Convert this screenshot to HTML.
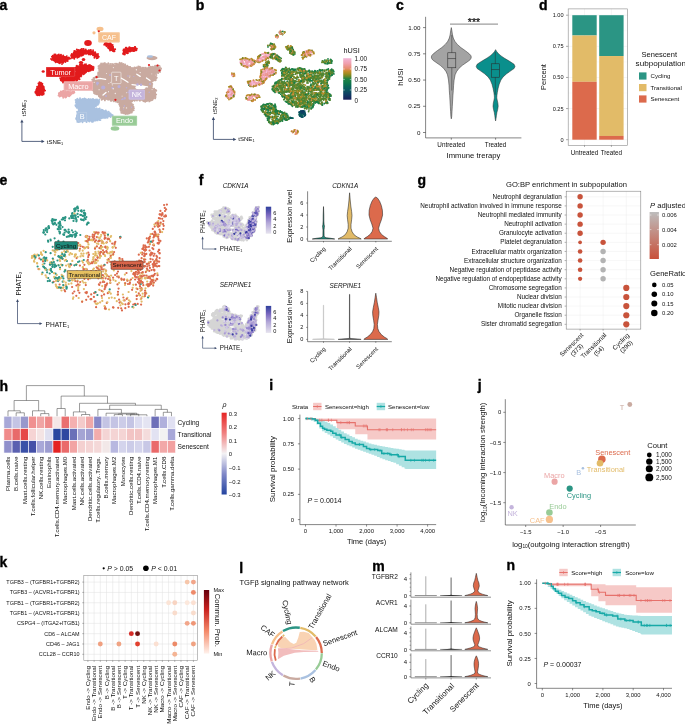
<!DOCTYPE html>
<html><head><meta charset="utf-8"><style>
html,body{margin:0;padding:0;background:#fff;width:685px;height:724px;overflow:hidden}
svg{display:block;will-change:transform}
text{font-family:"Liberation Sans", sans-serif}
</style></head><body>
<svg width="685" height="724" viewBox="0 0 685 724">
<rect width="685" height="724" fill="#fff"/>
<g fill="#111">
<g>
<ellipse cx="88" cy="43" rx="3.8" ry="3" fill="#e21a1c"/>
<path d="M52 56 L55 54.5 L60 55 L65 56 L69.5 57.5 L69 59.5 L66 61.5 L62 63.5 L57 63 L53 61 L51.5 58.5 Z" fill="#e21a1c"/>
<path d="M71 56 L73 52.5 L77 50 L81 49.3 L85 49.5 L87.5 51 L86 54 L82 55.5 L78 57 L74 58.5 L71 58 Z" fill="#e21a1c"/>
<path d="M87.5 51 L90 49.8 L93 51 L96 53 L99 55.5 L98 58 L95 57.5 L92 55 L89 54.5 L86 54 Z" fill="#e21a1c"/>
<ellipse cx="83.5" cy="59.5" rx="1.8" ry="1.5" fill="#e21a1c"/>
<ellipse cx="81" cy="62.5" rx="2.2" ry="1.5" fill="#e21a1c"/>
<path d="M76 66 L80 65 L84 64.7 L89 65 L93 66.5 L93.5 69 L91 71 L87 72 L84 73.5 L81 76 L79 79 L76 80.2 L75 76 L75.3 70 Z" fill="#e21a1c"/>
<path d="M60 78 L66 77 L75 76.9 L78.6 77.5 L77 80 L72 82 L66 83 L61 81.5 Z" fill="#e21a1c"/>
<path d="M39 83 L41 82.4 L42.5 84 L43 86.5 L44.9 89 L44.5 92.5 L42 95 L38 95.6 L35.5 94 L35 91 L37 88 L38 85 Z" fill="#e21a1c"/>
<path d="M104 43 L109 42.8 L112 43.5 L112.5 46 L114 48 L115.1 50.5 L113 51.5 L110 50 L108 47 L105 45 Z" fill="#e21a1c"/>
<path d="M124 48.5 L128 47.5 L132 46.9 L136 47.2 L136.7 49.5 L134.5 51.5 L130 52 L126 53.5 L123.5 55 L122.7 53 L123.5 50 Z" fill="#e21a1c"/>
<ellipse cx="43.2" cy="71.5" rx="1.6" ry="1.3" fill="#e21a1c"/>
<path d="M99.3 64.8 L102 63.8 L105.2 63.2 L109 64.2 L113.4 64.4 L117 63.4 L120.4 63.2 L124 64.5 L128.5 66.1 L131 67 L134.4 67.9 L137 67 L140.2 66.7 L142.5 67.8 L144.9 68.5 L147.5 67.3 L150.7 66.7 L153 66.4 L155.4 66.1 L158 66 L160 66.7 L160.7 69 L160.4 70.2 L158.9 72.6 L156.4 74 L155.4 74.9 L156.4 77.7 L155 80 L153.6 80.7 L152.3 82.5 L152.3 87.3 L155.6 90.5 L156.4 94.5 L155.5 97 L153.1 99.3 L150 100.5 L147.5 101.8 L143.5 101 L139 100.6 L135.5 100.1 L130.7 102.6 L133.9 106.6 L133.1 111.4 L130 113.5 L127.4 114.6 L124 114 L121.8 113 L120.2 108.2 L118.6 102.6 L113 101 L108.2 100.1 L104 99.8 L101.8 99.3 L99.5 96.5 L97.7 94.5 L94.5 93.5 L92.9 92.1 L92.3 88 L92.1 84.1 L92.9 78.5 L95 77.3 L97 76 L99.3 71.4 L98.8 68 Z" fill="#c9aaa0"/>
<ellipse cx="152" cy="58" rx="5.5" ry="2.2" fill="#c9aaa0"/>
<path d="M75.5 100 L78 98.7 L82 99 L86 98.5 L90 99.5 L95 99 L99 100 L100 103 L97 105 L95 108 L99 109 L104 110 L108 112 L112 114 L113 116 L110 117 L106 117.5 L102 119 L98 120 L94 121.8 L88 121.5 L82 121.8 L77 121.5 L76 118 L77 114 L78 110 L76 106 L75.3 103 Z" fill="#a9c1e0"/>
<ellipse cx="115" cy="128.5" rx="4.3" ry="2.2" fill="#98cb96"/>
<path d="M58.5 93 L62 91.3 L68 91 L74 91.5 L74.2 93.5 L70 95 L66 97.8 L62 97 L59 95.5 Z" fill="#eba5a5"/>
<ellipse cx="100" cy="29" rx="3.5" ry="2.2" fill="#f6c08c"/>
<ellipse cx="94" cy="32.8" rx="1.6" ry="1.6" fill="#f6c08c"/>
<path d="M52.8 56.1h0M52.8 55.6h0M54.3 54.5h0M55.5 54.4h0M58.2 54.8h0M58.3 55.4h0M58.9 54.4h0M63.2 55.4h0M61 54.7h0M61 55.2h0M60.8 54.9h0M66.8 56.1h0M68.8 57.4h0M66.4 56.7h0M69.2 58h0M69.7 58.8h0M66.7 60.9h0M67.7 61.1h0M67.6 60h0M65.4 61.9h0M65.4 62.1h0M63.2 62.8h0M59.8 63.3h0M60 62.7h0M62 64.1h0M58.9 62.8h0M55.6 62.3h0M55.3 61.6h0M55.5 62.1h0M52 59.9h0M51 58.9h0M52.4 56.7h0M51.9 56.6h0M71.3 55h0M71.8 54h0M71.8 54.1h0M75.3 51.3h0M74.3 51h0M73.8 52.5h0M80.6 49.8h0M78.4 50h0M76.8 49.4h0M83.7 49h0M83.3 48.9h0M81.7 48.9h0M85.9 49.9h0M85.8 49.4h0M86.8 51.8h0M87.8 51.3h0M87.3 52h0M85.3 53.6h0M82.7 55.3h0M83.3 54.7h0M78.5 57h0M81.3 55.7h0M79.5 56.5h0M77.5 57.6h0M74.3 58.7h0M77.3 57.8h0M72.5 57.7h0M70.8 58.4h0M71.1 55.7h0M71.6 56.5h0M88.6 50.2h0M88.2 50.7h0M90.1 50.2h0M90.9 49.9h0M93.1 50.3h0M93.4 52h0M95.2 52.2h0M95.4 52.9h0M97.5 54.1h0M98 53.9h0M97.7 54.4h0M97.7 58.1h0M98.8 56.8h0M96.7 58.3h0M96.7 58.2h0M94.7 56.7h0M94.4 57.8h0M93 55.3h0M90.5 54.5h0M90 54.2h0M88.7 54.4h0M86.2 53.8h0M87.6 51.1h0M86.5 51.5h0M86.8 51h0M79.9 64.6h0M76.4 66.1h0M76.9 65.8h0M84.4 64.5h0M81 64.4h0M82.1 64.2h0M88.7 65.1h0M86 64.3h0M89.1 65.5h0M84.2 64.9h0M93 66.7h0M91.4 66h0M89.9 65h0M93.7 67.1h0M93.5 68.7h0M92.3 69.6h0M93.1 70.1h0M92.5 69.7h0M88.8 71.3h0M90.6 70.5h0M88.3 71h0M84.8 73.3h0M86 72.3h0M85.8 72.2h0M80.8 76.2h0M81.4 75.7h0M83.7 74.3h0M80.9 76.5h0M78.6 78.5h0M79.6 79.2h0M76.8 80.2h0M78.4 78.8h0M77.1 79.6h0M76.5 80.3h0M75.5 78.3h0M75.4 78.1h0M74.5 74.6h0M75.2 73h0M74.7 73.4h0M75.5 74.3h0M75.7 68.1h0M75.3 70h0M75.7 67.6h0M64.1 77.3h0M62.5 77.4h0M63.9 77.9h0M61.8 77.2h0M66.7 77.4h0M67.8 77.4h0M69 77.4h0M69.6 77.2h0M71.8 77.4h0M74.7 76.5h0M75.6 77.1h0M77.2 77.6h0M77.4 77.3h0M78.6 77.4h0M77.4 80.1h0M76.2 81.1h0M76.6 80.7h0M73.9 81.3h0M72.9 81.7h0M67.1 82.4h0M69.6 82.8h0M65.8 83.1h0M69.1 82.2h0M65.1 82h0M65 82.1h0M63 82.5h0M64.7 82.7h0M60.8 80.2h0M60.7 79.5h0M60.1 78.1h0M41 82.6h0M39.5 82.3h0M41.8 84h0M42.4 83.6h0M42.6 86.4h0M42.6 85.4h0M43.7 86.8h0M43.8 87.4h0M45.1 90.6h0M44.9 90.6h0M44.2 89.4h0M43.5 94.4h0M43.8 93.7h0M42.3 94.9h0M37.8 95.2h0M39.6 95.2h0M41.9 94.9h0M37.4 95.1h0M36.6 94.7h0M35.5 92.7h0M35.3 91.9h0M36.4 89.6h0M37 89h0M36.8 88.4h0M37.5 87.7h0M37.1 86.8h0M38.4 83.5h0M38.8 83.9h0M106 42.4h0M107.1 43.1h0M106.2 43h0M104.7 43.4h0M109.3 43.4h0M110.4 43.2h0M112 45.5h0M112.7 45h0M113.1 47.3h0M113.1 46.8h0M114 49.4h0M115.2 49.2h0M113.4 51.2h0M114.5 51.3h0M112.6 50.8h0M110 50.5h0M110.9 50.1h0M108.5 48h0M108.4 48.2h0M109.8 49.5h0M106.6 46.3h0M106 45.6h0M108 47.4h0M104.2 44.8h0M104.7 43.5h0M125.8 47.7h0M126.3 47.7h0M125.8 47.6h0M129.3 47.3h0M130 47.4h0M129.4 47.8h0M135.4 47.6h0M135.2 47h0M134.8 47h0M136.9 48.8h0M136.1 48.9h0M134.7 50.7h0M136.4 50.2h0M129.9 51.4h0M130.2 51.6h0M133.5 51h0M127.7 53.2h0M126.8 53.1h0M128 53.1h0M124.9 54.4h0M124.3 54.5h0M123.1 53.4h0M123.1 53.9h0M123.3 50.6h0M123.6 51.1h0M123.6 49.4h0" stroke="#e21a1c" stroke-width="1.9" stroke-linecap="round"/>
<path d="M100.2 65.1h0M101.1 63.5h0M104.6 63.2h0M104.6 63.2h0M103 63.4h0M108.3 63.3h0M106.7 64.1h0M105 63.1h0M112 63.9h0M112.9 64.8h0M110.2 64h0M115.2 63.6h0M116.8 63.7h0M114 64.2h0M120.6 63.6h0M119.4 63.7h0M119.6 62.8h0M121.8 63.2h0M121.7 63.1h0M123.5 64h0M125.2 64.8h0M127.4 65.7h0M125.2 64.5h0M128.8 67h0M130.2 67h0M134.7 68.4h0M134.5 67.4h0M132.9 68.1h0M136.7 67.5h0M135.9 67.7h0M138.2 67.5h0M138.3 66.4h0M139.3 67.3h0M140.5 67.2h0M139.8 66.8h0M142.7 67.7h0M144 67.7h0M145.5 68.6h0M145.8 67.7h0M149.1 67.3h0M148.9 67.2h0M150.7 66.7h0M152.3 67h0M152.8 66.8h0M155.1 65.7h0M155.1 66.2h0M156.6 66.5h0M157.6 65.5h0M159.7 66.2h0M158.8 65.6h0M159.8 67.4h0M161.1 68.5h0M160.6 69.7h0M160 72h0M159.9 70.9h0M158.2 73.1h0M158.1 73h0M156.4 74.9h0M155.8 76.4h0M156.8 77.7h0M155.7 80.2h0M155.8 78.9h0M154.8 80.2h0M153.1 80.8h0M153 80.8h0M152 83.8h0M152 85.9h0M152.3 84h0M154.5 89.8h0M154.2 88.8h0M155.8 89.9h0M156.3 90.7h0M155.3 90.6h0M156.2 94.6h0M155.2 96.7h0M155.6 97h0M155.2 98.4h0M155.3 97.1h0M153.4 98.3h0M152.2 100h0M150.8 100.5h0M152.7 99.6h0M149.3 101.4h0M150.1 100.2h0M146.4 101.1h0M145.3 101.8h0M143.3 101h0M139.5 100.3h0M139.9 100.7h0M144 101.2h0M136.3 99.9h0M137 100.6h0M135.7 99.9h0M132 101.4h0M134.6 100.7h0M130.9 102.6h0M134.7 100.2h0M132.6 105h0M131.8 103.9h0M132.3 105.5h0M133 104.8h0M133.9 108.3h0M133.7 110.3h0M133.3 108.5h0M133.5 106.8h0M131.7 112.6h0M130.6 112.5h0M131.8 112.5h0M129.4 113.3h0M127.9 113.8h0M125.7 114h0M125.4 113.7h0M125.8 114.1h0M122.5 112.7h0M124.1 113.4h0M121 110.9h0M121.3 112.7h0M120.5 108.2h0M120.4 109.8h0M120.2 106.2h0M119.1 104.1h0M119.7 104.7h0M119.3 104.4h0M115.5 101.6h0M113.7 101.2h0M118.3 102.1h0M117.3 102.3h0M111.5 100.8h0M110.6 100.1h0M111.4 100.7h0M110.8 100.8h0M104.8 99.7h0M104.9 100.4h0M108.1 99.7h0M102.6 99.2h0M101.6 99.8h0M100.8 97.8h0M100.1 97.8h0M100.1 96.5h0M98.3 94.8h0M98.9 96.2h0M96.6 94.2h0M96.9 94h0M95.2 93.9h0M94.7 92.8h0M94 93h0M92.4 89.7h0M92.8 88.3h0M92.8 88.5h0M91.8 84.9h0M91.8 86.9h0M91.9 84.9h0M92.6 82.8h0M92.2 79.7h0M92.2 82.4h0M92.7 81.8h0M93.5 78.1h0M94.4 77.6h0M95.8 76.9h0M96.4 76.5h0M98.3 73.8h0M98.2 72.5h0M99.4 71.9h0M98 73.9h0M99.2 68.4h0M99.1 70h0M99.2 67.8h0M98.5 66.2h0M98.5 68.1h0M99.5 65.6h0" stroke="#c9aaa0" stroke-width="1.9" stroke-linecap="round"/>
<path d="M76.5 100.2h0M77.3 98.6h0M80.8 99.4h0M80 98.3h0M81.8 99.4h0M84.5 98.4h0M85.6 99.2h0M82.8 98.9h0M88.1 99.5h0M89.1 99.5h0M88.7 98.9h0M93.4 99.3h0M92 99.5h0M93 98.9h0M90.6 99.3h0M96 99.4h0M99.2 99.8h0M97.1 99.5h0M99 101.1h0M99 101.5h0M98.5 103.8h0M97.8 104.8h0M97.6 104h0M96.3 105.5h0M95.6 106h0M96.1 106.1h0M96.8 108.5h0M98.6 108.9h0M96.2 108.5h0M99.7 108.5h0M102.6 110h0M101.5 109.6h0M99.1 108.9h0M105.3 111.2h0M105.8 110.4h0M106.7 111.5h0M108.7 111.8h0M109.6 113.3h0M110.5 113.5h0M111.7 114.9h0M112.7 115.2h0M110.6 117.1h0M110.8 116.3h0M107.5 117.7h0M107.6 117.2h0M105.9 117.7h0M104.4 117.4h0M105.5 117.7h0M104.2 117.9h0M99.7 120.1h0M100.4 120.1h0M98.8 119.5h0M98 119.7h0M95.7 120.5h0M97.5 120.4h0M88.9 121h0M89.4 121.5h0M91.9 121.8h0M92.9 121.8h0M86.6 122h0M82.4 121.3h0M82.5 122.2h0M86.5 122h0M80 121.7h0M77.4 121.4h0M77.4 121.9h0M78.6 122.1h0M77.1 119.9h0M76.1 118.2h0M76.2 119h0M77 115.4h0M77.2 114.9h0M77 116.7h0M77.1 111.8h0M77.5 113.7h0M77.4 112.7h0M76.8 107.8h0M76.2 106.6h0M75.8 106.4h0M75.4 105.5h0M75.4 105.3h0M75.8 102.1h0M75.6 99.9h0" stroke="#a9c1e0" stroke-width="1.9" stroke-linecap="round"/>
<path d="M58.9 93.3h0M60 92.6h0M60.7 91.5h0M63.5 91h0M62.2 91.5h0M63.2 91h0M65.2 90.9h0M73.8 91.8h0M68.2 91.5h0M72.7 91.4h0M70.5 90.6h0M74.4 92.6h0M74.1 91.8h0M70.4 95.4h0M72.9 93.4h0M71.3 94.1h0M68.7 96.1h0M69.2 96.2h0M69.6 95h0M65.5 97.5h0M63.2 97.7h0M66 97.2h0M63.5 97.1h0M60.4 96.1h0M59.7 95.6h0M59.7 96.5h0M58.8 93.9h0M58.5 95.6h0" stroke="#eba5a5" stroke-width="1.9" stroke-linecap="round"/>
<path d="M95.5 79.2 L100 78.4 L105.6 79.3" fill="none" stroke="#ffffff" stroke-width="1.3" stroke-linecap="round"/>
<path d="M121.4 78.2 L124.5 80 L128 82.2" fill="none" stroke="#ffffff" stroke-width="1.3" stroke-linecap="round"/>
<path d="M136.8 74.2 L140.2 76.4" fill="none" stroke="#ffffff" stroke-width="1.3" stroke-linecap="round"/>
<path d="M132 84.6 L138 85.4 L147.5 86.8" fill="none" stroke="#ffffff" stroke-width="1.3" stroke-linecap="round"/>
<path d="M103 95 L106 92.5" fill="none" stroke="#ffffff" stroke-width="1.3" stroke-linecap="round"/>
<path d="M146.5 78 L150 80.5" fill="none" stroke="#ffffff" stroke-width="1.3" stroke-linecap="round"/>
<ellipse cx="140.5" cy="87.4" rx="5.2" ry="1.9" fill="#ffffff"/>
<path d="M103.2 87.5h0" stroke="#b9aedb" stroke-width="4.2" stroke-linecap="round"/>
<path d="M119 86.5h0" stroke="#b9aedb" stroke-width="3" stroke-linecap="round"/>
<path d="M137.5 84.5h0" stroke="#b9aedb" stroke-width="2.6" stroke-linecap="round"/>
<path d="M141 84.7h0M124.7 98.3h0" stroke="#b9aedb" stroke-width="2.4" stroke-linecap="round"/>
<path d="M97.5 83.2h0" stroke="#b9aedb" stroke-width="2.8" stroke-linecap="round"/>
<path d="M112.4 87.8h0" stroke="#b9aedb" stroke-width="2.2" stroke-linecap="round"/>
<path d="M110 75h0M150 84h0M106 96h0M122.6 99.2h0" stroke="#b9aedb" stroke-width="1.8" stroke-linecap="round"/>
<path d="M128 76h0M97.2 84.8h0M126.5 87.7h0M124.4 106h0M128.1 92.2h0" stroke="#b9aedb" stroke-width="1.6" stroke-linecap="round"/>
<path d="M121.8 99.6h0M133.8 76.5h0M123.5 109h0" stroke="#b9aedb" stroke-width="1.2" stroke-linecap="round"/>
<path d="M149.2 92.2h0M131.6 107.3h0" stroke="#b9aedb" stroke-width="1.4" stroke-linecap="round"/>
<path d="M139.9 95.4h0M112.3 84.8h0M94.2 82.3h0M113.4 67.6h0M99.1 89.7h0M108.5 91.7h0" stroke="#f3ecea" stroke-width="1.2" stroke-linecap="round"/>
<path d="M122.1 96.2h0M126.7 92.7h0M108.8 83.5h0M152.1 89.6h0M133.5 93.2h0M110.3 82.4h0M106.6 73.5h0M129.9 76.1h0" stroke="#f3ecea" stroke-width="1" stroke-linecap="round"/>
<path d="M115.3 93.5h0M136.4 69.8h0M140.2 72.6h0M133.8 94.9h0M113.2 88.8h0M126.5 107.9h0" stroke="#f3ecea" stroke-width="1.4" stroke-linecap="round"/>
<path d="M151.8 73.9h0M123.8 107.7h0M129.7 77.4h0M159.2 66.7h0M114.9 64.2h0" stroke="#f3ecea" stroke-width="0.8" stroke-linecap="round"/>
<ellipse cx="150" cy="56.5" rx="3" ry="1.2" fill="#a9c1e0"/>
<circle cx="149" cy="65" r="1.1" fill="#e21a1c"/>
<circle cx="157.5" cy="65.5" r="1.1" fill="#e21a1c"/>
<circle cx="159.5" cy="70.5" r="1.1" fill="#e21a1c"/>
<circle cx="96.6" cy="77.2" r="1.1" fill="#e21a1c"/>
<circle cx="98.8" cy="31.3" r="1.1" fill="#e21a1c"/>
<circle cx="115.4" cy="99.8" r="1.1" fill="#e21a1c"/>
<rect x="98.2" y="32.3" width="21.6" height="10.1" fill="#f6c08c" rx="0.8"/>
<rect x="98.8" y="32.9" width="20.4" height="8.9" fill="none" stroke="#ffffff" stroke-width="0.35" rx="0.6" stroke-opacity="0.45"/>
<text x="109" y="39.95" font-size="7" text-anchor="middle" fill="#ffffff">CAF</text>
<rect x="46" y="67" width="29.3" height="9.9" fill="#e21a1c" rx="0.8"/>
<rect x="46.6" y="67.6" width="28.1" height="8.7" fill="none" stroke="#ffffff" stroke-width="0.35" rx="0.6" stroke-opacity="0.45"/>
<text x="60.65" y="74.55" font-size="7.3" text-anchor="middle" fill="#ffffff">Tumor</text>
<rect x="63.7" y="81.3" width="29.3" height="9.4" fill="#eba5a5" rx="0.8"/>
<rect x="64.3" y="81.9" width="28.1" height="8.2" fill="none" stroke="#ffffff" stroke-width="0.35" rx="0.6" stroke-opacity="0.45"/>
<text x="78.35" y="88.6" font-size="7.3" text-anchor="middle" fill="#ffffff">Macro</text>
<rect x="111.6" y="72.2" width="9.4" height="11.4" fill="none" stroke="#ffffff" stroke-width="0.5" rx="0.8"/>
<text x="116.3" y="80.5" font-size="7.3" text-anchor="middle" fill="#ffffff">T</text>
<rect x="128.6" y="89.5" width="16.3" height="10.2" fill="#c4b4dc" rx="0.8"/>
<rect x="129.2" y="90.1" width="15.1" height="9" fill="none" stroke="#ffffff" stroke-width="0.35" rx="0.6" stroke-opacity="0.45"/>
<text x="136.75" y="97.2" font-size="7.3" text-anchor="middle" fill="#ffffff">NK</text>
<rect x="77.3" y="111.7" width="10" height="9.8" fill="#a9c1e0" rx="0.8"/>
<rect x="77.9" y="112.3" width="8.8" height="8.6" fill="none" stroke="#ffffff" stroke-width="0.35" rx="0.6" stroke-opacity="0.45"/>
<text x="82.3" y="119.2" font-size="7.3" text-anchor="middle" fill="#ffffff">B</text>
<rect x="111.9" y="115.7" width="25.2" height="10.1" fill="#98cb96" rx="0.8"/>
<rect x="112.5" y="116.3" width="24" height="8.9" fill="none" stroke="#ffffff" stroke-width="0.35" rx="0.6" stroke-opacity="0.45"/>
<text x="124.5" y="123.35" font-size="7.3" text-anchor="middle" fill="#ffffff">Endo</text>
</g>
<path d="M21.9 121.5 L21.9 141.4 L42.6 141.4" fill="none" stroke="#3b4a6b" stroke-width="0.85"/>
<path d="M20.3 122.6 L21.9 119.5 L23.5 122.6 Z" fill="#3b4a6b"/>
<path d="M41.5 139.8 L44.6 141.4 L41.5 143 Z" fill="#3b4a6b"/>
<text x="46.8" y="143.6" font-size="6.1">tSNE<tspan font-size="3.9" dy="1.1">1</tspan></text>
<text x="25.8" y="116.3" font-size="6.1" transform="rotate(-90 25.8 116.3)">tSNE<tspan font-size="3.9" dy="1.1">2</tspan></text>
<g>
<path d="M273.9 47.9h0M271.9 46.9h0M270.6 44.3h0M272.9 44.6h0M273.5 48.2h0M271.7 49h0M269.9 45.4h0M271.8 46.6h0M272.5 44h0" stroke="#b98c28" stroke-width="1.9" stroke-linecap="round"/>
<path d="M272.9 45.3h0M272.3 44.5h0M271.3 45.9h0M274.7 46.8h0M271.8 49.5h0M274.4 45.4h0M270.5 44.7h0" stroke="#798826" stroke-width="1.9" stroke-linecap="round"/>
<path d="M272.4 47.1h0M271.4 45.1h0M271.5 46.7h0M273.2 46.4h0M273 44.5h0M274.4 45.1h0M271.8 49.1h0M273.8 47.9h0" stroke="#a08c20" stroke-width="1.9" stroke-linecap="round"/>
<path d="M271.5 45.4h0M274.3 48.3h0M270.8 48.8h0" stroke="#e99283" stroke-width="1.9" stroke-linecap="round"/>
<path d="M271 48.9h0M273.4 47.8h0M271.7 48.5h0M274.4 46.3h0" stroke="#d18c40" stroke-width="1.9" stroke-linecap="round"/>
<path d="M273.3 48.9h0" stroke="#1e8246" stroke-width="1.9" stroke-linecap="round"/>
<path d="M272.2 49h0M272.7 47h0" stroke="#e68c6e" stroke-width="1.9" stroke-linecap="round"/>
<path d="M274.7 47.3h0M274.9 47.4h0M274.3 48.8h0M271.7 49.4h0M275.1 46.3h0M269.2 45.3h0" stroke="#4e8532" stroke-width="1.8" stroke-linecap="round"/>
<path d="M271 43.3h0M274.2 44.2h0M272.5 49.2h0M274.1 48.5h0M274.6 48.2h0M267.8 45.4h0" stroke="#798826" stroke-width="1.8" stroke-linecap="round"/>
<path d="M272.1 43.9h0M268 46.9h0M270.6 43.5h0" stroke="#1e8246" stroke-width="1.8" stroke-linecap="round"/>
<path d="M274.2 47.1h0M272 49.1h0" stroke="#a08c20" stroke-width="1.8" stroke-linecap="round"/>
<path d="M275.6 46.9h0" stroke="#b98c28" stroke-width="1.8" stroke-linecap="round"/>
<path d="M246.7 62.7h0M252.7 61.3h0M248.3 66.3h0M253.3 64.1h0M246.6 62.4h0M246.3 62.2h0M242.1 59.1h0M252.2 59.8h0M251.8 63.3h0M247 60.3h0M249 62.2h0M250.5 64.8h0M242.8 61.4h0M253 60.7h0M250.4 61.5h0M245 60.1h0M247.3 60.1h0M246.1 61.3h0M245.2 58.7h0M247.3 59.5h0M247.1 60.6h0M247.1 63.8h0M243.2 64.1h0M245.6 65.9h0M247.6 66h0M252.1 61.9h0M244.7 63.7h0" stroke="#f1aec9" stroke-width="1.9" stroke-linecap="round"/>
<path d="M243.1 58.8h0M249.7 60.6h0M241.8 60.8h0M240.5 62.1h0M251.9 61.6h0M251.5 62.5h0M248.4 62.3h0M250.3 59.2h0M250.7 64.1h0M249.5 65.9h0M247.7 61.6h0M251.2 62.3h0M255.2 61h0M243.2 65.2h0M242.4 63.5h0M247.8 65.5h0M247.8 64.1h0M245.4 60.4h0M252.4 61.6h0M247.5 60.7h0M247.1 65.8h0M245 63.8h0M247.8 62.8h0M254.7 60.9h0M252.8 63.7h0M254.6 62.5h0" stroke="#f0a7bc" stroke-width="1.9" stroke-linecap="round"/>
<path d="M255.5 61.4h0M243.2 63.1h0M247.8 60.3h0M242.5 61.8h0M242 62.9h0M249.1 59.3h0M251.8 63.9h0M243.7 63.6h0M246.5 64h0M240.4 62.2h0M242.9 64.8h0M250.7 65.1h0M255.3 61.3h0M250.3 65.2h0M246 61.2h0M251.8 64.8h0M244.8 63.6h0M253.2 61.5h0" stroke="#f2b6d7" stroke-width="1.9" stroke-linecap="round"/>
<path d="M243.5 63.3h0M241.4 60.6h0M250.5 65h0M245.8 62.1h0M244.8 60.1h0M246.9 64.1h0M254.5 63.3h0M247.1 62.7h0M241.7 62.6h0M251.4 60.3h0M251.2 61.6h0M243 62.6h0M250.3 65.3h0M248.6 61.4h0M250.1 61.5h0M248.5 65.7h0M241.8 60.1h0M250.7 61.3h0M246.4 59.6h0M255.1 61.2h0M245.7 61.2h0" stroke="#f0a0af" stroke-width="1.9" stroke-linecap="round"/>
<path d="M246 66.4h0M244.8 60.1h0M252.6 60.1h0M246.5 65.4h0M248.7 60.1h0M242.6 60.8h0" stroke="#ec9999" stroke-width="1.9" stroke-linecap="round"/>
<path d="M252.6 60.4h0M251.6 63.5h0M252.6 63.7h0" stroke="#e99283" stroke-width="1.9" stroke-linecap="round"/>
<path d="M254.1 62.1h0" stroke="#e68c6e" stroke-width="1.9" stroke-linecap="round"/>
<path d="M241.6 59.2h0M245.2 57.8h0M246 58.5h0M249.5 59.7h0M252.4 59.4h0M252.6 60.4h0M254.6 60.8h0M255 62.6h0M251.4 65.5h0M251.2 65.8h0M247.6 67.3h0M241.6 64.9h0M240.1 59.4h0" stroke="#a08c20" stroke-width="1.8" stroke-linecap="round"/>
<path d="M242.8 58.3h0M254.3 61.1h0" stroke="#4e8532" stroke-width="1.8" stroke-linecap="round"/>
<path d="M242.7 57.8h0M243.4 66.1h0M241.5 63.9h0" stroke="#798826" stroke-width="1.8" stroke-linecap="round"/>
<path d="M246.7 58.3h0M243.8 58.5h0M251.3 58.7h0M247.9 58.9h0M253.8 64.1h0M252.5 65.2h0M251 65.9h0M247 66.9h0M245 65.9h0M240.7 63.3h0" stroke="#b98c28" stroke-width="1.8" stroke-linecap="round"/>
<path d="M254 60.2h0M256 60.9h0M253.9 64.3h0M247.3 67.4h0M244 65.9h0M244.4 65.8h0M241.3 59.2h0" stroke="#d18c40" stroke-width="1.8" stroke-linecap="round"/>
<path d="M252 65.5h0M245.2 66.7h0" stroke="#e68c6e" stroke-width="1.8" stroke-linecap="round"/>
<path d="M261.6 57.7h0M261.3 61.1h0M260.9 54.8h0M264.9 58h0M266.8 55.1h0M264.7 57h0M262 54.2h0M266.6 56.5h0M268.9 55.8h0M263.4 53.7h0M264.1 59.4h0M266.2 58.1h0M261 57.4h0M260.5 60.7h0M265.4 57.5h0M259.7 56.4h0M265.2 57.1h0M269.6 57h0M269.7 54.7h0M263 54h0M265.4 57.1h0M265.9 58.6h0M268.1 57.4h0M264.9 53h0M258.7 60.4h0M269.9 56h0" stroke="#f0a7bc" stroke-width="1.9" stroke-linecap="round"/>
<path d="M265.8 58.7h0M270.5 56.1h0M258.6 58.3h0M262.8 57.4h0M261.1 58.8h0M270.1 54h0M266.5 57.9h0M263 57.4h0M262.2 60.1h0M260.2 58.4h0M267.4 57.1h0M259.4 56.5h0M260.1 59.3h0M269.6 55.6h0M269.2 54.2h0M267.5 54.6h0M267.8 54.1h0" stroke="#f1aec9" stroke-width="1.9" stroke-linecap="round"/>
<path d="M265 53.6h0M266.6 56.8h0M265.7 53.8h0M263 60.1h0M264.6 56.5h0M263.1 57h0M265.5 54h0M266.2 58h0M267.2 56.2h0M266 57h0M266.5 58.8h0M262.9 57.4h0M262.2 58.4h0M259.4 55.6h0M265.2 55h0M260.3 58.2h0M268.3 54h0M268.2 54.6h0M259.2 57.3h0M261.9 60h0" stroke="#f0a0af" stroke-width="1.9" stroke-linecap="round"/>
<path d="M266.5 57.2h0M268.2 56.1h0M258.2 57.8h0M266.3 54.3h0M260.6 56.9h0M263.7 56.7h0M262.6 58.5h0M267.5 54.4h0M258.2 58.3h0M263.8 56.1h0M258.8 61.6h0M259.6 60.2h0" stroke="#f2b6d7" stroke-width="1.9" stroke-linecap="round"/>
<path d="M265.7 56.8h0M265.2 57.6h0M263.3 56.8h0M269.1 57h0M265.2 56.5h0M258.7 61.5h0M258.1 60.2h0" stroke="#ec9999" stroke-width="1.9" stroke-linecap="round"/>
<path d="M258.7 58.3h0M266.7 57.2h0" stroke="#e99283" stroke-width="1.9" stroke-linecap="round"/>
<path d="M258.4 58.2h0M258.3 56.5h0M268.6 58.6h0M262.2 61.1h0M260.4 61.9h0M257.3 61.9h0" stroke="#d18c40" stroke-width="1.8" stroke-linecap="round"/>
<path d="M257.7 58.5h0M259.8 55.3h0M258.9 56h0M265.5 52.9h0M266.1 52.8h0M264.9 52.3h0M267.8 53h0M271.2 54.1h0M270.4 56.9h0M266.2 59.7h0M265.3 60.2h0M266.1 59h0M262.9 60.4h0" stroke="#b98c28" stroke-width="1.8" stroke-linecap="round"/>
<path d="M257.8 56.9h0M271.6 54.9h0M270.2 56.6h0M270.6 54.7h0M267.7 58h0M259 62.4h0" stroke="#a08c20" stroke-width="1.8" stroke-linecap="round"/>
<path d="M259.4 56.5h0M268.5 52.6h0M271.7 54.4h0M257.5 61.5h0" stroke="#798826" stroke-width="1.8" stroke-linecap="round"/>
<path d="M260.5 54.9h0M268 53h0" stroke="#4e8532" stroke-width="1.8" stroke-linecap="round"/>
<path d="M270.2 57.1h0M257.7 61.1h0" stroke="#e68c6e" stroke-width="1.8" stroke-linecap="round"/>
<path d="M257.2 59.7h0" stroke="#e99283" stroke-width="1.8" stroke-linecap="round"/>
<path d="M276.6 58.6h0M277.4 58.3h0M275.4 54.5h0M277.3 56.9h0M278.5 59.4h0M272.2 56.8h0M279.5 60.3h0M279.8 59.9h0M279.9 61.4h0M278.5 60.5h0M277.3 57.6h0M272.1 56h0M278.8 58.3h0" stroke="#a08c20" stroke-width="1.9" stroke-linecap="round"/>
<path d="M272.8 54.2h0M271.1 57.7h0" stroke="#177d48" stroke-width="1.9" stroke-linecap="round"/>
<path d="M275.5 54.8h0M271.3 55.7h0M274.2 58.1h0" stroke="#e68c6e" stroke-width="1.9" stroke-linecap="round"/>
<path d="M272.4 55.6h0M276.4 58.7h0M279.1 59.6h0M279.5 61.3h0M275 57.3h0M277.5 59.1h0M277.4 57.6h0M271 56.9h0" stroke="#4e8532" stroke-width="1.9" stroke-linecap="round"/>
<path d="M271 57.2h0M278.9 61h0M277.2 58.1h0M271.2 55.7h0M275.4 57.6h0M276.8 58.4h0" stroke="#b98c28" stroke-width="1.9" stroke-linecap="round"/>
<path d="M275.2 58.3h0M276.3 58.2h0M275.8 57.7h0M277.8 60.4h0" stroke="#1e8246" stroke-width="1.9" stroke-linecap="round"/>
<path d="M272.1 56.4h0M272.3 56.1h0M273.5 54.4h0M276.6 57.2h0M280.3 60.1h0M279.1 57.1h0M275.6 56.2h0M274.6 57.6h0" stroke="#798826" stroke-width="1.9" stroke-linecap="round"/>
<path d="M277.4 55.9h0M277.9 56.5h0" stroke="#d18c40" stroke-width="1.9" stroke-linecap="round"/>
<path d="M274.5 54.3h0" stroke="#e99283" stroke-width="1.9" stroke-linecap="round"/>
<path d="M271.9 54.7h0" stroke="#11794a" stroke-width="1.9" stroke-linecap="round"/>
<path d="M272.4 53.7h0M275.6 58.7h0M271 57.5h0" stroke="#a08c20" stroke-width="1.8" stroke-linecap="round"/>
<path d="M273 54h0M274.1 53.7h0M277.7 56.1h0M281.2 58.4h0M279.9 61h0M281 60.9h0M277.9 60.4h0M272.3 57.4h0M272.6 58.5h0M271.1 55.8h0" stroke="#4e8532" stroke-width="1.8" stroke-linecap="round"/>
<path d="M273.8 54h0M278.7 56.6h0" stroke="#177d48" stroke-width="1.8" stroke-linecap="round"/>
<path d="M274.9 54.1h0M280.2 61.7h0M280.3 60.7h0M278.9 61.3h0M276.5 59.7h0M275.1 58.5h0M270.8 55.4h0M270 56.8h0" stroke="#798826" stroke-width="1.8" stroke-linecap="round"/>
<path d="M277.5 55.6h0M273.5 58.7h0" stroke="#b98c28" stroke-width="1.8" stroke-linecap="round"/>
<path d="M277 55.2h0M280 57.7h0M276.5 59h0M270.4 57.1h0" stroke="#1e8246" stroke-width="1.8" stroke-linecap="round"/>
<path d="M267.9 63.1h0M267.4 63.8h0" stroke="#b98c28" stroke-width="1.9" stroke-linecap="round"/>
<path d="M269 62.2h0M267.2 63h0M269 63.3h0" stroke="#4e8532" stroke-width="1.9" stroke-linecap="round"/>
<path d="M267.8 63.4h0M269.2 62.9h0" stroke="#a08c20" stroke-width="1.9" stroke-linecap="round"/>
<path d="M268.7 62.5h0M267.9 62h0" stroke="#798826" stroke-width="1.9" stroke-linecap="round"/>
<path d="M266.4 62.8h0" stroke="#1e8246" stroke-width="1.9" stroke-linecap="round"/>
<path d="M267.9 62.4h0" stroke="#e68c6e" stroke-width="1.9" stroke-linecap="round"/>
<path d="M266.4 62.3h0" stroke="#177d48" stroke-width="1.8" stroke-linecap="round"/>
<path d="M268.6 62h0M267.4 64h0M265.8 62.3h0" stroke="#4e8532" stroke-width="1.8" stroke-linecap="round"/>
<path d="M268.2 61.5h0M267 62.6h0" stroke="#1e8246" stroke-width="1.8" stroke-linecap="round"/>
<path d="M268.5 61.2h0M267.3 64.5h0M267.4 61.6h0" stroke="#798826" stroke-width="1.8" stroke-linecap="round"/>
<path d="M266.2 62.4h0" stroke="#a08c20" stroke-width="1.8" stroke-linecap="round"/>
<path d="M264.8 64.8h0M266.4 65.1h0M266.5 66.9h0M265.2 66.7h0M264.6 66.6h0M265.2 65.3h0M265.7 66.1h0" stroke="#a08c20" stroke-width="1.9" stroke-linecap="round"/>
<path d="M265.2 65.8h0" stroke="#e68c6e" stroke-width="1.9" stroke-linecap="round"/>
<path d="M266.2 65.2h0" stroke="#d18c40" stroke-width="1.9" stroke-linecap="round"/>
<path d="M264.3 66.2h0" stroke="#798826" stroke-width="1.9" stroke-linecap="round"/>
<path d="M264.5 66.8h0" stroke="#1e8246" stroke-width="1.9" stroke-linecap="round"/>
<path d="M265.9 65.5h0" stroke="#ec9999" stroke-width="1.9" stroke-linecap="round"/>
<path d="M265.4 66.8h0M266.9 67.5h0M267.9 65.6h0M266.2 64.5h0" stroke="#4e8532" stroke-width="1.8" stroke-linecap="round"/>
<path d="M263.5 65h0M265.1 64.5h0M265.5 64.8h0M264.3 66.3h0M267.4 66.8h0" stroke="#798826" stroke-width="1.8" stroke-linecap="round"/>
<path d="M263.6 66.4h0M266.8 64.8h0" stroke="#1e8246" stroke-width="1.8" stroke-linecap="round"/>
<path d="M264.5 65.5h0" stroke="#a08c20" stroke-width="1.8" stroke-linecap="round"/>
<path d="M265.3 70.4h0M270.4 72.8h0M266.1 78.4h0M272.6 71.9h0M269.2 70.7h0M264.6 72.3h0M268.1 71h0M273 72.8h0M271.3 73.6h0M265.7 70.6h0M265.4 72.4h0M267.8 76.8h0M272.4 71.2h0M262.9 77.2h0M272.8 74.2h0M262.6 76.4h0M270 73.2h0M268.3 73h0M269.2 68.6h0M263.5 80.6h0M266.8 71h0" stroke="#f2b6d7" stroke-width="1.9" stroke-linecap="round"/>
<path d="M262.3 71.4h0M261.2 79.5h0M262.4 74.1h0M264.4 80.5h0M267.3 70.1h0M271.1 68.6h0M274.5 70.1h0M264.6 75.9h0M269.4 72.3h0M267.7 75.8h0M273.4 70.5h0M264.6 69.1h0M268.6 75.1h0M271.9 74.7h0M271 72h0M263.1 81.8h0M270.6 69.1h0M263.6 80.1h0M273.6 73.6h0M266.9 78.1h0M263.8 72.6h0M262.4 78.7h0M263.1 72.3h0M274.1 71.5h0M263.2 75.1h0M266.5 78.2h0M273.5 72.6h0M262.2 74.6h0M262.9 73.4h0" stroke="#f1aec9" stroke-width="1.9" stroke-linecap="round"/>
<path d="M271.7 70h0M265.9 68.8h0M264.4 78.9h0M266.1 75.6h0M270.4 75.5h0M265.4 69.2h0M260.9 80.8h0M261.3 80.3h0M266.2 77.9h0M267.8 70.8h0M261.6 80.2h0M268.9 74.1h0M274.4 73.6h0M267 77.6h0M269.3 72.6h0M271.4 72.9h0M267 76.9h0M263.8 71.3h0M260.7 76.4h0M262.2 76.8h0M272.3 72.8h0M264.1 80h0M268.4 75.1h0M264.8 71.2h0M269.1 75h0M263.5 77.7h0M267.1 74.7h0M264.8 71.4h0M261.9 75.5h0M265 70.9h0M263.8 80.6h0M270.9 70.5h0M268.1 76.3h0M263.4 81.6h0M262.4 72.5h0M264.7 73.9h0" stroke="#f0a0af" stroke-width="1.9" stroke-linecap="round"/>
<path d="M261.2 71.9h0M267.5 76.5h0M268.8 68.7h0M261 73.6h0M261.9 75.9h0M272.9 71.1h0M263.8 69.3h0M268.7 76.7h0M268.7 70.4h0M269.8 73.7h0M267.2 74.4h0M265.4 72.6h0M264 82h0M264.5 77.4h0M263.2 81.1h0M268 70.1h0M264.8 69.8h0M272.1 71.4h0M263.6 81.5h0M267.7 74.5h0M261.3 77.3h0M263.5 81.3h0M264.6 76.4h0M265.8 73.9h0M267.9 70.3h0M271.8 71.7h0M264.9 77.8h0M261.4 79.1h0M264.3 74.9h0M266.9 75.9h0M266.3 69.1h0M263.7 72.7h0M274.7 73.2h0M270.7 72.3h0" stroke="#f0a7bc" stroke-width="1.9" stroke-linecap="round"/>
<path d="M271.9 72h0M273.6 71.9h0M265.6 75h0M263.8 82.5h0M269.1 69.2h0M267.4 74.9h0M260.7 76.9h0M261.7 79.3h0" stroke="#e99283" stroke-width="1.9" stroke-linecap="round"/>
<path d="M269.1 70.6h0M267.7 73h0M262.8 72.3h0M265.1 70.7h0M261.8 82.5h0M272.4 68.7h0M261.6 77.7h0M265.8 74h0M266.7 68.4h0M261.1 77.9h0M263.3 74.9h0M261.8 83.3h0M270 73h0M272.8 70.5h0M272.8 72h0M267.1 73.1h0" stroke="#ec9999" stroke-width="1.9" stroke-linecap="round"/>
<path d="M264.5 68.4h0M261.1 70h0M264.4 69h0M275.9 72.5h0M273 75.2h0M270.9 75.2h0M269.4 76.1h0M265.6 79.1h0M263.5 82.6h0M261.2 81.6h0" stroke="#a08c20" stroke-width="1.8" stroke-linecap="round"/>
<path d="M262.6 69.5h0M267.4 67.8h0M265.6 68h0M271.4 68.7h0M270.1 69h0M275.7 70.2h0M275.7 73.4h0M269.9 76.6h0M266.5 78.2h0M263.5 83h0M264.6 80.8h0M265.3 80.2h0M260.1 76.2h0M260.1 77.6h0" stroke="#d18c40" stroke-width="1.8" stroke-linecap="round"/>
<path d="M271.6 68.1h0M274.7 69.7h0M276.1 70.4h0M273.2 74.8h0M266.4 78.9h0M262.4 82.5h0M260.7 82h0M260.7 83h0M260.6 82.9h0M260.7 74h0M260.9 75.3h0M261 71.1h0M261.1 73.2h0M261.3 72h0" stroke="#b98c28" stroke-width="1.8" stroke-linecap="round"/>
<path d="M270.4 68.1h0M274.5 74.2h0M269.9 76.4h0" stroke="#e68c6e" stroke-width="1.8" stroke-linecap="round"/>
<path d="M272.4 67.9h0M262.3 83.5h0M260.9 79h0M261.6 71.9h0" stroke="#798826" stroke-width="1.8" stroke-linecap="round"/>
<path d="M274.2 73.9h0" stroke="#4e8532" stroke-width="1.8" stroke-linecap="round"/>
<path d="M250.9 81.9h0M254.3 85.2h0M253.1 83h0M261.2 83.3h0M258.6 81.8h0M255.4 85.7h0M248.9 84.7h0M247.8 81.9h0M248.8 81.8h0M249 82h0M248.8 82.6h0M249 83.4h0M249.4 84.1h0M255.4 83.5h0M254.3 85.7h0M250.9 83.4h0M260.6 83.7h0M256.2 83.1h0M254.7 82.1h0M262.9 82.2h0M262.4 82h0M258.9 83.7h0M254.9 82.7h0M252.1 86.3h0M261.8 81.9h0" stroke="#f0a7bc" stroke-width="1.9" stroke-linecap="round"/>
<path d="M252.6 81h0M256.8 82.8h0M261.2 83.8h0M252.3 81.5h0M260.3 82.8h0M251.3 82.3h0M249 84.8h0M257.6 83.8h0M252.6 83.3h0M255.7 83.7h0M251 83.9h0M258.4 83.4h0M253.4 80.8h0M254.6 80.9h0M248.7 82.6h0" stroke="#f2b6d7" stroke-width="1.9" stroke-linecap="round"/>
<path d="M249.4 81.4h0M253.2 84.8h0M256.5 85.8h0M247.9 82.1h0M249.5 82.1h0M251.1 83.4h0M260.5 82.2h0M262.4 81.9h0M255.6 83.1h0M254.2 82.2h0M249.6 81.6h0M260.2 83.1h0" stroke="#f1aec9" stroke-width="1.9" stroke-linecap="round"/>
<path d="M250.4 83.1h0M254.5 81.9h0M253.8 86h0M260.6 84.2h0M248.6 83h0M250.4 83.1h0" stroke="#ec9999" stroke-width="1.9" stroke-linecap="round"/>
<path d="M255.2 85.9h0M258.4 82.9h0M257.1 83.4h0M256.9 84.8h0M250.6 84h0M254.2 81.7h0M251.2 84.7h0M253.7 81h0M260.7 84.2h0M256.5 82.6h0M261.1 83.5h0M248.1 83.1h0M260 80.5h0M255.8 83.5h0M248 83.1h0M250.6 81.3h0" stroke="#f0a0af" stroke-width="1.9" stroke-linecap="round"/>
<path d="M248.3 81.3h0M247.6 81.7h0M250.4 80.8h0M259.2 80.6h0M259.2 80h0M257.2 80.3h0M261.6 81.2h0M263.4 82.4h0M259.2 84.5h0M253.6 86.3h0M248.4 83.6h0M248.4 83.1h0" stroke="#b98c28" stroke-width="1.8" stroke-linecap="round"/>
<path d="M249.2 81.7h0M249.7 81.7h0M256.2 79.8h0M259.5 80h0M263.6 81h0M263.2 81.5h0M259.2 84.7h0M253.9 86.2h0M256.1 85.4h0M253.3 86.7h0M250.9 86.4h0M248.1 81.9h0" stroke="#a08c20" stroke-width="1.8" stroke-linecap="round"/>
<path d="M253.5 80.1h0M263.8 81.6h0M259.6 84.5h0M262 83.3h0M255.5 86.1h0" stroke="#d18c40" stroke-width="1.8" stroke-linecap="round"/>
<path d="M262.9 81.6h0M249.8 86h0" stroke="#798826" stroke-width="1.8" stroke-linecap="round"/>
<path d="M249 85.2h0" stroke="#1e8246" stroke-width="1.8" stroke-linecap="round"/>
<path d="M250 85.5h0" stroke="#e68c6e" stroke-width="1.8" stroke-linecap="round"/>
<path d="M232.6 96.7h0M229.9 87.1h0M228.2 92.1h0M233.1 95.5h0M227.8 97.6h0M227.7 93.6h0M229.3 89.3h0M233.3 95.4h0M230.6 92.7h0M230.6 90.7h0M230.8 95.4h0M232.2 91.1h0M232.8 92.2h0M228.4 97.2h0M230 87.6h0" stroke="#f0a0af" stroke-width="1.9" stroke-linecap="round"/>
<path d="M230.5 87.6h0M231.9 93.5h0M232.1 87.7h0M230.8 92.4h0M228.2 95.2h0M230.9 87.2h0M226.3 96.2h0M228.6 90.4h0M232.4 92.3h0M231.2 92.1h0M232.4 89.3h0M227 95.3h0M229.1 95h0M226.4 96.8h0M227.6 96.7h0M231.4 86.5h0M232.3 90.6h0M233.3 95.4h0M227.4 95.6h0M228.8 97.3h0" stroke="#f1aec9" stroke-width="1.9" stroke-linecap="round"/>
<path d="M232.6 90.6h0M228.4 96.6h0M233 91.7h0M230.2 95.5h0M227.7 91.8h0M234.2 92.9h0M226.9 94.3h0M230.6 86.2h0M228.4 89.6h0M231.9 91.9h0M231.1 97.1h0M228 96.6h0M229.4 91.5h0M230.8 94.3h0M229 91.6h0M229.9 95.3h0M228.1 97.5h0M232.2 87.4h0M230.3 94.2h0M231.4 87.9h0M232.9 92.9h0M232.2 94.6h0" stroke="#f0a7bc" stroke-width="1.9" stroke-linecap="round"/>
<path d="M232.1 93.5h0M229.9 92.2h0M231.2 93.1h0M231.5 95.7h0M231.4 90.2h0M230.2 93.8h0M230 93.4h0M232.5 94.5h0M232.4 91.6h0M230.2 95.5h0M228.5 96.2h0M227.5 97.5h0M230.8 88.2h0M230.5 90h0" stroke="#f2b6d7" stroke-width="1.9" stroke-linecap="round"/>
<path d="M231.3 90.2h0M227.8 95.7h0M232 93.2h0M231 89.3h0M231.1 94.7h0M226.9 95.5h0" stroke="#ec9999" stroke-width="1.9" stroke-linecap="round"/>
<path d="M233.2 91h0" stroke="#e99283" stroke-width="1.9" stroke-linecap="round"/>
<path d="M231.2 86.5h0M234.6 91.5h0M234.3 92.3h0M226.1 96h0" stroke="#d18c40" stroke-width="1.8" stroke-linecap="round"/>
<path d="M230.2 86.3h0M231.7 87.6h0M233.6 90.8h0M234.7 92.8h0M233.9 96.5h0M231.4 98h0M230.7 98.6h0M228.1 98.1h0M229 99.5h0M226.8 96.4h0M226.4 94.9h0M228 91.7h0M228.5 92h0M228.8 86.8h0" stroke="#b98c28" stroke-width="1.8" stroke-linecap="round"/>
<path d="M230.9 86.3h0M233.2 89.1h0M231.6 97.9h0M233.5 96.6h0M230.6 98.5h0M225.9 95.6h0M226.7 92.6h0M229.6 86.6h0" stroke="#a08c20" stroke-width="1.8" stroke-linecap="round"/>
<path d="M233.1 89.4h0" stroke="#798826" stroke-width="1.8" stroke-linecap="round"/>
<path d="M234.5 94.6h0M228.7 98.1h0M227.3 92.3h0M228.3 91.5h0" stroke="#e68c6e" stroke-width="1.8" stroke-linecap="round"/>
<path d="M233.6 95.5h0" stroke="#4e8532" stroke-width="1.8" stroke-linecap="round"/>
<path d="M293.1 49.8h0M292 50.9h0M292.7 50.8h0M294 51.4h0M292.4 50.8h0M290.9 48.2h0M290.6 49.8h0M293.9 52.7h0M291 47.4h0M289.4 49.2h0M289.6 49.8h0" stroke="#d18c40" stroke-width="1.9" stroke-linecap="round"/>
<path d="M292.3 47.2h0M292.4 48.5h0M291.7 51.2h0M290.5 47.9h0M289 48.3h0M290.5 47.3h0M291.7 52h0M288 48.3h0M291.2 53.6h0" stroke="#b98c28" stroke-width="1.9" stroke-linecap="round"/>
<path d="M292.1 52.9h0M289.8 50.4h0M294 53.5h0M285.8 46.9h0M292.6 53h0M289.9 51.7h0M288.1 47.8h0M287.4 46.8h0" stroke="#a08c20" stroke-width="1.9" stroke-linecap="round"/>
<path d="M290.2 48h0M288.9 49.2h0M290.9 50.5h0M290.4 48.5h0M290.2 48.7h0" stroke="#4e8532" stroke-width="1.9" stroke-linecap="round"/>
<path d="M294.8 53.9h0M287.7 49.5h0M291.3 52.2h0" stroke="#1e8246" stroke-width="1.9" stroke-linecap="round"/>
<path d="M293 49.8h0M291.1 52.9h0M291.9 53.3h0" stroke="#e68c6e" stroke-width="1.9" stroke-linecap="round"/>
<path d="M287.6 48.8h0M293.5 51.1h0M292.8 53.5h0M291 49.7h0" stroke="#798826" stroke-width="1.9" stroke-linecap="round"/>
<path d="M290.6 51.3h0" stroke="#177d48" stroke-width="1.9" stroke-linecap="round"/>
<path d="M287.4 46.6h0M291.1 46.3h0M294.4 53.8h0M292.9 54.6h0M291.1 53.8h0M291.7 54.1h0M290.2 52.5h0M286.7 47.8h0" stroke="#798826" stroke-width="1.8" stroke-linecap="round"/>
<path d="M287.5 46.4h0M290.7 47.1h0M292 46.8h0M294 52.1h0M294.6 52.5h0M294.9 52.2h0M293.1 54.6h0M289.8 53.1h0M290.6 52h0M288.3 49.6h0M288 49.5h0" stroke="#4e8532" stroke-width="1.8" stroke-linecap="round"/>
<path d="M290.3 46.5h0M286.6 48.5h0M286.8 48.8h0" stroke="#a08c20" stroke-width="1.8" stroke-linecap="round"/>
<path d="M288.3 45.7h0M290.8 46h0" stroke="#b98c28" stroke-width="1.8" stroke-linecap="round"/>
<path d="M292.2 48h0" stroke="#11794a" stroke-width="1.8" stroke-linecap="round"/>
<path d="M293.2 49.6h0M293.6 54.9h0" stroke="#1e8246" stroke-width="1.8" stroke-linecap="round"/>
<path d="M308.2 51.3h0M308.3 53.9h0M304.7 53h0M309.1 54.6h0M307.5 52.2h0M309.6 54.9h0M302.8 52.7h0M302.8 53.4h0M307.7 52.1h0M307.3 53.6h0M309.1 55.2h0M304.7 53.6h0M307.5 50.8h0M311.9 50.8h0" stroke="#e99283" stroke-width="1.9" stroke-linecap="round"/>
<path d="M309.7 52h0M309.5 53h0M306.8 52.5h0M303.8 54.2h0M304.5 52.2h0M307.1 52.3h0M303.3 54.2h0M306.1 51.9h0M304 54.4h0M305 54.1h0M311.2 52h0M309.4 51.9h0" stroke="#e68c6e" stroke-width="1.9" stroke-linecap="round"/>
<path d="M308.8 55.4h0M309.2 54.6h0M304.5 52.9h0M305.1 55h0M311.8 54.6h0M312.1 51h0M307.1 50.9h0M311.5 52h0M305.8 54.5h0M310.8 54.5h0M304.1 55h0M307.5 51h0M310.6 52.5h0" stroke="#ec9999" stroke-width="1.9" stroke-linecap="round"/>
<path d="M310.6 51.6h0M302.7 57.8h0" stroke="#b98c28" stroke-width="1.9" stroke-linecap="round"/>
<path d="M306.1 56h0M309.8 51.2h0M305.2 53.7h0M303 55.1h0M310.8 51.4h0M302.9 53.7h0" stroke="#f0a0af" stroke-width="1.9" stroke-linecap="round"/>
<path d="M305.3 56.2h0M304.5 55.2h0" stroke="#a08c20" stroke-width="1.9" stroke-linecap="round"/>
<path d="M303.3 53.7h0M308.5 51.9h0M304.8 54.2h0M308 54.7h0M304.4 54.4h0" stroke="#d18c40" stroke-width="1.9" stroke-linecap="round"/>
<path d="M309.9 50.5h0M303.2 54.7h0M310.5 52.4h0" stroke="#f0a7bc" stroke-width="1.9" stroke-linecap="round"/>
<path d="M312.5 50.9h0M305.3 51.3h0M308 55.1h0" stroke="#f1aec9" stroke-width="1.9" stroke-linecap="round"/>
<path d="M303.5 52h0M312 50.3h0M310.4 54.8h0M304.1 57.3h0M301.7 55.1h0" stroke="#798826" stroke-width="1.8" stroke-linecap="round"/>
<path d="M304.1 52.2h0M306.2 56.8h0M302.4 57.3h0" stroke="#4e8532" stroke-width="1.8" stroke-linecap="round"/>
<path d="M303.9 52.4h0M309.1 50.3h0M308.6 50.2h0M309.8 50.2h0M313.7 52.2h0M313.6 53.2h0M302.9 58.8h0M302.7 57.8h0M302.8 53.4h0M303.1 52.4h0" stroke="#a08c20" stroke-width="1.8" stroke-linecap="round"/>
<path d="M306.8 51.5h0M310.3 50.6h0M306.8 56.6h0" stroke="#d18c40" stroke-width="1.8" stroke-linecap="round"/>
<path d="M312.7 51.8h0M313.8 53.3h0M313.9 53.7h0M310.4 55.8h0M309.6 55.3h0M308.5 54.9h0M304.2 56.5h0M302.9 58.4h0M301.6 55.2h0M302.3 54.8h0" stroke="#b98c28" stroke-width="1.8" stroke-linecap="round"/>
<path d="M233.1 76.1h0" stroke="#f0a0af" stroke-width="1.9" stroke-linecap="round"/>
<path d="M232.5 74.3h0M234.2 75.3h0M232.1 74.2h0" stroke="#f1aec9" stroke-width="1.9" stroke-linecap="round"/>
<path d="M233.9 74.9h0M234.2 75.5h0M233.1 76h0" stroke="#f0a7bc" stroke-width="1.9" stroke-linecap="round"/>
<path d="M232.6 76.2h0M231.8 75h0" stroke="#f2b6d7" stroke-width="1.9" stroke-linecap="round"/>
<path d="M232 74.2h0M234 73.4h0" stroke="#a08c20" stroke-width="1.8" stroke-linecap="round"/>
<path d="M231.9 73.1h0M233.4 76.3h0M234.4 74.4h0M233.8 74h0" stroke="#b98c28" stroke-width="1.8" stroke-linecap="round"/>
<path d="M231.9 74.4h0" stroke="#e68c6e" stroke-width="1.8" stroke-linecap="round"/>
<path d="M234.5 75.9h0M234.1 74.4h0" stroke="#d18c40" stroke-width="1.8" stroke-linecap="round"/>
<path d="M289.2 82.6h0M299.1 95.4h0M289.9 102.2h0M302.6 80.9h0M278.9 86.3h0M323.6 80.1h0M300.3 83.8h0M286.9 99.3h0M326.6 99.1h0M304.4 97.1h0M275.2 83.5h0M303.5 71.3h0M321.6 98.7h0M292.5 85.3h0M319.9 73.7h0M306.5 98.1h0M311.3 102h0M326 94.7h0M308.9 96.8h0M311.6 76.1h0M298.3 105.2h0M300.3 80.7h0M323.3 81.2h0M292.9 88.9h0M282 90.3h0M315.4 98.6h0M308.7 75.6h0M312 86.3h0M323.2 75h0M300.8 86.2h0M328.8 78.3h0M326.4 74.2h0M315.7 96.8h0M298.9 68.3h0M316.9 78.4h0M293.6 71.3h0M302.7 94.8h0M329 74.8h0M290.5 79.4h0M302 101.5h0M286.8 84.3h0M320.4 72.7h0M312.9 101.1h0M320.1 80.8h0M294.1 105.3h0M312.5 96.6h0M283.1 79h0M312.8 86.8h0M327.3 83.8h0M314.9 80.2h0M295.9 84.2h0M323 87.5h0M291.4 103.5h0M304.7 87.8h0M292.5 71.6h0M322.3 77.6h0M316.3 87.9h0M291.2 93.7h0M290.8 81.7h0M325.8 99.4h0M292.2 88.4h0M324 81.6h0M302.1 86.4h0M299.3 85h0M308.9 98.3h0M294.2 96.9h0M332.3 70.6h0M308.5 88h0M277.7 89.7h0M296 72.4h0M287.8 74.1h0M299.4 90.4h0M307.4 95.1h0M298.8 100.7h0M330.6 72.2h0M302.2 75.6h0M329 76h0M290.3 90.7h0M286 89.2h0M310.1 90.2h0M282.4 92.8h0M327 88.8h0M279.7 81.7h0M329 74.3h0M292.6 96.1h0M303.1 95.6h0M303.9 106.5h0M305.2 92.3h0M308.3 103.8h0M309.6 72.4h0M290.3 97.3h0M301.3 101.7h0M304.8 102.2h0M308.7 91.3h0M314.7 81h0M326.2 82.6h0M300.8 100.8h0M301.7 97.5h0M308.2 104.9h0M332 70.6h0M302.1 79h0M320.2 92.7h0M286.4 71h0M288.9 78.1h0M288.7 101.3h0M297.1 90h0M283.5 86.7h0M287.9 90.5h0M305 94.6h0M288.9 71.9h0M329.6 98.4h0M314.5 96.3h0M300.3 97.4h0M318 99.3h0M303.3 102.5h0M303.3 89.5h0M301.1 94.3h0M299.5 82.1h0M324 93.8h0M301.1 77.2h0M286.3 67.8h0M300.8 72.1h0M319 72.3h0M299.6 82.7h0M275.8 90.8h0M315.7 96.1h0M306.1 105.2h0M314.3 98.3h0M284.6 70.5h0M291 81.8h0M301.6 97h0M332 70.7h0M289.5 98.2h0M326.5 84.4h0M302.4 82.4h0M279.9 83.4h0M324.6 92.7h0M308.2 92.1h0M289.3 86.9h0M302.1 90.4h0M272.6 89.5h0M297.3 73.4h0M285 77h0M319.6 96.3h0M296.1 101.9h0M305.1 97.7h0M299.4 84.9h0M299.7 91.4h0M322.8 85.8h0M291.4 97.1h0M286.4 76.9h0M313.4 85.7h0M311.3 85.6h0M292.9 87.7h0M301.2 104.4h0M303.7 95.2h0M310.4 101.2h0M329.8 70.6h0M284.6 74.2h0M299 85h0M303.7 76h0M282.5 89.6h0M320.7 70.4h0M308.2 91.3h0M287.5 79.1h0M320.2 100h0M286.9 82h0M311.6 96.9h0M311.2 104.5h0M323 98.5h0M286.4 84.2h0M281.4 86.7h0M298.5 70.6h0M290.2 98.1h0M274 87.2h0M308 94.5h0M282.8 84.9h0M318.5 89.6h0M314.5 90.3h0M317.5 81h0M292.6 98.9h0M294.7 104.6h0M282.6 83.9h0M323 74h0M305.1 79.1h0M313.8 72.6h0M326.3 83.4h0M313.5 88.9h0M307.4 74.6h0M307.5 93.8h0M298.4 97.9h0M311 96.6h0M291.5 81.4h0M287.2 89.7h0M301.7 74.9h0M296.1 87.7h0M319.8 75.3h0M312 94.4h0M287.2 74.2h0M292 91.8h0M304.3 77.7h0M306.2 97.7h0M320.3 81.6h0M308 102.9h0M281.5 89h0M308.3 98.8h0M297.5 88.5h0M298.2 92.4h0M305.6 98.4h0M280.9 86h0M300.4 94.3h0M293.8 99h0M304 103.5h0M294 83.6h0M326.1 78.2h0M295.5 97.4h0M303.5 80.9h0M320.1 98.1h0M294.1 93.6h0M273.2 90.1h0M328.4 95.6h0" stroke="#a08c20" stroke-width="1.9" stroke-linecap="round"/>
<path d="M321.7 102.3h0M314.4 72.4h0M313.2 83h0M323.8 94.7h0M286.7 84.7h0M291.4 96.9h0M286.5 70.5h0M319.7 88.7h0M300.2 104.1h0M290.8 98.3h0M293.4 94.2h0M277.2 88.5h0M298.2 69.4h0M301.6 99.4h0M297.2 69.3h0M317 97.5h0M328.9 71.8h0M329.3 94h0M278.6 85.4h0M292.1 102.2h0M311.7 87.8h0M300 70.7h0M278.9 85.9h0M296.9 79.1h0M274.8 91.1h0M315 83.4h0M298.9 96.8h0M326.7 101.2h0M287 95.9h0M291 72.6h0M277.8 81.3h0M300 85.8h0M313.1 89.4h0M312.3 101.1h0M304.3 89.7h0M312.6 76.3h0M301.5 87.2h0M314.1 90.1h0M284.4 71.8h0M296.9 85.4h0M324.9 95.1h0M299.9 86.6h0M304.4 78.2h0M311 84.2h0M293.7 102.2h0M288.8 85.6h0M302.5 72.4h0M299.6 89.1h0M325 74.1h0M298.2 95.8h0M332 72.4h0M307.7 103h0M287 96.1h0M296.6 81.5h0M295.7 92.8h0M299.5 68.2h0M330.8 71h0M292.3 102.8h0M322.1 86.5h0M294.4 92.9h0M313.3 79.9h0M322.1 73.2h0M284.4 90.8h0M296.1 104.9h0M292.1 73.8h0M291.9 81h0M319.5 70.4h0M326.5 90h0M304.7 95.1h0M288.5 88.5h0M323 89.6h0M326.6 84.8h0M295 96.7h0M294.5 70.7h0M302.5 76.5h0M285.6 78h0M295.9 85.4h0M313.2 73.8h0M315.5 72.6h0M290.5 79.3h0M287.7 76.4h0M315.1 87.1h0M303.4 75.9h0M300.9 91.9h0M289.1 68.6h0M321.8 82.8h0M332.3 72.9h0M304.2 100.4h0M285.1 88.9h0M313.8 102.9h0M306.3 90.5h0M300.7 81h0M290.5 89.1h0M300.5 81.7h0M294.7 82.5h0M277.3 90.5h0M307.7 94.4h0M272.5 88.4h0M293.2 81.4h0M281.4 85.6h0M312.4 80.7h0M311.2 71.5h0M301.6 91.6h0M297.7 69.2h0M312.4 72h0M279.9 92.3h0M323.2 81.8h0M321.6 80.4h0M300.1 74.9h0M315.4 75.8h0M284.5 81.1h0M322.9 73.3h0M287.3 69.3h0M298.9 72.5h0M296 78.3h0M300.4 81.3h0M276.6 82.1h0M332.7 73.4h0M296.3 71.2h0M325.8 93.1h0M312.5 78.4h0M306.9 97.3h0M321.9 81.7h0M280.7 86.2h0M277.6 84.7h0M290.1 73.4h0M327.9 72.9h0M308.8 93.2h0M289.8 69.7h0M308.7 74.5h0M309.8 98.8h0M294.5 83.6h0M304.2 92.3h0M323.7 80.3h0M302.8 71.3h0M326.5 69.7h0M296.5 105.1h0M315.9 78h0M299.3 97.1h0M329.5 76h0M302.1 106.3h0M290.6 95h0M285.7 95.7h0M291.5 92.7h0M311 90.5h0M318.1 87.9h0M285 92h0M326.8 97.5h0M291.9 102.7h0M310.4 77.8h0M290.5 83.8h0M321.8 104.3h0M308.6 87.2h0M319.3 90h0M309.5 72.5h0M332 74h0M317.8 76.2h0M316.7 79.4h0M303.9 87.9h0M288.9 75.6h0M304.3 104.9h0M317.4 93.6h0M284.3 75.3h0M283.1 84.6h0M299.4 104.6h0M292.7 80.7h0M292.1 75.7h0M309 76.6h0M279.3 91.9h0M291.8 96.5h0M290.9 75.5h0M276.3 82.7h0M293.7 71.1h0M321 77.1h0M300 83.1h0M319.6 70.3h0M299.1 104.7h0M286 70.3h0M287.1 91.8h0M290.4 80h0M307.3 103.4h0M316.5 100.7h0M282.5 92.4h0M292.3 71.5h0M287.5 81.3h0M331.9 73.5h0M327.6 76.6h0M324.6 90.4h0M318.7 99.3h0M286.2 90.9h0M306 96.2h0M293.7 83h0M311.6 91.5h0M322.7 86.5h0M315.8 96.2h0M326.3 93.5h0M282.8 74.1h0M321.6 95.3h0M305.5 105.4h0M288.4 91h0M302.6 69.5h0M282.8 83.1h0M276.7 88.9h0M314.3 89.2h0" stroke="#1e8246" stroke-width="1.9" stroke-linecap="round"/>
<path d="M293 72.7h0M283 72h0M300.2 82.9h0M292.3 90.7h0M326.7 75.7h0M311.9 93.7h0M295 95h0M284.8 96h0M323.5 98.6h0M293.4 94.3h0M316 72h0M306.7 77.1h0M306 104.9h0M320.6 89.8h0M301.3 76.7h0M296.6 93.2h0M285.4 83.4h0M278.9 86.8h0M292.9 71.5h0M279.5 83.4h0M311.1 102.5h0M296.2 106h0M308.6 107.5h0M281.1 91.6h0M319.2 81.3h0M289.5 92.2h0M319.8 88.5h0M309.8 91.3h0M284.5 78.4h0M311.8 78h0M285.5 83.7h0M310.7 91.7h0M303 96h0M303.3 76.7h0M321.6 74.2h0M305.1 104.6h0M305.6 77.8h0M304 102.6h0M296.1 91.7h0M283.3 84.2h0M288.7 82.1h0M291.4 83.4h0M322.4 102.5h0M287.9 84.3h0M305.9 77.6h0M287.9 90.4h0M291.3 88.3h0M304.5 81.3h0M306.3 95.2h0M302.9 102h0M284.3 78.3h0M326.6 88.1h0M284.7 91.1h0M314.7 74h0M285 87.4h0M317 90h0M300.2 99h0M320.1 98.1h0M323 71h0M298.1 87.7h0M301 87.7h0M283.3 91.9h0M307.2 81.2h0M303.4 104h0M317.2 84.4h0M290 103.6h0M312.7 87.9h0M321.5 88.2h0M305.3 71.5h0M320.1 97.1h0M308.9 104.6h0M290.9 77.3h0M326.4 82.6h0M326.4 103.2h0M296.1 105.9h0M308.3 79.9h0M323.3 93.4h0M328.1 73.6h0M278.3 81.9h0M285.1 82.7h0M324 81.1h0M284.1 75.6h0M282.9 85.2h0M310.1 88.1h0M298.4 98.5h0M303.8 77.6h0M296.1 90.4h0M302.9 74h0M310.7 89.9h0M287.6 102h0M298.4 97.2h0M315.9 102h0M300.6 68.6h0M307 76.9h0M325.3 83.5h0M327.4 94.2h0M302.6 92.9h0M306.4 94.5h0M276.4 86.1h0M312.8 72.7h0M315.2 80.5h0M316.6 86.2h0M278.1 83.8h0M322 81.6h0M321.7 77.2h0M324.9 98.6h0M307 76.3h0M329.1 70.6h0M321.9 87.9h0M329.4 73.2h0M296 73.4h0M273.7 91h0M322.3 102.7h0M303.9 84.7h0M320.4 70.8h0M284.6 75.9h0M309.5 89.3h0M309.1 88.1h0M333 73.3h0M309.2 89.1h0M321 88h0M296.2 99.5h0M324.7 79.2h0M277 82.9h0M312.9 100.5h0M297.8 99.2h0M311.5 94.1h0M316.7 94.5h0M315.3 96.7h0M319 102.1h0M307.1 89.4h0M297.1 94.3h0M274.8 87h0M294.8 97.7h0M277.7 90.3h0M316.2 77h0M328.7 93.7h0M294 91.7h0M312.8 103.7h0M293.9 85h0M299.5 68.5h0M285.3 68.8h0M327.5 72.8h0M297.2 73.4h0M319.2 97h0M288.2 71.1h0M286.8 75.4h0M288.9 97.3h0M287.4 101.3h0M295.6 103.1h0M315.3 76h0M303.6 97.1h0M310.5 98.6h0M318.1 94.6h0M303.2 87.2h0M325.6 73.3h0M327 72.8h0M316.3 90.1h0M309.5 75h0M280.6 83.2h0M290 103.2h0M306.8 80.6h0M281.9 92.9h0M295.8 90.6h0M310 98.9h0M301.1 72.3h0M329 75.5h0M292 79.4h0M305.3 73.2h0M289.4 84.5h0M300.5 82.7h0M328.6 94.6h0M294.2 81.7h0M306.7 100.2h0M301 95.1h0M308.2 96.1h0M322.4 89.3h0M316.3 93h0M289.3 76.4h0M307.3 71.2h0M306.5 102.4h0M274.9 86.6h0M297.1 103.4h0M298.5 93.8h0M295.8 101.1h0M309.1 103.9h0M327 84.5h0M296.8 72.4h0M306.2 94.8h0M303.8 92.7h0M301.3 71.8h0M326 96h0M305.7 93.7h0M309.5 99h0M286.9 69h0M287 76.6h0M289.1 78.6h0M287.1 90h0M322.8 90.5h0M315.7 94.4h0M312.4 92.9h0M274.8 89.2h0M318.3 89.6h0M297.8 95.3h0M298.2 90.8h0M300.2 82.6h0M289.8 99.4h0M326.1 93h0M302.3 93.1h0M307.6 74.3h0M294.7 103h0M304.8 94.7h0M298.9 72.8h0M285.1 86.7h0M299.1 81h0M280.2 91.1h0M299.5 89h0M320.2 71.5h0M309.1 98.8h0M321.3 77.5h0M284.6 83h0M279.7 86.4h0M303.4 98.2h0M294 82.4h0M319.9 81.7h0M281.6 90.1h0M291 75.7h0M281.6 82.9h0M309.3 88.9h0M317.7 73.7h0M329.2 95.8h0M316.5 89.9h0M297.8 81.6h0M306.4 99.4h0M320.2 74.6h0M317.1 72.4h0M306.3 97.6h0M281.7 79.4h0M292.4 84.8h0M289.2 102.4h0M329.1 97.3h0M325 83h0M304 99.6h0M311.2 72.4h0M283 74.4h0M327.2 80.6h0M290.3 70.6h0M290 84h0M278.8 86.1h0M322.7 70.1h0M330.8 70.4h0M305.8 94.1h0M295.8 81.2h0M279.4 80.8h0M293 100.7h0M325.3 92.6h0M295 80.7h0M292.1 79h0M314.4 94.8h0M320.4 91.6h0M311.6 97.3h0M304 93.8h0M327 102.4h0M297.1 76.2h0M293.6 88.9h0M325.3 89.6h0M283.4 82.1h0M325.7 90.6h0M293 86.3h0M324 85h0M313.1 80h0M311.8 97.7h0M294.3 71.9h0M321 95.4h0M273.9 85.4h0M274.7 91.1h0M326.4 93.3h0M296.5 71.6h0M326.7 101.8h0M293.1 80.2h0M292.4 76h0M286.6 73.2h0M312.1 104.1h0M305.2 103.1h0M289 98.4h0M301.9 85.1h0M287.2 71.5h0M305 102.5h0M312.2 91.1h0M319.5 94.4h0M316.9 95.2h0M305 98.2h0M286.8 95.9h0M317 76.1h0M326.3 70.5h0M321 99.2h0M311.7 105h0M287.8 71.6h0M317.2 93.4h0M279.1 83.6h0M315.3 72.1h0M320 72.5h0M316.2 102h0M328 79.7h0M281 79.6h0M282 70.3h0M319.7 103.3h0M299.2 94.6h0M286.2 97.8h0M303.8 77.5h0M320.7 100.7h0M291.5 73.2h0M295 86.6h0M305.2 88h0M284.1 85.2h0M295.3 96h0M282.8 82.4h0M298.6 80h0M315.2 92.9h0M322.5 82.2h0M297.9 84.4h0M308.4 74.4h0M326 76.6h0M282.7 88.1h0M288.4 70.3h0M305.5 95.5h0M280.8 89.3h0M291.9 105h0M291.7 101.6h0M317.7 76.6h0M294.3 76.9h0M310.6 90.5h0M302.8 105.4h0M297 87.3h0M300.3 75.7h0M289.1 79.4h0M298.6 95.5h0M319.1 80.4h0M315.8 88.9h0M296.4 77.6h0M291.4 82.3h0M305.8 99.7h0M332.8 69.9h0M295.1 77.7h0M293.3 91.2h0M320.5 90.8h0M323.7 100h0M314.2 84.1h0M295.2 85.6h0M286.8 101.3h0M318.2 73.7h0M291.6 103h0M283.7 73.6h0M303.5 71.1h0M320.5 90.7h0M306.7 75.2h0M297.7 88.9h0M301.1 101.6h0M295 87.5h0M297.4 69.3h0M318.8 93.5h0M273.3 88.9h0M293.9 77.9h0M316.1 86.7h0M321.8 74.7h0M326.2 80.6h0M301.3 103h0M331.9 71h0M287.6 70.7h0M321.4 70.2h0M287 89.2h0M311 105h0M305.9 98.3h0M314.1 100.2h0M305.9 89.8h0M309.8 95.4h0M298.7 103.8h0M309.8 71.2h0M321.3 98.5h0M309.1 87.4h0M292.7 91h0M327.4 74.3h0M288.8 89.9h0M315.8 81.2h0M311.2 75h0M287.1 70.2h0M289.5 95.2h0M289 91.8h0M310.1 81.8h0M326.9 86.9h0M315.3 93.4h0M288.2 83.9h0M291.1 75.2h0M312.2 91h0M289.7 74.3h0M328.7 77.9h0M315.6 82.3h0M310 101h0M321.4 76.2h0M308.8 86.8h0M297.8 92h0M321.7 104.6h0M318.5 81.6h0M320.5 89.7h0M281.7 88.2h0M317.3 85.8h0M314.9 89.9h0M319.4 78h0M299.9 97.8h0M285.5 72.8h0M293.7 76.6h0M288.9 76.7h0M276.8 82.9h0M303.2 92.5h0M305.5 70.9h0M284.7 89.4h0M318.9 93h0M301.6 69h0M280.9 92.1h0M317.4 100.9h0M321.8 92.4h0M293.7 94.4h0M294.6 98h0M307.4 80.6h0M297.4 84h0M314.5 81.4h0M303 79.6h0M303.6 96.1h0M288.8 90.9h0M281.4 86.3h0M277.7 86.3h0M300.7 84.2h0M315.9 71.5h0M314.1 78.5h0M323.4 73.3h0M299.9 102.4h0M301 95.6h0M273.4 87.5h0M318.6 79.4h0M324 83.3h0M291.9 75.5h0M295.9 73.5h0M314.8 76.2h0M307.7 76.1h0M302.4 102.4h0M285.8 84.3h0M324.8 80.9h0M287.1 98.8h0M313.4 100.5h0M285.3 86.5h0M277.9 85.7h0M300.4 106.7h0M297.4 77.5h0M323.2 96.2h0M296.1 98h0M290.8 104h0M284.1 96.5h0M301.4 102.1h0M296.3 104h0M296.7 102.1h0M282.1 84.2h0M314.3 89.5h0M306.3 73.2h0M298.4 99.8h0M292.4 104.4h0M302.5 91.6h0M326.7 77.7h0M316.3 100.7h0M327.9 72.8h0M282.4 88.6h0M320.7 74.2h0M322.2 90.2h0M321 73.5h0M319.2 77.5h0M299.8 69.1h0M301.3 93.9h0M302.1 98.3h0M302.7 82.8h0M300.6 98.9h0M279.1 87.4h0M319.8 88.5h0M303.9 81.7h0M290.8 71.2h0M280.1 88.6h0M324.5 82h0M301.4 88.1h0M296.8 106.2h0M315.8 78h0M296.7 86h0M309.7 77.1h0M311.5 88.8h0M298.7 103.7h0M308.2 77.6h0M303.3 101.6h0M319.6 97.7h0M316.7 85.5h0M299.6 84.5h0M312.9 90.7h0M292.4 95.7h0M279 81.1h0M321.1 104h0M294.2 90.5h0M323.4 94.8h0M302.7 81.6h0M323.1 75.5h0M276.8 84.7h0M308.1 79.4h0M303.6 106.3h0M298.6 104.7h0M303.8 73.2h0M297.7 97h0" stroke="#798826" stroke-width="1.9" stroke-linecap="round"/>
<path d="M301.8 76.3h0M284.7 94.6h0M319 75.6h0M319.8 97h0M290.2 80.5h0M318.8 72.7h0M321.5 81.1h0M294.2 86.9h0M326.2 100.1h0M325.7 94.2h0M312.8 83h0M292 78.7h0M322.1 82.9h0M283 69.6h0M316.6 94.5h0M284.9 98.3h0M292.5 79.1h0M293.9 102.9h0M313.7 100.8h0M331 73.6h0M291.2 97.9h0M316.1 81.1h0M293.3 93.1h0M283.6 87.4h0M282.7 93.9h0M284 96.5h0M286.2 79.3h0M324.9 87.3h0M300.8 74.8h0M297.3 72.6h0M317.9 85.8h0M276.3 88.8h0M311.8 97.3h0M283.2 84.5h0M306.1 97.9h0M315.6 82.6h0M327.4 79.5h0M304.2 94.6h0M287.7 86.1h0M287.7 72.9h0M313.9 84.1h0M321.5 94.2h0M311.9 85.1h0M288.3 95.3h0M285.3 71.7h0M316.3 87.1h0M299.6 82.4h0M298.1 99.4h0M329.4 74.2h0M300.9 89.9h0M288.2 95.5h0M302.2 78.2h0M302.2 70.7h0M312.9 79.1h0M289.1 84.4h0M322.9 96.6h0M303.1 86.5h0M281.8 82.4h0M304.5 79.3h0M284.4 99.2h0M324.7 70.5h0M302.6 91.4h0M284.9 86.6h0M291.3 100.2h0M287.8 75.8h0M319.9 100.5h0M311.1 95.5h0M313.8 89.1h0M288.3 100.7h0M296.4 87.8h0M309.7 75h0M285.3 86h0M278 83.5h0M303.3 69.5h0M297.4 84.9h0M309.3 81h0M281.6 88.8h0M321.1 100.1h0M282.4 92.4h0M283.7 86.7h0M300.4 88.9h0M308.1 78.9h0M329.9 99.1h0M308.9 78.7h0M280.2 87.6h0M301.5 68.5h0M317.9 72.4h0M326.8 95.3h0M313 83.5h0M282.9 71.3h0M278.8 89.2h0M309.9 105h0M311.4 77.6h0M300.6 94.9h0M313.4 85.1h0M277.7 83.5h0M291.1 77.2h0M287.5 99.1h0M324.7 71.2h0M308 80.6h0M299.8 87.5h0M285.3 71.2h0M293.1 83.8h0M284.1 83.1h0M326.4 77.3h0M326.9 96.4h0M281.9 89.7h0M291.2 77.8h0M302.3 85.4h0M310.4 105.9h0M286.6 77.5h0M284 95.6h0M312.4 106.8h0M318.8 101.5h0M294.4 102.6h0M323.6 96.4h0M308 83h0M309.4 99.3h0M292.5 89.2h0M307 82.9h0M295.5 74.1h0M282.9 75h0M305.4 106h0M281.7 92.5h0M332.4 72.3h0M328.8 70.9h0M328.6 99.4h0M306.9 72h0M294.1 85.2h0M304.2 98.4h0M328.2 97.8h0M315.3 86.4h0M320.8 96.4h0M307.5 104.3h0M304.6 87.1h0M329.8 75.9h0M282.5 89.5h0M329.5 77.4h0M315 97h0M314.5 101.8h0M304.1 98.3h0M323.2 98.7h0M325.2 90.9h0M297.2 98.4h0M294.7 104.9h0M300 81.9h0M321.8 99.6h0M316.9 94.7h0M305.3 104.6h0M274.5 90.1h0M299.5 88.4h0M300.4 104.6h0M298.3 86h0M297.3 106h0M323 82.9h0M320.7 95.6h0M289.3 79.7h0M320.6 78.6h0M315.8 100.3h0M294.6 80.9h0M305.9 79.8h0M303.2 92.8h0M294.9 101.8h0M311.1 91.9h0M302.4 100.3h0M319.2 73.5h0M290.3 96.7h0M317.2 84h0M311.1 91.8h0M292.6 97.8h0M311.3 100.5h0M284.2 71.6h0M289 79.6h0M292.9 96.8h0M293.8 100.1h0M289.1 99.6h0M297.1 102.8h0M283.7 83h0M319 100.1h0M293.7 95.6h0M296 88.5h0M290.9 80.1h0M284.4 69.4h0M310.2 89.6h0M311.8 95h0M329.5 72.7h0M298.4 83.4h0M304.1 76.6h0M314.1 75.9h0M293.7 82.3h0M326.4 92.2h0M306.9 88.1h0M327.3 88.1h0M305.2 101.5h0M282.9 91.8h0M288.8 102.3h0M298 106.7h0M286.9 101.9h0M319.8 78.5h0M282 78.4h0M323.1 74h0M289.6 84.1h0M282.6 90.2h0M313.2 78.5h0M292.8 87h0M327.4 79.2h0M285.6 69.6h0M315.6 73.4h0M308.5 102.3h0M314.8 102.3h0M274.8 85.2h0M320.2 93.9h0M331.5 71.6h0M323.9 98.1h0M292.4 82.2h0M310.8 101.5h0M294.9 96.3h0M313.7 76.2h0M326 100.9h0M275.3 88.2h0M288.1 88.1h0M317.6 88.4h0M287.2 96h0M318.6 95.2h0M289.9 81.4h0M303.8 79.2h0M318.5 101.6h0M303.5 100.9h0M318.3 96.1h0M293.5 80.3h0M287.3 69.8h0M290.1 91.1h0M317.9 82.1h0M287.3 97.7h0M292.8 84.4h0M327.2 97.1h0M291.6 89.3h0M314.1 93h0M293.3 88.8h0M309.2 102.7h0M310.2 74.9h0M320.6 74h0M313.9 77.4h0M304.9 73.5h0M300.1 86.5h0M325.6 102.8h0M310.2 99.6h0M301.3 92.8h0M326.3 87.7h0M311.3 72.5h0M317.7 76.8h0M291.1 85.2h0M294.3 70.1h0M291.2 98h0M324.7 70.1h0M285.4 83.1h0M289.4 88.4h0M289.9 84.7h0M306.5 76.3h0M318.6 87.8h0M283.3 75.9h0M301.5 70.2h0M296.7 103.4h0M290.3 70.2h0M295.7 95.3h0M315.2 93.4h0M293.6 74.6h0M314 71.8h0M297.1 88h0M283.1 91.7h0M294.1 94h0M314.2 77.4h0M289.2 85.2h0M299.6 82.3h0M316.9 75.5h0M321.7 89.4h0M278.3 83.4h0M305.7 72.4h0M281.5 89.7h0M281.6 81.4h0M292.2 74.6h0M298.7 69.8h0M328.7 77.9h0M326 96.6h0M290.6 104.1h0M311.6 100.8h0M298.4 83.9h0M313.4 77.3h0M302.7 103.5h0M317.9 78.3h0M305.6 106.1h0M314.4 94.8h0M302.5 73.1h0M316.7 87h0M323.5 88.6h0M327 75.3h0M288.7 99.6h0M289.5 102h0M310.3 103.4h0M323.5 81.2h0M314.4 90h0M287.4 76.5h0M325.4 76.1h0M299.4 99.9h0M279.3 81.9h0M323.4 98.9h0M297 105.4h0M289.7 83.1h0M302.7 72.4h0M323.3 89.3h0M300.3 76.9h0M310.6 94.3h0M309.6 87.6h0M288.8 75h0M301.2 80.8h0M324.6 95.9h0M304.4 73.8h0M280.5 85.2h0M295.7 81.6h0M282.5 69.7h0M315.7 89.3h0M302.7 91.1h0M331.4 74.6h0M289.2 90.6h0M313.7 98.5h0M300.9 90.1h0M328.8 72.5h0M285.2 74.5h0M288.2 78.7h0M315.6 79.3h0M300.2 70h0M307 94.9h0M283.5 72.1h0M297.4 99.7h0M279.1 85.4h0M304.9 100.2h0M318.8 76.3h0M316.3 89.5h0M322.4 74.2h0M288.8 96.5h0M279.4 86.4h0M314.1 97.7h0M314.9 75.6h0M323 85.8h0M306.5 71.7h0M322.5 98.6h0M299.5 73.2h0M323.6 99.2h0M285.2 91.9h0M314.9 71.2h0M314 95.7h0M291.7 93.1h0M301.5 100.5h0M306.1 91h0M299.1 101.5h0M281.9 81.5h0M321.1 91.7h0M302.1 80.3h0M297.1 84.6h0M302.8 88.4h0M298.2 77.5h0M310.2 90.8h0M307.2 86.7h0M320.4 91.8h0M322.8 82h0M292.7 80.9h0M319.8 86.4h0M289.9 72.9h0M303.4 74.3h0M321.3 83.6h0M298.3 91.6h0M286.4 92.1h0M282.7 81.7h0M312.8 99.3h0M301.5 102.6h0M325.3 98.3h0M304 86.4h0M284.1 92.9h0M320.3 81.3h0M280.2 79.9h0M298.5 86.7h0M292.3 84.8h0M321 93.1h0M316.6 84.2h0M325.6 102.6h0M307.1 88.6h0M318.3 99h0M316.1 96.4h0M280.7 87.4h0M297.3 88.6h0M301.5 101.3h0M294.7 103.3h0M290.1 77.3h0M302.6 98.3h0M291.5 82.4h0M322.6 75.9h0M306.6 72.3h0M292.2 78.7h0M318.3 89.2h0M289.7 98.5h0M287.5 76h0M319.9 94.1h0M303 101.8h0M311.6 74.8h0M309.3 102.1h0M299.7 103.7h0M327.2 76.7h0M291.4 76h0M315.3 88h0M289.4 90.4h0M288.2 100.4h0M323.9 88.3h0M298.2 77.4h0M295.4 81.4h0M305.1 94.4h0M307.8 100.9h0M326.6 73h0M314.7 101.7h0M278.2 90.2h0M288.3 91.6h0M278.4 92.4h0M274.5 86.5h0M285 79.1h0M300.2 74.6h0M321.5 75.5h0M291.1 78.5h0M303.9 70.6h0M318.3 79.3h0M299 106.4h0M307.1 79.3h0M303.9 81.2h0M288.4 85.9h0M307.4 79.7h0M292.8 92.6h0M289.6 86h0M292 96.8h0M332 72.3h0M282.7 87.5h0M297.2 93.3h0M305.5 70.9h0M317.3 75.6h0M310.4 79h0M282.1 87.4h0M314 96.1h0M322.1 86.7h0M276.7 88h0M302.6 102.2h0M312.4 106.5h0M308.4 91.6h0M292.4 105.5h0M321.4 94.6h0M324.9 85.7h0M308.7 89.9h0M307.2 107.3h0M308.5 87.8h0M314 98.1h0M313.8 83.5h0" stroke="#4e8532" stroke-width="1.9" stroke-linecap="round"/>
<path d="M312.5 106.6h0M310.8 99.5h0M291 97.2h0M301.1 87.8h0M292.7 101.8h0M304.9 73.4h0M328.9 73.7h0M294.8 69.5h0M288.9 71.9h0M308.8 79.4h0M320.6 88.4h0M311.8 80.7h0M300.6 72.8h0M310.4 100.1h0M304.1 105.9h0M318 82.8h0M291 77.6h0M321.1 83.8h0M313.1 96.9h0M324.8 88.6h0M291.3 93.4h0M310.2 80.2h0M276.5 84.4h0M317.4 94.4h0M295.1 97.5h0M327.5 80.8h0M294.4 82.6h0M315.3 88.4h0M329.9 74.8h0M310.6 85.8h0M286 69.8h0M307.7 102h0" stroke="#177d48" stroke-width="1.9" stroke-linecap="round"/>
<path d="M325.1 85.9h0M285.2 96.7h0M291.4 80.2h0M315.4 89.7h0M313.8 98.8h0M308.2 105.7h0M329.6 70.8h0M331.1 74.8h0M284.1 72.7h0M299.8 70.3h0M285.1 86.4h0M311.8 98.5h0M316.2 81.4h0M295.6 98.5h0M324.3 86.3h0M292.4 94.1h0M293.4 92.1h0M300.6 91.4h0M290.8 91.4h0M315.9 100.4h0M298.2 103h0M304.1 70.3h0M306.9 77.9h0M310.4 75.9h0M286.9 96.3h0M324.8 80.5h0M316 98.2h0M285.4 97.5h0M281.9 76.2h0M291.8 82.9h0M323.6 93.8h0M288.3 84.3h0M314.4 93.3h0M301.2 96.9h0M289.9 89.5h0M279.1 91.9h0M285.3 68.6h0M321.2 85.3h0M322.2 93.3h0M308.8 76.5h0M293.6 93.5h0M328 97.4h0M305.4 85.1h0M312.9 86.3h0M300 105.8h0M317.9 83.8h0M318.4 86.4h0M302.9 78.2h0M283.6 95.2h0M301.4 71.1h0M301.3 101.4h0M310.1 89.5h0M288.3 86.2h0M317 86.7h0M321.2 89.7h0M297.8 91.7h0M311 73.1h0M319.6 72.6h0M299.3 80h0M326 100.9h0M288.2 97.8h0M290.2 88.4h0M300 69.7h0M292 104.7h0M291.7 73.4h0" stroke="#b98c28" stroke-width="1.9" stroke-linecap="round"/>
<path d="M304.1 70.3h0M280.1 80.2h0M308.2 74.3h0M311.3 100.2h0M291.5 79h0M323.7 90.6h0M294.7 97.5h0M319.2 86.4h0M277.4 84.8h0M276 91.9h0M303.9 70.7h0M310.3 90h0M289.2 102.8h0M277.1 85h0M275.3 86.7h0M293.2 94.6h0M285.7 89.5h0" stroke="#d18c40" stroke-width="1.9" stroke-linecap="round"/>
<path d="M286.8 85.1h0M284.7 97.3h0M301.2 81.3h0M305.9 94.5h0" stroke="#11794a" stroke-width="1.9" stroke-linecap="round"/>
<path d="M320.5 88.1h0" stroke="#e68c6e" stroke-width="1.9" stroke-linecap="round"/>
<path d="M284 68.8h0M281.7 69.3h0M282.8 68.7h0M285.6 67.5h0M292.7 69h0M290.8 69.7h0M293.5 70.2h0M294.8 69.8h0M294.8 69.9h0M304.9 69.2h0M301.9 69h0M300 68h0M304.2 68.9h0M312.4 71.2h0M309.4 70.5h0M309 70.5h0M317.7 70.8h0M314.9 71.6h0M314.9 70.7h0M317.9 71h0M320.6 70.6h0M322 70.5h0M322.7 70h0M327.6 69.6h0M331.4 69.9h0M333.1 70.4h0M333.4 70.7h0M333.8 71.7h0M331.1 75.7h0M332.2 75h0M328 79.8h0M329.5 77.1h0M328.8 87.8h0M327.8 86.8h0M327.2 82.6h0M327 90.2h0M327 90.1h0M327.7 88.8h0M330.9 96.2h0M329.6 98.7h0M322.4 104.2h0M322.4 105.2h0M327.5 102.6h0M317.2 102.6h0M318.3 102.7h0M316.9 102.2h0M315.2 103h0M315.4 101.9h0M313 105.3h0M313.8 105h0M312.8 107.4h0M310 108h0M313.2 106.5h0M306 107.2h0M307.1 107.8h0M305.8 107.9h0M301.7 106.8h0M302.9 106.8h0M302.4 107.1h0M297.3 106.8h0M297.2 107h0M292.4 106.3h0M288.1 103.4h0M291.2 104.8h0M289 104h0M285.5 101.6h0M286.8 102.2h0M285.4 101.3h0M282.3 96.3h0M279.1 92.9h0M280.8 94.2h0M273.5 90.9h0M275 92.4h0M274 91.4h0M273.5 91.1h0M272.5 89.2h0M272.3 89.6h0M276.5 82.3h0M276.2 82.9h0M275.4 82.4h0M281.1 79.9h0M278.9 80.3h0M282.7 74.5h0M282 75.5h0M282.1 71.8h0M281.8 73.5h0M281.8 72.3h0" stroke="#1e8246" stroke-width="1.8" stroke-linecap="round"/>
<path d="M289.3 68.5h0M297.7 68.5h0M304 69.2h0M311.2 71.6h0M329.3 78.7h0M329.5 79h0M327.4 87.6h0M327.9 92.8h0M327.8 92.5h0M331 95.2h0M329.5 100.2h0M330 100.2h0M327.7 103.3h0M301.3 107.1h0M298.3 106.4h0M295.8 106.9h0M283.8 99.7h0M281.8 95.3h0M282.6 96.9h0M279.4 92.6h0M272.4 86.5h0M279.8 80.3h0M282.2 75.2h0M280.9 70.6h0" stroke="#4e8532" stroke-width="1.8" stroke-linecap="round"/>
<path d="M291.8 69h0M293.4 69.3h0M295.2 69.3h0M308.8 71.1h0M315.7 71.1h0M319.6 69.7h0M320.7 70.3h0M328.3 69h0M331.7 69.1h0M331.1 69.8h0M331.8 74.8h0M333.9 73.9h0M328.2 85.3h0M327.9 85.1h0M330.1 94.5h0M326.8 91.9h0M329.8 96.1h0M327.3 102.3h0M324.2 103.7h0M317 101.5h0M318.7 103.4h0M313.5 104.2h0M304.9 106.9h0M289.1 103.5h0M282.6 96.4h0M279.4 92.8h0M273.3 86.3h0M275 83.5h0M281.7 78.9h0" stroke="#177d48" stroke-width="1.8" stroke-linecap="round"/>
<path d="M328.7 62.4h0M329 63.2h0M327.3 62.8h0M323.9 62h0M330.5 60.4h0M329.1 62.6h0M331.1 60.7h0M326.2 60.1h0M325.5 63.1h0M330.1 62.9h0" stroke="#798826" stroke-width="1.9" stroke-linecap="round"/>
<path d="M328.5 61h0M325.4 63h0M331 62.4h0M330.3 62.6h0M323.7 61.9h0M330.8 62.6h0" stroke="#1e8246" stroke-width="1.9" stroke-linecap="round"/>
<path d="M323.1 61.4h0M330.9 61.2h0M331 62.2h0M325.5 61.5h0M330.1 60.5h0M325.2 62.7h0M327.3 60.7h0" stroke="#a08c20" stroke-width="1.9" stroke-linecap="round"/>
<path d="M330 62.9h0M326.4 61.1h0M328 62.8h0" stroke="#4e8532" stroke-width="1.9" stroke-linecap="round"/>
<path d="M328 59h0M331.8 60.7h0M331.9 61.2h0M324.8 60.1h0M328.5 63.4h0M322.6 61.4h0M322.7 60.9h0M331.7 63h0M331.9 60.9h0M330.6 59.5h0M330.9 59.6h0M325.1 63.6h0M325.3 63.6h0" stroke="#1e8246" stroke-width="1.8" stroke-linecap="round"/>
<path d="M322.4 60.8h0M323.9 62.5h0M322.7 61.8h0M322 62.4h0M331.6 60.7h0" stroke="#4e8532" stroke-width="1.8" stroke-linecap="round"/>
<path d="M331.3 61.1h0M327.1 63.9h0M327.6 63.2h0" stroke="#177d48" stroke-width="1.8" stroke-linecap="round"/>
<path d="M322.4 62.1h0" stroke="#798826" stroke-width="1.8" stroke-linecap="round"/>
<path d="M309 109.9h0M304.6 108.7h0M306.7 108.9h0M308.6 111.6h0M308.6 107.8h0M311.1 109.1h0M311.4 108.2h0" stroke="#4e8532" stroke-width="1.8" stroke-linecap="round"/>
<path d="M307.5 106.2h0M311.6 108.2h0" stroke="#1e8246" stroke-width="1.8" stroke-linecap="round"/>
<path d="M309.2 106.4h0M308.9 106.4h0" stroke="#a08c20" stroke-width="1.8" stroke-linecap="round"/>
<path d="M305.7 107.9h0" stroke="#798826" stroke-width="1.8" stroke-linecap="round"/>
<path d="M269.2 113h0M275.9 116.1h0M268.9 121.6h0M275.4 106.5h0M271.5 113.1h0M264.1 105.5h0M283.3 114.2h0M263.2 111.2h0M273.8 108.5h0M267.9 104.4h0M285.2 119.6h0M276.9 113.9h0M281.7 112h0M278 119.9h0M271.5 108h0M262.4 109h0M277.9 122.9h0M287.2 119.5h0M282.4 112.3h0M275 112.2h0M274.9 122.8h0M267.6 113h0M270.2 107.8h0M285.1 115h0M282.2 114.8h0M268.3 110.4h0M268.2 110h0M286.2 119.3h0M282.3 113.2h0M262.6 108.9h0M274.7 105.7h0M265.7 105.2h0M286 115.9h0M270.3 122.5h0M265.4 105.8h0M270.9 104.2h0M266.5 109.1h0M264.9 114.2h0M285.5 114.7h0M263.9 106.2h0M285.2 117.7h0M268.6 108.8h0M264.6 114.2h0M269.1 122h0M263.1 111.7h0M275.2 121h0M274.7 107.6h0M274.7 116.5h0M279.2 114.2h0M275 106.8h0M272.9 108.3h0M268.2 111h0M265.2 107.7h0M274.1 111h0M283.2 117.9h0M286.2 115.6h0M277.8 111.7h0M282.6 119.3h0M269.4 114.5h0M266.8 115.7h0M270.2 112.1h0M274.2 106.6h0M274.7 113.4h0M268.7 110.3h0M269.4 118.7h0M287 116.6h0M265.5 108.6h0M269.4 113.3h0M282.8 119.5h0" stroke="#1e8246" stroke-width="1.9" stroke-linecap="round"/>
<path d="M271.9 105.7h0M273.4 120.8h0M263.2 110h0M280.8 115.5h0M277.2 122.7h0M273.8 112.5h0M275.7 120h0M272.5 122.3h0M274.9 109.7h0M279.2 121.5h0M270.3 110.4h0M268.9 107.3h0M273.3 110.6h0M267.9 108.3h0M266.7 109.4h0M284.3 117.6h0M266.3 105.2h0M283.2 112.9h0M270 114.5h0M265.5 106.5h0M266.8 112.7h0M278.2 120.7h0M272.6 121.1h0M273.6 118h0M268.3 115.7h0M268.6 104.9h0M285.1 119.2h0M264.7 113.8h0M281.4 118h0M272.9 120.6h0M270.9 104.1h0M280.7 117.4h0M275.9 109.3h0M276.8 116.6h0M268.2 119.2h0M264.7 113.7h0M289.1 118.3h0M286.2 114.3h0M274.5 114.1h0M279.4 119.6h0M277.1 121.7h0M273.4 107.8h0M282.4 119.2h0M272.8 117.5h0M262.5 108h0M280.2 117.5h0M269.9 105.9h0M281.8 118.8h0M262.8 111.6h0M273.8 109.4h0M279.7 121.3h0M276.1 118.8h0M289.1 118.1h0M264.9 107.1h0M269.4 117.6h0M289.2 118.5h0M261.4 107.6h0M271.2 116.6h0M273.4 108.3h0M267 106.7h0M271.9 112.8h0M285.1 119.3h0M268.7 120h0M275.9 114h0M282.2 114.1h0M287.4 119.6h0M284.5 117.2h0M275.4 115.3h0M286.2 117.7h0M278 116.3h0M271.3 122.1h0M276.9 121.3h0M279 119.8h0M281.1 116.9h0M276.1 111.2h0M272.1 116.6h0M270.2 114.3h0M276.7 112.6h0M283 117.1h0M280.3 119.1h0M269 103.6h0M279 119.3h0M267.2 104.4h0M277.6 122.9h0M271.9 108.4h0M274.6 113.2h0M272.5 107.8h0M272.8 111.8h0M264.8 108h0M287.9 116.5h0M283.8 113.4h0M284.2 113h0M285.8 117.8h0M261.3 106.4h0M271 117.6h0M272.8 116.4h0M276.8 110.9h0M266 109.9h0M275.3 123.2h0M288.9 118.6h0M283.5 115h0M285.7 115.6h0M272.9 113.4h0M273.4 109.3h0M278.3 121.7h0M281.3 120.1h0M281.3 119.4h0M270.9 108.9h0M284.2 113.9h0M268.6 117.3h0M267.8 113.8h0" stroke="#4e8532" stroke-width="1.9" stroke-linecap="round"/>
<path d="M273.6 118.6h0M265.5 105.7h0M269.9 109.9h0M279.9 112.5h0M273.6 117.4h0M274.1 113.6h0M267.9 115.2h0M274.4 113h0M271.7 112.5h0M269.5 116.9h0M263.5 105.6h0M282.2 115.8h0M270.7 108.2h0M265.6 113.4h0M273.7 118.7h0M265.8 111.1h0M275.7 117h0M275.6 118h0" stroke="#a08c20" stroke-width="1.9" stroke-linecap="round"/>
<path d="M278.4 122.5h0M278.3 111h0M274.4 121h0M264.4 112.1h0M282.4 115.8h0M276.8 121.3h0M272.4 119.4h0M272.1 119.4h0M272.2 109.6h0M285.9 114.7h0M275.6 115.9h0M270.9 122.5h0M269.6 106.3h0M269.8 114.1h0M268.1 119.1h0M263.1 111.7h0M265 112.7h0M267.6 108.5h0M271.1 122.6h0M273.6 110.6h0M273.6 123.7h0M284.8 119.4h0M277.7 121.7h0M268.8 121.8h0M264.9 107.9h0M277.9 122.1h0M261.6 106.4h0M270.1 117.1h0M268.7 121.2h0M273.6 122.4h0M273.2 112.9h0M271.4 107.1h0M287.4 116.2h0M265.7 108.5h0M277.9 122.5h0M281.8 115.1h0M263.8 111.9h0M278.7 114.1h0M288.6 117.6h0M280.9 120.7h0M275.2 121.7h0M267.2 116.6h0M276.5 110.2h0M287.4 119.8h0M284.5 114.5h0M276.5 117.4h0M284.9 119.2h0M285.7 114h0M267 116.3h0M266 105.3h0M282.5 114.8h0M274.2 112.6h0M274.8 117.6h0M268.4 112.6h0M262.3 108.3h0M273.4 108h0M287.3 116.9h0M270.8 123.3h0M279.8 112h0M274.2 109.5h0M270.4 123.6h0M285.2 114.9h0M270.6 122.7h0M264.4 107.9h0M286 117.1h0M281.2 119.1h0" stroke="#798826" stroke-width="1.9" stroke-linecap="round"/>
<path d="M265.7 104.8h0M267.8 116.4h0M280.8 111.9h0M280.5 111.8h0M269.7 108.4h0M275.6 110.6h0M275.6 112.1h0M267.7 112.4h0M277.7 113.4h0M264.7 108.4h0M271.8 117.3h0M278.5 114.1h0M282.9 113.3h0M283.2 116.3h0M267.1 109.7h0M270.6 112.4h0M262.1 108.5h0M269.4 117.3h0M277.4 111.3h0M273.3 105.7h0M264.3 109.3h0M272 123.1h0M277 118.8h0M273.5 122.1h0M268.3 106.8h0" stroke="#177d48" stroke-width="1.9" stroke-linecap="round"/>
<path d="M271.5 123.8h0M266.6 114.1h0M271.2 116.8h0M278.9 113.1h0" stroke="#b98c28" stroke-width="1.9" stroke-linecap="round"/>
<path d="M271.1 108.2h0M284.5 118.7h0M264 108.5h0" stroke="#11794a" stroke-width="1.9" stroke-linecap="round"/>
<path d="M267 104h0M264.2 104.6h0M262 106.4h0M263.5 104.5h0M262.9 105h0M268.2 104h0M267.1 104h0M270 103.3h0M275 104.2h0M275.7 107.6h0M275.6 106.5h0M275.3 105.2h0M275.8 109.5h0M280.3 110.9h0M281.6 112.1h0M286.1 113.7h0M286.8 113.6h0M286.2 113.9h0M287.7 115.2h0M287.8 117.1h0M290 117.4h0M289.8 117.7h0M290.5 117.6h0M286.9 119.5h0M286.5 120h0M282.1 120.2h0M282.3 120.1h0M282.5 121.1h0M277 123h0M280.4 121.3h0M274.3 123.8h0M272.9 123.4h0M269.1 121.5h0M268.3 118.5h0M266.3 115.7h0M261.3 106.5h0M261.1 109.5h0M261.6 110.4h0" stroke="#1e8246" stroke-width="1.8" stroke-linecap="round"/>
<path d="M272.4 104.7h0" stroke="#798826" stroke-width="1.8" stroke-linecap="round"/>
<path d="M271.7 103.9h0M276.1 109.9h0M277.6 110.8h0M279.9 111.6h0M279.7 111.7h0M288.8 119.1h0M286 120.2h0M277.6 123.5h0M276.9 123h0M273.5 123.8h0M273.3 124.5h0M269.3 122.6h0M267.4 118.5h0M267.6 120.2h0M265.6 115.6h0M265.7 114.3h0M262.6 111.2h0" stroke="#177d48" stroke-width="1.8" stroke-linecap="round"/>
<path d="M284.7 112.5h0M271.9 124.4h0M268.9 122h0M266.4 116.4h0M262.6 111.7h0M262.3 110.5h0" stroke="#4e8532" stroke-width="1.8" stroke-linecap="round"/>
<path d="M295.6 134.1h0M296.8 133.7h0M297.5 132.5h0M292.4 131.3h0M296 132h0M297.1 130.4h0M247.6 99h0M252.6 96.1h0M249.3 98.1h0M252 101h0" stroke="#d18c40" stroke-width="1.8" stroke-linecap="round"/>
<path d="M295.3 129.8h0M295.4 134.2h0M292.7 132.6h0M296.5 132.6h0M291.7 131.1h0M252.5 98.4h0M257.8 95.8h0M256.7 97.9h0M256 94.7h0M249.4 96.8h0M250.6 95.3h0M255.4 94.8h0M253.4 99.5h0" stroke="#e68c6e" stroke-width="1.8" stroke-linecap="round"/>
<path d="M292.6 131.9h0M293.9 131.2h0M259 96.9h0M256.5 97.8h0M252.3 95.6h0M251.4 97.3h0M246.6 96.6h0M253.1 95.3h0M256.5 97.4h0M253.1 100.9h0M252 100.9h0M254 94.6h0M251.6 96.8h0M250.5 98.1h0M248.9 98.8h0M254.8 95.5h0M248.8 98.5h0M257.4 96h0M248.6 98.1h0" stroke="#ec9999" stroke-width="1.8" stroke-linecap="round"/>
<path d="M293 132.3h0M296 131.2h0M295.3 131.4h0M250.1 96.8h0M255.5 94.8h0M252.3 100.1h0M254.1 95.4h0M249.5 96.8h0M256.8 95.5h0M249.9 95.1h0M257.3 95.4h0M257.3 97.8h0M249.9 97.4h0M258.1 95.9h0M253.5 94.7h0M252.6 98.7h0M255.5 96.8h0M248.7 98.4h0M249.8 99.9h0M251.4 95h0M252.5 100.3h0M249.1 99.9h0M250.4 95.9h0M251.7 97.9h0" stroke="#e99283" stroke-width="1.8" stroke-linecap="round"/>
<path d="M297.7 132.4h0M298.1 131.5h0M294.4 129.8h0M291.5 131.3h0M294.7 130.9h0M294.1 130.1h0M253.2 98.8h0M253.4 100.2h0" stroke="#b98c28" stroke-width="1.8" stroke-linecap="round"/>
<path d="M297.6 131h0M293.4 131.9h0" stroke="#a08c20" stroke-width="1.8" stroke-linecap="round"/>
<path d="M296 130.9h0M252.5 98.2h0M251.8 98.7h0" stroke="#f1aec9" stroke-width="1.8" stroke-linecap="round"/>
<path d="M251.5 96.8h0M251.4 97.3h0M258.2 96.1h0M256.8 97.5h0M254.4 96h0M258.5 96.8h0M248.7 99.8h0" stroke="#f0a0af" stroke-width="1.8" stroke-linecap="round"/>
<path d="M256.6 98.2h0M251.6 98h0M255.3 94.6h0M250.6 97h0M248.7 98.1h0" stroke="#f0a7bc" stroke-width="1.8" stroke-linecap="round"/>
<path d="M246.6 95.6h0M247.5 95.1h0M254 94.6h0M258 94.9h0M254.8 94.4h0M258.8 97.2h0M253.3 100.3h0M255.2 100h0M252.2 101.3h0" stroke="#b98c28" stroke-width="1.7" stroke-linecap="round"/>
<path d="M248.4 94.9h0M259.1 95.5h0M257.2 98.1h0M255.1 99.6h0M252.9 101h0M246.2 98.9h0" stroke="#d18c40" stroke-width="1.7" stroke-linecap="round"/>
<path d="M251.8 94.2h0M249.7 95.1h0M250.5 95.3h0M254.1 94.6h0M259.8 97.2h0M256.9 97.7h0M251.3 100.5h0" stroke="#a08c20" stroke-width="1.7" stroke-linecap="round"/>
<path d="M254.9 94.3h0M245.9 97.6h0M246.5 98.4h0" stroke="#798826" stroke-width="1.7" stroke-linecap="round"/>
<path d="M247.7 99.8h0" stroke="#e68c6e" stroke-width="1.7" stroke-linecap="round"/>
<path d="M282.1 33.7h0M280.4 34h0M284.5 32h0M281.1 34.1h0M281 32h0M282.6 34.5h0M277.8 35.9h0M277 35h0" stroke="#a08c20" stroke-width="1.8" stroke-linecap="round"/>
<path d="M282.5 34.3h0M279.5 32.3h0M277.2 35.6h0M277.7 36.6h0" stroke="#1e8246" stroke-width="1.8" stroke-linecap="round"/>
<path d="M280.7 31.6h0" stroke="#4e8532" stroke-width="1.8" stroke-linecap="round"/>
<path d="M285 32.1h0M276.5 35.2h0M276.4 35.1h0" stroke="#798826" stroke-width="1.8" stroke-linecap="round"/>
<path d="M282.8 31.4h0M277 36.6h0M276.3 35.9h0" stroke="#177d48" stroke-width="1.8" stroke-linecap="round"/>
<path d="M284.3 33h0M276.3 36.9h0M277.3 37.3h0M278.1 36.3h0" stroke="#b98c28" stroke-width="1.8" stroke-linecap="round"/>
<path d="M280.4 30.7h0M276.6 36.7h0" stroke="#e99283" stroke-width="1.8" stroke-linecap="round"/>
<path d="M279.4 32.1h0M282.1 34.1h0M279.7 32.3h0M279.6 33.2h0M278 36.3h0" stroke="#e68c6e" stroke-width="1.8" stroke-linecap="round"/>
<path d="M280.2 33.8h0" stroke="#ec9999" stroke-width="1.8" stroke-linecap="round"/>
<path d="M275.6 35.8h0M276.3 37h0M277.6 37.5h0M276.1 37.1h0" stroke="#d18c40" stroke-width="1.8" stroke-linecap="round"/>
<path d="M276.8 37.6h0" stroke="#f0a0af" stroke-width="1.8" stroke-linecap="round"/>
<path d="M304.6 112.2h0M300.9 116.6h0M302.9 117h0M305.1 115.4h0M303.2 111.2h0M301.7 117h0M302.8 117h0M300.6 114.5h0M300.3 114.6h0M304.7 111.1h0M300.6 113.9h0M305 113.6h0M303.7 114.1h0M303 114.7h0M299.4 114.5h0M300.3 115.4h0M303.1 111.4h0M301.2 116.3h0M300.8 111.2h0" stroke="#0a5a5f" stroke-width="1.9" stroke-linecap="round"/>
<path d="M300.3 114.5h0M301.5 116.4h0M303.3 111.2h0M301.5 113.7h0M304.6 112.5h0M300 113.6h0M301.2 114.4h0M304.3 116h0M301.2 115.9h0M303.1 112.4h0M303.2 111.2h0M303.3 110.9h0" stroke="#0d4662" stroke-width="1.9" stroke-linecap="round"/>
<path d="M299.4 114.9h0M302.1 115.5h0M300.3 114.9h0" stroke="#0a6955" stroke-width="1.9" stroke-linecap="round"/>
<path d="M299.5 113.7h0M302.2 111.3h0M300 112.4h0M299.7 114.8h0M299.4 112.2h0M300.8 111.7h0" stroke="#0a615a" stroke-width="1.9" stroke-linecap="round"/>
<path d="M305.4 114.7h0M299.8 116.1h0M305.1 113.4h0M302.1 111h0M304.7 114.3h0M302 112.4h0M302.2 111.5h0M304.6 113.6h0M300.4 115.8h0M299.2 112.3h0M303.1 113.4h0M302.7 112.9h0M304.9 114.1h0M301.2 112.8h0" stroke="#0b5060" stroke-width="1.9" stroke-linecap="round"/>
<path d="M302.2 111.4h0" stroke="#123260" stroke-width="1.9" stroke-linecap="round"/>
<path d="M303.4 111.1h0M302.4 112.8h0M302.8 112h0M300.2 111.6h0M301 111.1h0" stroke="#0f3c64" stroke-width="1.9" stroke-linecap="round"/>
<path d="M292.6 118.1h0" stroke="#0a615a" stroke-width="1.8" stroke-linecap="round"/>
<path d="M291.2 117.9h0" stroke="#0f3c64" stroke-width="1.8" stroke-linecap="round"/>
<path d="M292.8 118.2h0" stroke="#0a6955" stroke-width="1.8" stroke-linecap="round"/>
<path d="M291 117.9h0M290.5 117.7h0" stroke="#0a5a5f" stroke-width="1.8" stroke-linecap="round"/>
<path d="M290.9 118.2h0" stroke="#0b5060" stroke-width="1.8" stroke-linecap="round"/>
</g>
<defs><linearGradient id="gb" x1="0" y1="1" x2="0" y2="0"><stop offset="0" stop-color="#191e5a"/><stop offset="0.125" stop-color="#0f3c64"/><stop offset="0.25" stop-color="#0a5a5f"/><stop offset="0.32" stop-color="#0a6658"/><stop offset="0.4" stop-color="#0f784b"/><stop offset="0.5" stop-color="#1e8246"/><stop offset="0.56" stop-color="#64872a"/><stop offset="0.625" stop-color="#a08c20"/><stop offset="0.69" stop-color="#c88c2d"/><stop offset="0.75" stop-color="#e68c6e"/><stop offset="0.875" stop-color="#f0a0af"/><stop offset="1.0" stop-color="#f2b6d7"/></linearGradient></defs>
<rect x="343.2" y="58.2" width="8.2" height="41.5" fill="url(#gb)"/>
<line x1="343.2" y1="69" x2="344.8" y2="69" stroke="#ffffff" stroke-width="0.5"/>
<line x1="349.8" y1="69" x2="351.4" y2="69" stroke="#ffffff" stroke-width="0.5"/>
<line x1="343.2" y1="79.4" x2="344.8" y2="79.4" stroke="#ffffff" stroke-width="0.5"/>
<line x1="349.8" y1="79.4" x2="351.4" y2="79.4" stroke="#ffffff" stroke-width="0.5"/>
<line x1="343.2" y1="90" x2="344.8" y2="90" stroke="#ffffff" stroke-width="0.5"/>
<line x1="349.8" y1="90" x2="351.4" y2="90" stroke="#ffffff" stroke-width="0.5"/>
<text x="343.5" y="52.8" font-size="7.3">hUSI</text>
<text x="354.6" y="61" font-size="6.4">1.00</text>
<text x="354.6" y="71.2" font-size="6.4">0.75</text>
<text x="354.6" y="81.6" font-size="6.4">0.50</text>
<text x="354.6" y="92.2" font-size="6.4">0.25</text>
<text x="354.6" y="102.5" font-size="6.4">0</text>
<path d="M213.4 118.8 L213.4 139.4 L234.3 139.4" fill="none" stroke="#3b4a6b" stroke-width="0.85"/>
<path d="M211.8 119.9 L213.4 116.8 L215 119.9 Z" fill="#3b4a6b"/>
<path d="M233.2 137.8 L236.3 139.4 L233.2 141 Z" fill="#3b4a6b"/>
<text x="238.2" y="141" font-size="6.1">tSNE<tspan font-size="3.9" dy="1.1">1</tspan></text>
<text x="217.3" y="114" font-size="6.1" transform="rotate(-90 217.3 114)">tSNE<tspan font-size="3.9" dy="1.1">2</tspan></text>
<path d="M451.3 27.6 L450.7 30.75 L450.1 34.94 L449.3 38.09 L447.8 41.24 L445.3 44.38 L441.8 47.53 L437.3 50.68 L433.3 53.82 L431.5 55.92 L431.4 58.02 L432.8 60.12 L435.8 62.22 L440.3 65.36 L443.8 68.51 L446.1 71.66 L447.5 74.8 L448.5 80.05 L449 85.29 L449.3 90.54 L449.7 95.78 L450 101.03 L450.3 106.28 L450.6 111.52 L450.9 116.77 L451.3 118.86 L451.3 118.86 L451.7 116.77 L452 111.52 L452.3 106.28 L452.6 101.03 L452.9 95.78 L453.3 90.54 L453.6 85.29 L454.1 80.05 L455.1 74.8 L456.5 71.66 L458.8 68.51 L462.3 65.36 L466.8 62.22 L469.8 60.12 L471.2 58.02 L471.1 55.92 L469.3 53.82 L465.3 50.68 L460.8 47.53 L457.3 44.38 L454.8 41.24 L453.3 38.09 L452.5 34.94 L451.9 30.75 L451.3 27.6 Z" fill="#a3a3a3" stroke="#2a2a2a" stroke-width="0.5" stroke-linejoin="round"/>
<path d="M495.6 49.63 L494.4 51.73 L492.6 53.82 L490.1 55.92 L487.1 58.02 L483.6 60.12 L480.1 62.22 L477.1 64.31 L476.2 66.41 L477.1 68.51 L480.1 70.61 L484.6 73.76 L488.1 76.9 L490.3 80.05 L492 84.25 L493.1 88.44 L493.9 92.64 L494.3 95.78 L494.4 97.88 L494 99.98 L493.3 103.13 L493 106.28 L493.5 109.42 L494.3 112.57 L494.8 115.72 L495.2 118.86 L495.6 120.96 L495.6 120.96 L496 118.86 L496.4 115.72 L496.9 112.57 L497.7 109.42 L498.2 106.28 L497.9 103.13 L497.2 99.98 L496.8 97.88 L496.9 95.78 L497.3 92.64 L498.1 88.44 L499.2 84.25 L500.9 80.05 L503.1 76.9 L506.6 73.76 L511.1 70.61 L514.1 68.51 L515 66.41 L514.1 64.31 L511.1 62.22 L507.6 60.12 L504.1 58.02 L501.1 55.92 L498.6 53.82 L496.8 51.73 L495.6 49.63 Z" fill="#0a8f8c" stroke="#2a2a2a" stroke-width="0.5" stroke-linejoin="round"/>
<line x1="451.8" y1="34.94" x2="451.8" y2="52.78" stroke="#2a2a2a" stroke-width="0.5"/>
<line x1="451.8" y1="67.78" x2="451.8" y2="90.54" stroke="#2a2a2a" stroke-width="0.5"/>
<rect x="447.8" y="52.78" width="8" height="15" fill="none" stroke="#2a2a2a" stroke-width="0.55"/>
<line x1="447.8" y1="58.55" x2="455.8" y2="58.55" stroke="#2a2a2a" stroke-width="0.55"/>
<line x1="495.3" y1="51.73" x2="495.3" y2="63.79" stroke="#2a2a2a" stroke-width="0.5"/>
<line x1="495.3" y1="77.22" x2="495.3" y2="94.74" stroke="#2a2a2a" stroke-width="0.5"/>
<rect x="491.3" y="63.79" width="8" height="13.43" fill="none" stroke="#2a2a2a" stroke-width="0.55"/>
<line x1="491.3" y1="69.56" x2="499.3" y2="69.56" stroke="#2a2a2a" stroke-width="0.55"/>
<line x1="425.6" y1="16.8" x2="425.6" y2="137.9" stroke="#333" stroke-width="0.6"/>
<line x1="425.6" y1="137.9" x2="521.4" y2="137.9" stroke="#333" stroke-width="0.6"/>
<line x1="423" y1="27.6" x2="425.6" y2="27.6" stroke="#333" stroke-width="0.6"/>
<text x="420.4" y="29.8" font-size="6.2" text-anchor="end">1.00</text>
<line x1="423" y1="53.82" x2="425.6" y2="53.82" stroke="#333" stroke-width="0.6"/>
<text x="420.4" y="56.02" font-size="6.2" text-anchor="end">0.75</text>
<line x1="423" y1="80.05" x2="425.6" y2="80.05" stroke="#333" stroke-width="0.6"/>
<text x="420.4" y="82.25" font-size="6.2" text-anchor="end">0.50</text>
<line x1="423" y1="106.28" x2="425.6" y2="106.28" stroke="#333" stroke-width="0.6"/>
<text x="420.4" y="108.48" font-size="6.2" text-anchor="end">0.25</text>
<line x1="423" y1="132.5" x2="425.6" y2="132.5" stroke="#333" stroke-width="0.6"/>
<text x="420.4" y="134.7" font-size="6.2" text-anchor="end">0</text>
<line x1="451.3" y1="137.9" x2="451.3" y2="139.7" stroke="#333" stroke-width="0.6"/>
<text x="451.3" y="147.2" font-size="6.35" text-anchor="middle">Untreated</text>
<line x1="495.6" y1="137.9" x2="495.6" y2="139.7" stroke="#333" stroke-width="0.6"/>
<text x="495.6" y="147.2" font-size="6.35" text-anchor="middle">Treated</text>
<text x="473.5" y="158.3" font-size="7.7" text-anchor="middle">Immune trerapy</text>
<text x="402.6" y="77" font-size="7.9" text-anchor="middle" transform="rotate(-90 402.6 77)">hUSI</text>
<line x1="450" y1="24.1" x2="498" y2="24.1" stroke="#333" stroke-width="0.6"/>
<text x="474" y="25.7" font-size="10.5" text-anchor="middle" stroke="#222" stroke-width="0.25">***</text>
<rect x="568.2" y="8.9" width="59.4" height="136.4" fill="#ffffff"/>
<line x1="568.2" y1="139.7" x2="627.6" y2="139.7" stroke="#ebebeb" stroke-width="0.5"/>
<line x1="568.2" y1="108.57" x2="627.6" y2="108.57" stroke="#ebebeb" stroke-width="0.5"/>
<line x1="568.2" y1="77.45" x2="627.6" y2="77.45" stroke="#ebebeb" stroke-width="0.5"/>
<line x1="568.2" y1="46.33" x2="627.6" y2="46.33" stroke="#ebebeb" stroke-width="0.5"/>
<line x1="568.2" y1="15.2" x2="627.6" y2="15.2" stroke="#ebebeb" stroke-width="0.5"/>
<line x1="568.2" y1="124.14" x2="627.6" y2="124.14" stroke="#f4f4f4" stroke-width="0.4"/>
<line x1="568.2" y1="93.01" x2="627.6" y2="93.01" stroke="#f4f4f4" stroke-width="0.4"/>
<line x1="568.2" y1="61.89" x2="627.6" y2="61.89" stroke="#f4f4f4" stroke-width="0.4"/>
<line x1="568.2" y1="30.76" x2="627.6" y2="30.76" stroke="#f4f4f4" stroke-width="0.4"/>
<line x1="584.5" y1="8.9" x2="584.5" y2="145.3" stroke="#ebebeb" stroke-width="0.5"/>
<line x1="611.4" y1="8.9" x2="611.4" y2="145.3" stroke="#ebebeb" stroke-width="0.5"/>
<rect x="572.3" y="15.2" width="24.4" height="20.29" fill="#2b9584"/>
<rect x="572.3" y="35.49" width="24.4" height="46.31" fill="#e2bb68"/>
<rect x="572.3" y="81.81" width="24.4" height="57.89" fill="#dc6a4c"/>
<rect x="599.2" y="15.2" width="24.4" height="40.84" fill="#2b9584"/>
<rect x="599.2" y="56.04" width="24.4" height="79.93" fill="#e2bb68"/>
<rect x="599.2" y="135.96" width="24.4" height="3.74" fill="#dc6a4c"/>
<rect x="568.2" y="8.9" width="59.4" height="136.4" fill="none" stroke="#8a8a8a" stroke-width="0.6"/>
<line x1="566" y1="15.2" x2="568.2" y2="15.2" stroke="#555" stroke-width="0.5"/>
<text x="563.6" y="17.2" font-size="5.6" text-anchor="end">1.00</text>
<line x1="566" y1="46.33" x2="568.2" y2="46.33" stroke="#555" stroke-width="0.5"/>
<text x="563.6" y="48.33" font-size="5.6" text-anchor="end">0.75</text>
<line x1="566" y1="77.45" x2="568.2" y2="77.45" stroke="#555" stroke-width="0.5"/>
<text x="563.6" y="79.45" font-size="5.6" text-anchor="end">0.50</text>
<line x1="566" y1="108.57" x2="568.2" y2="108.57" stroke="#555" stroke-width="0.5"/>
<text x="563.6" y="110.57" font-size="5.6" text-anchor="end">0.25</text>
<line x1="566" y1="139.7" x2="568.2" y2="139.7" stroke="#555" stroke-width="0.5"/>
<text x="563.6" y="141.7" font-size="5.6" text-anchor="end">0</text>
<line x1="584.5" y1="145.3" x2="584.5" y2="146.9" stroke="#555" stroke-width="0.5"/>
<text x="584.5" y="155.3" font-size="6.3" text-anchor="middle">Untreated</text>
<line x1="611.4" y1="145.3" x2="611.4" y2="146.9" stroke="#555" stroke-width="0.5"/>
<text x="611.4" y="155.3" font-size="6.3" text-anchor="middle">Treated</text>
<text x="546.2" y="77" font-size="7.5" text-anchor="middle" transform="rotate(-90 546.2 77)">Percent</text>
<text x="659.3" y="57" font-size="7.5" text-anchor="middle">Senescent</text>
<text x="635.6" y="65.9" font-size="8.1">subpopulation</text>
<rect x="639" y="72.4" width="7.5" height="7.2" fill="#2b9584"/>
<rect x="639" y="84" width="7.5" height="7.2" fill="#e2bb68"/>
<rect x="639" y="95.4" width="7.5" height="7.2" fill="#dc6a4c"/>
<text x="650.5" y="78.2" font-size="6.1">Cycling</text>
<text x="650.5" y="89.8" font-size="6.1">Transitional</text>
<text x="650.5" y="101.2" font-size="6.1">Senescent</text>
<text x="-0.6" y="10" font-size="14" fill="#000" font-weight="bold" stroke="#000" stroke-width="0.35">a</text>
<text x="195.7" y="10" font-size="14" fill="#000" font-weight="bold" stroke="#000" stroke-width="0.35">b</text>
<text x="396" y="10" font-size="14" fill="#000" font-weight="bold" stroke="#000" stroke-width="0.35">c</text>
<text x="539" y="10" font-size="14" fill="#000" font-weight="bold" stroke="#000" stroke-width="0.35">d</text>
<g>
<path d="M76.6 258.1h0M96.6 267.3h0M96.1 272.6h0M110.3 282.9h0M155.8 260.5h0M100.4 266.6h0M143.4 247.2h0M94.1 293.1h0M147.4 277.9h0M160.1 218.6h0M158.5 234.5h0M135.6 273.9h0M148.5 284.3h0M97.6 257.2h0M144.2 253.3h0M152.5 253.2h0M155.7 223.4h0M119.7 259.1h0M99.4 276h0M102.6 278h0M145.4 249.2h0M78.2 290.5h0M159.5 253h0M142.2 276.6h0M157.6 275.2h0M144 249.9h0M93.6 239.8h0M79.4 285.1h0M151.9 253.6h0M146.3 253.9h0" stroke="#dc6a4c" stroke-width="2.24" stroke-linecap="round"/>
<path d="M98.4 244h0M109.8 279.1h0M98.6 253.3h0M145.5 277.8h0M111.2 264.5h0M98.6 273.2h0M57.9 279.4h0M55.2 251.8h0M113.1 254.8h0M77.6 280.5h0M104.6 269.4h0M150.3 276.9h0M65.2 252.1h0M136.1 292h0M124.9 283h0M102.6 247h0M119.1 282.8h0M112.6 247.2h0M61.8 265h0M127.3 280.6h0" stroke="#e2bb68" stroke-width="2.24" stroke-linecap="round"/>
<path d="M88 222.6h0M60 225h0M77.6 213.9h0M48.4 227h0M58.1 281.1h0M63.3 234.4h0M69.8 235.9h0M53.4 224.5h0M74.1 209h0M42.5 272.7h0" stroke="#2b9584" stroke-width="2.24" stroke-linecap="round"/>
<path d="M99.1 240.6h0M88.6 222.9h0M37.6 266.5h0M54.7 267.1h0M69.7 236.2h0M60 267.5h0M75.7 215.3h0M65 220.3h0M54.7 267.1h0M88.4 223.1h0M71.6 217.9h0M84.1 210.6h0M59.4 248.4h0M52.4 219.2h0M77.5 206.6h0M66.8 236.8h0M64.6 254.4h0M55.1 223.3h0" stroke="#2b9584" stroke-width="2.24" stroke-linecap="round"/>
<path d="M103 252.7h0M86.7 247h0M34.3 261.7h0M103.3 280.5h0M91.8 261.9h0M77 271.4h0M110.6 237h0M104.7 255.1h0M84.5 276.8h0M102.3 300.9h0M140 288.3h0M117.6 294.8h0M121.7 303.2h0M72.3 260.9h0M157.3 273.4h0M150.7 234.2h0M98.5 251.6h0M111.1 236h0M93.4 257.9h0M97 255.6h0M95.4 262.5h0M95.7 253.4h0M102.5 241.6h0M160.2 230.8h0" stroke="#e2bb68" stroke-width="2.24" stroke-linecap="round"/>
<path d="M159.6 258.1h0M84.5 247.7h0M165.9 216.2h0M158.9 240.5h0M155.6 234.7h0M152.4 233.9h0M165 211h0M146.6 275.6h0M141.4 272.9h0M150.3 254.3h0M91.1 271.1h0M143.6 245.3h0M135.1 279.5h0M147.9 277.6h0M145.1 294.1h0M125.3 308.2h0M104.6 238.8h0M88.6 255.3h0" stroke="#dc6a4c" stroke-width="2.24" stroke-linecap="round"/>
<path d="M134.9 274h0M135 303.9h0M65.7 285.4h0M94.6 301.6h0M137.7 303.9h0M150.4 255.4h0M113.1 277.7h0M150.5 254.6h0M150.2 278.4h0M154.3 269.8h0M155.1 264.3h0M153.7 255.8h0M114.1 252.1h0M86.8 269.3h0M113.2 254.2h0M141.1 278h0M102.6 232.2h0M147.3 266.3h0M95.5 292.4h0M76.3 295.8h0M140.9 260.8h0M139.4 278.7h0M114.5 244.3h0M147.4 263.8h0M117.2 276.5h0" stroke="#dc6a4c" stroke-width="2.24" stroke-linecap="round"/>
<path d="M83.9 215.8h0M86.4 217.1h0M58 278.1h0M68.7 232.9h0M60.7 225.3h0M68.8 236.4h0M73 232.3h0M75.1 208.3h0M43.5 258.3h0M58.8 227.3h0M67.8 236.5h0M48.2 278h0" stroke="#2b9584" stroke-width="2.24" stroke-linecap="round"/>
<path d="M147.2 281.5h0M113.8 270.4h0M34.7 259.1h0M105.9 309.1h0M140.1 275.4h0M65.3 256.6h0M148.2 277.7h0M107.9 235.6h0M107.4 259.8h0M34.7 254.7h0M57.9 287.8h0M153.3 283.7h0M54.6 277.9h0M87.9 242.5h0M59.6 257.1h0M71.9 280h0M94.9 241.9h0M114.9 242.9h0M122.9 294.5h0M31.9 257.9h0M143.9 259.1h0M37.4 254.7h0M120.5 301.6h0" stroke="#e2bb68" stroke-width="2.24" stroke-linecap="round"/>
<path d="M148.1 297.4h0M74.4 265.3h0M45.7 268.7h0M76.8 233.2h0M132.5 306.9h0M81.5 210.4h0M45.7 230.4h0M74.2 234.8h0M68.2 232.2h0M44.8 268.2h0M64.6 232.7h0" stroke="#2b9584" stroke-width="2.24" stroke-linecap="round"/>
<path d="M107.8 293.2h0M115.3 241.8h0M144.6 266.6h0M152.7 264.3h0M102.6 278.2h0M152.4 241.8h0M135.6 272.5h0M133.7 273.8h0M60.5 288.1h0M104 233.7h0M138.2 277h0M135.2 276.7h0M145.1 266.1h0M107.2 283.5h0M142.1 273.3h0M146.2 293.3h0M65.1 291.3h0M153.2 240.6h0M143.3 285.2h0M93.3 273.2h0M149.1 276.6h0M151.5 270.1h0M76.4 285.5h0M106.8 302.9h0M149.4 238.6h0M140.4 270h0M150.5 258.9h0M154.8 231.7h0M154.4 261.4h0M113 307.3h0" stroke="#dc6a4c" stroke-width="2.24" stroke-linecap="round"/>
<path d="M88.5 240h0M110.4 252.1h0M118.7 276.4h0M149 296h0M78.2 287h0M83.2 256.1h0M82.8 267.5h0M107.6 253.2h0M82.5 281.1h0M98.5 268.9h0M45.6 275.4h0M58.6 280.2h0M141.1 281.2h0M108.1 260.2h0M107.3 249.1h0M82.4 255.5h0M43.6 250.8h0M71.4 283.4h0M135.9 268.6h0" stroke="#e2bb68" stroke-width="2.24" stroke-linecap="round"/>
<path d="M56.2 286.3h0M105.5 233.5h0M148.9 262.3h0M107.4 302.3h0M61.1 264.5h0M82 273.6h0M99.9 238.1h0M64.3 251.2h0M128.9 300.3h0M56.7 274.9h0M69.2 266.4h0M83 262.6h0M65.1 269.8h0M41.2 254.1h0M105.1 256.1h0M69.7 266.6h0M55.8 284.7h0M82.9 267.1h0" stroke="#e2bb68" stroke-width="2.24" stroke-linecap="round"/>
<path d="M108.7 259.2h0M93 237.6h0M136.6 277.4h0M107.7 239.3h0M141.1 304.6h0M158.2 224.4h0M88.3 296.6h0M149.9 267.9h0M158.1 251.6h0M75.3 281h0M151.4 275.9h0M138.9 272.9h0M138.1 272.6h0M108.1 238.5h0M101.3 240.7h0M142.7 282.9h0M142.3 254.4h0M108.9 276.5h0M157.3 225.3h0M100.9 251.9h0M75.9 248h0M89.5 236.8h0M144.7 261.8h0M92.3 262.7h0M156.7 263.4h0M72.1 287h0M87.5 241.3h0M139.2 280.4h0M90.6 299.2h0M145.1 290.6h0M136.7 299.1h0M105.3 247.2h0M106.6 251.9h0M140.8 281.6h0M159.5 229.7h0" stroke="#dc6a4c" stroke-width="2.24" stroke-linecap="round"/>
<path d="M52.5 223.3h0M59.8 233.4h0M54.7 223.2h0M76.8 207.7h0M66.5 288.7h0M54.3 250.6h0M78.1 216.8h0" stroke="#2b9584" stroke-width="2.24" stroke-linecap="round"/>
<path d="M55.5 273.6h0M49.7 273.5h0M43.8 232.2h0M43.4 232.4h0M74.7 211.5h0M75.2 218.7h0M81.8 211.6h0M47.8 281.1h0M75.5 217h0M62.7 281.7h0M52.6 266.7h0M75.4 231.5h0M120.2 237.2h0" stroke="#2b9584" stroke-width="2.24" stroke-linecap="round"/>
<path d="M70.6 264.6h0M98.9 269.6h0M94.3 238.5h0M113.5 307.6h0M93.7 261.4h0M150.8 282.3h0M80.2 282h0M153 275.5h0M148.7 284.5h0M138.7 272.4h0M121 263.1h0M71.2 264.8h0M91.5 274.5h0M147.8 242.5h0M158.6 226.3h0M154.5 253.8h0M96 232.4h0M154.9 264h0M141.6 258.2h0M112.2 243.6h0M163.4 221.1h0M105.7 238h0M137.9 282.1h0M122.3 259.1h0" stroke="#dc6a4c" stroke-width="2.24" stroke-linecap="round"/>
<path d="M41 252.3h0M60.6 256.1h0M97.5 268.6h0M52.7 250.3h0M83.9 289.1h0M32.7 256h0M144.2 296.5h0M90.3 273.4h0M102.9 291.6h0M60.1 261h0M53.2 259.7h0M34 261.1h0M73 298.8h0M109.1 309.5h0M109.5 292.2h0M78.2 289.1h0M121.6 279.8h0M141.6 301.6h0M110.9 257.9h0M37.1 263.5h0M156 260.4h0M162.1 232.1h0M63.3 276h0" stroke="#e2bb68" stroke-width="2.24" stroke-linecap="round"/>
<path d="M145 250.8h0M162 214.3h0M159.2 249.9h0M114.8 261.5h0M106.1 270.5h0M141.4 276.2h0M144.2 266h0M157.6 243.2h0M92.3 263.2h0M153.3 244.9h0M88.3 252.6h0M90.5 263.5h0M138.7 265.6h0M149.1 285.5h0M157.2 279.2h0M93.9 296.9h0M146.9 268.6h0M145 296h0M138.8 254.7h0M104.6 289.2h0M163.1 224.1h0M118.8 277.4h0M158.9 218.2h0M153.2 267.1h0" stroke="#dc6a4c" stroke-width="2.24" stroke-linecap="round"/>
<path d="M103.9 276.6h0M85.2 248h0M134.1 274.1h0M86.8 261.4h0M94.2 232.1h0M54.5 251.3h0M110.1 257.6h0M61.5 290.5h0M101.2 234.8h0M72 254.1h0M42.1 254.9h0M95.4 251.9h0M91.9 239.7h0M95.5 254.1h0M76 264.7h0M54 273.2h0M97.9 234.2h0M69.2 266.2h0M111.1 275.6h0M58.2 287.6h0M50 262.5h0M93.3 254h0" stroke="#e2bb68" stroke-width="2.24" stroke-linecap="round"/>
<path d="M44.4 263.5h0M59.3 231.5h0M77.9 208h0M140.8 284h0M73.2 215.8h0M66.5 286.7h0M84.7 217.9h0M46.7 269.9h0M109.7 289.4h0M56.4 224.8h0M43.8 259.7h0M52.8 265.1h0M53.9 219.5h0M48.9 228.1h0" stroke="#2b9584" stroke-width="2.24" stroke-linecap="round"/>
<path d="M151.5 280.1h0M118.2 307.8h0M165.3 216.3h0M139.5 283.6h0M88.2 247.8h0M144.1 259.8h0M164.2 216.4h0M139.6 264.3h0M102.9 232.7h0M163.2 229.1h0M104.2 252.2h0M87.4 236.1h0M117 273.6h0M117.5 263.1h0M134.8 275.2h0M153.9 245.4h0M119.5 258.1h0M158.7 266h0M136 271.8h0M157.3 222.3h0M155.5 280.7h0M148.5 277.7h0M114.5 261.7h0M137.6 274.3h0" stroke="#dc6a4c" stroke-width="2.24" stroke-linecap="round"/>
<path d="M75.9 254.4h0M128.6 292h0M86.3 235.9h0M54.9 254.8h0M92.3 240.5h0M156 236.1h0M86 268.9h0M49.5 269.7h0M149.7 238.1h0M67.6 271.3h0M68.4 264.4h0M102 298h0M42.7 264.5h0M45.4 260.1h0M67.9 251.7h0M69.4 254.7h0M79.5 284.7h0M83.2 271.5h0M107.8 247.7h0" stroke="#e2bb68" stroke-width="2.24" stroke-linecap="round"/>
<path d="M59.2 249.2h0M62.5 227.1h0M66 252h0M58.4 240.9h0M83.5 219.5h0M73 276.4h0M38.8 255.4h0M52.5 266.8h0M69.3 232h0M80.3 214.9h0M52 271.9h0M55.1 265.7h0M55.7 265.7h0M77.7 208.4h0M59.8 257h0M60 223.4h0M70.3 234.8h0" stroke="#2b9584" stroke-width="2.24" stroke-linecap="round"/>
<path d="M149.8 244.3h0M85.5 292.5h0M153 280.2h0M107.1 275.6h0M147.5 269.9h0M83.6 269.2h0M97.1 232.6h0M104.9 237.6h0M122.6 260.7h0M122.8 263.8h0M139.9 295.3h0M158.6 223.4h0M149.9 284.4h0M98.9 284.3h0M149.6 250.5h0M102.9 275.2h0M133.4 274.2h0M79.4 292.8h0M133.3 304.5h0M78.3 243h0M164.8 207.9h0M39.4 258.4h0M84.4 278.8h0M82.6 276.5h0M105.2 285h0M151.7 241.5h0M105.5 246.6h0M99.3 284.9h0" stroke="#dc6a4c" stroke-width="2.24" stroke-linecap="round"/>
<path d="M65.3 229.8h0M63 219.5h0M60.6 228.9h0M60.9 287.7h0M68.6 229.7h0M45.5 258.4h0M66.9 251.1h0M46.6 228.4h0M47.3 229.8h0M78 262h0M69.8 280.6h0M56.5 249.7h0M46.1 258.8h0M43.8 230.1h0M81 210.9h0M80.3 235h0" stroke="#2b9584" stroke-width="2.24" stroke-linecap="round"/>
<path d="M99.5 240.6h0M34.1 256.8h0M94.9 263.2h0M95.3 261.1h0M103.2 271.4h0M96.9 243.5h0M114.5 246.1h0M82.2 261.1h0M146 292.5h0M108.8 291.8h0M130 280.6h0M77.5 257h0M47.2 260.4h0M99.5 289.8h0M62.1 265.6h0M73.4 297.3h0" stroke="#e2bb68" stroke-width="2.24" stroke-linecap="round"/>
<path d="M160 214.4h0M141.5 289.9h0M100.8 246.5h0M158.6 243.7h0M50.6 264.2h0M106.9 283.8h0M95.5 301.3h0M139.2 260.5h0M153.2 285.6h0M104.9 306.8h0M162.5 214.5h0M133.9 272.9h0M118 271.6h0M149.3 270.9h0M88.6 262.4h0M159.3 266.1h0M106.3 285.4h0M154.1 234.9h0M142.4 248.9h0M100.3 282.7h0M156.5 259.1h0M137 261.6h0M142.1 252.5h0M124.2 279.4h0M135.6 267.4h0M150.1 284.2h0M104.1 294.4h0M138.6 271.2h0M99.3 240.9h0M101.7 267.1h0M92.5 236.3h0" stroke="#dc6a4c" stroke-width="2.24" stroke-linecap="round"/>
<path d="M101.8 243.2h0M32 256h0M111.3 255.3h0M88.3 263.2h0M95.5 272.4h0M153.7 244.3h0M145.5 278.4h0M78.7 298h0M43.1 260.2h0M63.7 281.4h0M102.2 286.1h0M86.7 236.9h0M62.9 287.9h0M101 256.1h0M95.2 247.5h0" stroke="#e2bb68" stroke-width="2.24" stroke-linecap="round"/>
<path d="M58.8 229.4h0M63.2 285.1h0M76.4 221.3h0M66.7 287.6h0M46.3 257.8h0M84.5 215.5h0M49.6 280.4h0M63.5 241.7h0M49 227.9h0M55 220.4h0M73.5 220.9h0M66.9 261h0M48.2 241.7h0M66.3 231.4h0" stroke="#2b9584" stroke-width="2.24" stroke-linecap="round"/>
<path d="M100.5 248.1h0M72.4 280.5h0M146.5 284.9h0M123.5 262.7h0M69.6 267.1h0M116.8 301.2h0M58.4 265h0M60.1 269.2h0M87.7 238.8h0M132.7 287.8h0M127.4 297.8h0M101.1 248.8h0M75.2 255.4h0M85.5 241h0M140.5 290.9h0M41.3 254h0M67.3 250.7h0M149.9 243.7h0M106.7 276.3h0M156.5 260.6h0M95 255.6h0M87.3 275.4h0M104.5 306h0M141.7 278.7h0" stroke="#e2bb68" stroke-width="2.24" stroke-linecap="round"/>
<path d="M48 240.5h0M59 279.5h0M73.6 275.4h0M59 223.6h0M97.4 295h0M104.6 264.9h0M55.9 219.8h0M73.2 218.2h0M55.1 278.6h0M54.8 264.3h0M58.5 256.6h0M64.6 229.9h0M72.4 216.6h0M72.5 213.2h0M75.2 234.2h0" stroke="#2b9584" stroke-width="2.24" stroke-linecap="round"/>
<path d="M152.4 248.1h0M110.7 255.8h0M123.9 279.8h0M148.9 246.8h0M101.7 295.8h0M53.7 281.8h0M154.9 265.5h0M104.2 282h0M95.5 259.5h0M157.7 261.4h0M80.6 246.2h0M159.6 253.4h0M105.2 286.5h0M124.6 300.4h0M105.8 247.6h0M157.6 236.5h0M102.8 242.3h0M160.1 232.1h0M128 284h0M119.1 299.7h0M150 236.5h0" stroke="#dc6a4c" stroke-width="2.24" stroke-linecap="round"/>
<path d="M135.5 276.5h0M126.7 298.9h0M109.1 239.2h0M154.9 273.8h0M154.5 263.7h0M119.5 302.6h0M89 254.6h0M151.3 283.9h0M105.6 308.4h0M142.4 282.2h0M146.8 247.2h0M122 310.4h0M128.7 303.8h0M145 254.7h0M153.9 282.5h0M62.6 258.8h0M79.9 248.8h0M148.8 263.6h0M148.8 240h0M165.6 215.3h0M140.7 281.4h0M139.6 282.8h0M75.2 278.3h0M154.3 274.9h0M82.8 246.8h0M96.4 260h0M144.6 255.7h0M135.9 284.7h0" stroke="#dc6a4c" stroke-width="2.24" stroke-linecap="round"/>
<path d="M154.4 224.6h0M37.1 263.1h0M60.9 278h0M119.7 260.1h0M110.8 293.7h0M83.6 253.6h0M57.2 287.7h0M109.8 277.8h0M109 298.1h0M120.4 305.3h0M61.7 274.9h0M123.6 300.3h0M41.9 274.2h0M132.6 278h0M146.5 271h0M110.2 241.3h0M139.1 295.1h0M93.5 257h0M84.5 248.5h0M90.7 240.1h0" stroke="#e2bb68" stroke-width="2.24" stroke-linecap="round"/>
<path d="M53.8 224h0M70.5 264h0M62.2 276.6h0M44.3 257.4h0M82.1 219.9h0M71.8 235h0M65.3 270.3h0M60.2 223.3h0M49.8 281h0M59.6 222.7h0M56.2 266.1h0M52.2 221.8h0" stroke="#2b9584" stroke-width="2.24" stroke-linecap="round"/>
<path d="M60.2 225.6h0M49.9 264.7h0M95.4 292.1h0M85.2 213.8h0M58.6 278.7h0M41 259.6h0M84.5 213.9h0M79.4 261.3h0M52.8 258.5h0M52.4 263.8h0M47.1 272.3h0M75.7 209.7h0M64.1 255.9h0M81 219.4h0M72.2 235.7h0M50.5 239.6h0M50.7 240.4h0" stroke="#2b9584" stroke-width="2.24" stroke-linecap="round"/>
<path d="M91.3 299.2h0M156.5 255.9h0M98.6 232.7h0M153.3 249.1h0M104.9 232.6h0M87.8 259.9h0M131 279.5h0M86.8 292.2h0M153.4 264.3h0M158.9 249.9h0M99.9 255h0M141.4 288h0M103.3 253.9h0M96.9 237.2h0M154.7 235.7h0M139.3 283.3h0M135 273.6h0M153.9 265.9h0M100.3 275.4h0M141.3 298.4h0M88.6 277.3h0M110.3 280.3h0M86.6 241.2h0M140.6 276.5h0M154.3 270.6h0M154.1 236.4h0M88.8 239.7h0" stroke="#dc6a4c" stroke-width="2.24" stroke-linecap="round"/>
<path d="M45.6 269.7h0M90.3 278.3h0M106.7 274.9h0M51.3 262h0M80.5 256.4h0M74.3 280h0M88.5 244.4h0M81.3 253.7h0M160.7 223.9h0M122.8 304.1h0M82.2 301.3h0M78.5 245.5h0M54.2 276.8h0M57.3 287.4h0M115.6 280.9h0M65.7 285h0" stroke="#e2bb68" stroke-width="2.24" stroke-linecap="round"/>
<path d="M136.5 288.4h0M142.3 296.5h0M66 259.8h0M56.1 278.2h0M101.5 278.3h0M125 285h0M107.1 246.9h0M64.8 260.6h0M55.4 252.4h0M105.8 273.7h0M140.8 252.8h0M77.7 245.5h0M92.9 259.5h0M46.5 277.3h0" stroke="#e2bb68" stroke-width="2.24" stroke-linecap="round"/>
<path d="M57.7 229.1h0M59.8 227.7h0M50.7 264.4h0M61.4 255.6h0M64.5 271.6h0M45.7 228.7h0M65.1 217.9h0M62.4 265.1h0M83.7 220.3h0M59.1 277.1h0M58.5 223.2h0M72.2 213.7h0M52.6 264.5h0" stroke="#2b9584" stroke-width="2.24" stroke-linecap="round"/>
<path d="M101.6 290.8h0M81.4 272.1h0M88.2 257.1h0M149 238.9h0M103 250.3h0M98.3 278.3h0M150.6 282h0M121.4 278.5h0M108.1 279h0M143.5 275.7h0M80.8 277h0M154.7 226.6h0M144.7 275.5h0M146.1 250h0M140 286.2h0M85.7 236.7h0M153.1 276.6h0M94.2 235.1h0M110.1 261.8h0M136.7 296h0M123.4 297.5h0M138.4 279.1h0M101 245.9h0M97.7 257.8h0M166.1 209.4h0M107.3 262.7h0M163.7 225.8h0M118 291.8h0M161.5 215.6h0M83.8 269.2h0M96 240.3h0M95.3 233.3h0M145.2 245.7h0" stroke="#dc6a4c" stroke-width="2.24" stroke-linecap="round"/>
<path d="M53.3 223.8h0M57.5 260.5h0M53.3 220.5h0M47.1 232.1h0M48.7 226.2h0M65.4 217.2h0M63.9 218.3h0M59.1 287.4h0M51 270.7h0M75.9 218.2h0M59.5 278.7h0M75.1 237h0M59.9 232.2h0M68.6 280.4h0M86.9 224.6h0M74.7 210.7h0M61.8 219.5h0M120.4 236.9h0" stroke="#2b9584" stroke-width="2.24" stroke-linecap="round"/>
<path d="M112.8 247.7h0M156.8 225.3h0M86.3 236.5h0M97.5 273.6h0M111.7 297.6h0M142.4 273.7h0M142.2 289.1h0M118.3 263.7h0M100.1 302.4h0M33.7 255.3h0M70.4 253.2h0M97.9 303.3h0" stroke="#e2bb68" stroke-width="2.24" stroke-linecap="round"/>
<path d="M72.8 293.3h0M89.2 238.9h0M146.8 238.4h0M120.2 237.8h0M137.5 289.1h0M154.7 232h0M43 261.4h0M156.6 234.7h0M152.8 228.9h0M105.3 287.6h0M128.7 303.1h0M159.6 214.3h0M145.8 272.1h0M148.6 241.9h0M118.6 288.6h0M96.9 246.4h0M142.3 262.6h0M117.5 284.4h0M158.2 236.8h0M145.1 292.6h0M154.1 262.4h0M157.1 257h0M96.1 270.8h0M157.2 266.5h0M156.4 260.2h0M136.9 295.6h0M96.1 307.2h0M79.9 265.6h0M38.5 269.1h0M97.7 268.2h0" stroke="#dc6a4c" stroke-width="2.24" stroke-linecap="round"/>
<path d="M51 268.9h0M75.7 235.9h0M71.7 217.5h0M74.5 215.3h0M64.7 255h0M54.6 238.3h0M63.1 217.9h0M71.1 216.2h0M75.9 234.2h0M85.1 215h0M52.7 282.5h0M76.2 235.5h0M78.3 210.8h0M55.8 277.7h0" stroke="#2b9584" stroke-width="2.24" stroke-linecap="round"/>
<path d="M110.2 282.4h0M106 271.2h0M79.6 250.8h0M153.4 279.6h0M86.7 253.3h0M100.7 236.5h0M108.8 260.8h0M102 240.8h0M60.9 277.9h0M99.8 257.9h0M74.4 213.6h0M105.2 273.7h0M96.7 304.2h0M82.7 250.7h0" stroke="#e2bb68" stroke-width="2.24" stroke-linecap="round"/>
<path d="M84.4 264.8h0M138.8 293.3h0M127.5 280.7h0M121.7 279.6h0M95 241.5h0M149.4 285.4h0M162.2 218.8h0M145.2 247.2h0M100.2 252.9h0M104.9 308.6h0M156.8 278.8h0M128.3 304.2h0M145.3 259.5h0M125.4 304.3h0M154.5 234.7h0M103.8 265.6h0M166.9 204.6h0M101.3 269.2h0M77.4 281.6h0M156.1 266.1h0M86.5 293.2h0M94.2 236.5h0M134.7 304.3h0M151.6 254.3h0M58.5 242.7h0M132.1 289.8h0M151.8 280.2h0M158.4 243h0M128.7 306.8h0M149.1 237.8h0M147.3 284.3h0M159.3 242.5h0" stroke="#dc6a4c" stroke-width="2.24" stroke-linecap="round"/>
<path d="M32.9 256.7h0M76.5 264.3h0M43.2 259.6h0M93.1 269.5h0M103.2 243.2h0M61.9 252.6h0M130.2 301.6h0M114.7 298.2h0M61.4 256.1h0M52 262.5h0M88 263.2h0M112.3 251.7h0M36.2 256h0M110 240.8h0M88.9 264.3h0M157.6 234.9h0M99.4 289.8h0" stroke="#e2bb68" stroke-width="2.24" stroke-linecap="round"/>
<path d="M88.8 239.8h0M90.5 273.4h0M121.2 308.3h0M106.3 251.1h0M160.7 222.6h0M152.4 281.7h0M143 248.9h0M146.8 263.9h0M77.9 284.4h0M162.4 213.2h0M147.7 284.8h0M88.2 279.3h0M105.6 278.3h0M141 268.7h0M100.8 252.1h0M91.2 294.4h0M102.9 269.3h0M157.9 223.6h0M150.6 261.8h0M160.4 210.9h0M98.3 241.4h0M125.3 283.3h0M102.8 282h0M153.5 269.5h0M86.2 299.8h0M151.2 252.6h0M64.5 290.1h0" stroke="#dc6a4c" stroke-width="2.24" stroke-linecap="round"/>
<path d="M43.9 266.9h0M57.2 278.6h0M83.9 212.9h0M45.2 260.4h0M34.5 256.1h0M58.6 256.2h0M62.4 258.7h0M72 217.5h0M60.4 257.9h0M52.7 246.8h0M108 234.6h0M72.6 218h0M45.2 261.1h0M58.6 265.3h0M85.6 219.2h0M35.5 257.6h0" stroke="#2b9584" stroke-width="2.24" stroke-linecap="round"/>
<path d="M144.2 262.2h0M142.8 272.2h0M85.8 285.1h0M144.3 256.2h0M136 264.5h0M95 248.7h0M148.6 241h0M148.1 286.3h0M129.9 282.6h0M126.5 273h0M152.9 280.3h0M164.1 205h0M104.8 235.7h0M82.1 301.8h0M155.3 232.8h0M159.6 225.8h0M160.4 240.9h0" stroke="#dc6a4c" stroke-width="2.24" stroke-linecap="round"/>
<path d="M87.9 246.8h0M66.1 265.6h0M131.4 271.1h0M98.5 237.6h0M124.9 274.6h0M96.3 262.8h0M57.4 250.2h0M80.8 272.9h0M109.4 253.4h0M97.8 260.7h0M63.5 287.3h0M51.1 263.2h0M59.7 259.6h0M103.7 243.5h0M158.3 221h0M76.9 248.2h0M142.7 293.7h0M74.9 254.5h0M127.2 279.5h0M79.3 278.1h0M98.6 265.9h0M133.5 307.6h0M139.4 277.1h0" stroke="#e2bb68" stroke-width="2.24" stroke-linecap="round"/>
<path d="M76.6 220h0M62.3 254h0M74.1 215.6h0M69.3 218.4h0M45.3 234.5h0M71.8 215.4h0M64.4 255.7h0M59.9 221.5h0M81.3 215h0M71.9 230.3h0M58.8 226.4h0M51.7 262.6h0M135.7 305h0M45.7 252.2h0M43.2 266.5h0M76.2 264.8h0M64.1 234.9h0M84.9 213h0M63.8 244.9h0M53.9 262.1h0" stroke="#2b9584" stroke-width="2.24" stroke-linecap="round"/>
<path d="M51.7 220.6h0M63.4 278.4h0M150.9 241.7h0M72.1 236.4h0M87.4 223.3h0M43.7 232.7h0M61.7 257.2h0M50.6 253.2h0M70.8 236h0M83.8 260h0M82.7 215.9h0" stroke="#2b9584" stroke-width="2.24" stroke-linecap="round"/>
<path d="M158 226.7h0M92.8 234.5h0M153 264.7h0M115.1 275h0M106.8 242.3h0M138 267.2h0M118 294.4h0M74.3 291.5h0M59.6 284.5h0M159.1 261.7h0M149.3 265.6h0M99.4 248.1h0M140.6 280.7h0M137.8 270.1h0M114.6 243h0M139.6 268.3h0M153.5 237.5h0M158.5 239h0M152.7 259.5h0M129.7 283.8h0M136.9 262.6h0M115.8 247.8h0" stroke="#dc6a4c" stroke-width="2.24" stroke-linecap="round"/>
<path d="M56.1 280.9h0M144.8 278.2h0M83.5 282.6h0M145.5 288.3h0M93.9 268.6h0M86.3 272.1h0M95.7 303.4h0M140.8 299.2h0M106.2 242.8h0M101.4 265.5h0M80.1 244.8h0M101.4 247.3h0M65.8 282.7h0M56 249.7h0M96.8 276.1h0M74.6 256.6h0M113.4 279.8h0M111.6 252.4h0M59.3 279.7h0M133.3 284.8h0M100.1 256.6h0M68.7 279.4h0M85.6 282.8h0M68.7 284h0M71.4 276.8h0M39.3 269.2h0" stroke="#e2bb68" stroke-width="2.24" stroke-linecap="round"/>
</g>
<rect x="54.6" y="241.6" width="23" height="7.7" fill="#1f8a7a" stroke="#3a2a20" stroke-width="0.45" rx="0.9"/>
<text x="66.1" y="247.6" font-size="6.1" text-anchor="middle">Cycling</text>
<rect x="67.3" y="270.5" width="34.3" height="8.1" fill="#e6c060" stroke="#3a2a20" stroke-width="0.45" rx="0.9"/>
<text x="84.45" y="276.7" font-size="6.2" text-anchor="middle">Transitional</text>
<rect x="111" y="261.1" width="32.2" height="8.3" fill="#d8654a" stroke="#3a2a20" stroke-width="0.45" rx="0.9"/>
<text x="127.1" y="267.4" font-size="6.2" text-anchor="middle">Senescent</text>
<path d="M17.5 300 L17.5 323.6 L41 323.6" fill="none" stroke="#3b4a6b" stroke-width="0.75"/>
<path d="M16.1 302 L17.5 299 L18.9 302 Z" fill="#3b4a6b"/>
<path d="M39.5 322.2 L42.3 323.6 L39.5 325 Z" fill="#3b4a6b"/>
<text x="45.5" y="326.6" font-size="6.6">PHATE<tspan font-size="4" dy="1.2">1</tspan></text>
<text x="20.9" y="295.6" font-size="6.6" transform="rotate(-90 20.9 295.6)">PHATE<tspan font-size="4" dy="1.2">2</tspan></text>
<g>
<path d="M225 223.8h0M224.8 223.9h0M233 219.5h0M234.1 219.4h0M229.2 212.8h0M228.4 212.9h0M218.9 213.6h0M219.2 214.2h0M237.2 230.3h0M236.2 231h0M237.4 231.5h0M237.9 230.5h0M254.2 224.6h0M255.4 225.6h0M233.1 222.3h0M233.5 222.6h0M232.9 225.4h0M249.6 220.5h0M249.7 219.5h0M231.4 234.6h0M230.6 234.1h0M250.4 229.9h0M249.2 229.8h0M251.1 229.9h0M250.9 230.7h0M237.7 225.8h0M237.8 226.1h0M255.8 211.6h0M255.8 212h0M255.2 216.5h0M255.1 216h0M246.7 228.7h0M248 229.8h0M225.3 210.1h0M226.2 210.6h0M251.5 231.9h0M251 231.3h0M232.7 223.5h0M232.2 222.6h0M249.9 222.3h0M250.8 222.1h0M253 222.3h0M254.1 223h0M254.1 213.1h0M252.8 212.5h0M240.9 224.1h0M241.9 224.1h0M218.1 230.4h0M219.3 230.2h0M214.6 214.2h0M213.5 214.5h0M217.1 221.9h0M217.8 221.4h0M238.4 222.8h0M239.6 223.4h0M225.3 230.7h0M224.4 230.2h0M234.6 230h0M250.3 221.1h0M251.1 220.4h0M225.6 233.8h0M225.7 233.7h0M218.1 230.9h0M217.2 231.2h0M220.1 216.5h0M219.1 216.3h0M222.5 216.9h0M221.7 216.4h0M252.1 229.6h0M253.4 230.3h0M255.5 222.2h0M255 223.1h0M249.2 229.5h0M248.4 229.3h0M216.4 213.4h0M217.3 213.8h0M220.8 222h0M219.7 223h0M246.9 234.3h0M246.2 233.8h0M242.8 231.5h0M243.5 231.1h0M224 208.7h0M223.5 207.7h0M234.6 220.4h0M233.5 220.6h0M240.7 231.4h0M240 231.7h0M238.3 220.5h0M237.9 220.4h0M219.5 226h0M220.7 225.9h0M212.4 228.3h0M212.6 229.1h0M254.8 229.1h0M254 228.4h0M243.7 230.8h0M244.7 231.5h0M249.8 221.3h0M249.2 220.6h0M231.2 218.2h0M231.9 219.1h0M226 232.2h0M225.2 233.1h0M252.7 222.4h0M253.7 222.7h0M250.7 222.5h0M250.5 221.7h0M233.3 218.4h0M232.1 219.4h0M234.7 222.1h0M234 222.6h0M228.7 220.4h0M228.1 221.1h0M209.4 224.9h0M209.6 224.5h0M229.4 212.9h0M228.6 213.4h0M210.6 226.4h0M209.5 225.8h0M255.6 223.8h0M255.7 224.6h0M216.9 226.6h0M217.2 226.1h0M227.9 220.6h0M229 220h0M257.9 210.9h0M256.7 210.4h0M234.8 230.7h0M234.7 229.8h0M255.3 218.4h0M254.5 218.1h0M254.1 216.6h0M254.3 215.8h0M252.9 216.3h0M252.5 217.2h0M230.6 225h0M231.8 225.3h0M225.1 227.9h0M225.6 228.1h0M237.5 217.3h0M236.6 216.3h0M257.6 209.3h0M256.3 210.1h0M222.4 217.1h0M222.9 218.1h0M218.9 226.7h0M217.6 227h0M235.3 222.9h0M235.3 223.4h0M224.6 210.6h0M224.2 211.7h0M227.9 229.6h0M226.8 229.7h0M220.7 212.1h0M221.3 213h0M234.5 237h0M235.1 237.5h0M216.9 226.6h0M217.7 227.5h0M229.3 213h0M229 213.4h0M250.8 229.2h0M251.8 230h0M248.8 228.4h0M248.6 229h0M223.1 211.4h0M224.1 211.6h0M252.1 222.6h0M252.5 222.4h0M248.3 233.2h0M248.5 233.4h0M227.7 209.1h0M226.7 209.4h0M240.1 235.1h0M241.4 236h0M241.6 237.8h0M242.2 237.5h0M223.4 224.7h0M223.2 225.4h0M254.7 228.5h0M253.6 229.1h0M249.7 219.9h0M248.4 220.1h0M246.6 230.4h0M246.5 229.8h0M252.3 216.4h0M252.8 216.4h0M233.1 221.8h0M233.4 222.7h0M251.3 229.9h0M250.6 228.8h0M237.7 217h0M237.2 217.4h0M231.2 223.8h0M230.4 223h0M218.6 220.8h0M219.7 221.2h0M216 211.8h0M215.9 212.6h0M232.5 223h0M232.1 223.4h0M231.9 225.2h0M231.1 225h0M232 222.4h0M232.8 223.2h0M250.2 235h0M251.2 234.7h0M225.3 207.9h0M225.5 207.5h0M234.5 218.7h0M233.6 218.7h0M221.4 217.2h0M222.2 218h0M242.9 239.3h0M243.5 240.3h0M235.3 217.9h0M234.7 217.2h0M255.8 215.4h0M255.7 214.9h0M229.4 222.9h0M228.7 222.8h0M220.6 222.7h0M220.9 222.7h0M217 213.1h0M216.6 213.8h0M246.5 228.7h0M247.7 228.6h0M246.5 238h0M245.4 236.9h0M221 232.2h0M221.9 231.2h0M231.6 237.3h0M232.1 237.4h0M247.5 238h0M247 238.6h0M252.2 223h0M250.9 222.2h0M238.4 229.9h0M238.3 228.8h0M252.2 222.7h0M253.1 222.2h0M227.7 210.8h0M226.7 209.8h0M252.1 230.1h0M252.4 230h0M251 231.1h0M251.3 231.4h0M238.7 227.6h0M239.5 228.6h0M209.5 224.1h0M210 223.5h0M235.8 239.6h0M235.7 238.9h0M253.6 227.4h0M252.4 227.4h0M248.4 229.2h0M248.9 228.5h0M220.8 223.4h0M220.2 223h0M228.6 211.2h0M229.1 211.2h0M253.9 225.7h0M254.2 226.3h0M253.4 223.1h0M253.1 223.7h0M218.1 230h0M219.2 229.1h0M251.4 229.9h0M252.5 230.3h0M236.5 216.9h0M235.6 216.8h0M236.3 224.3h0M236.6 225.2h0M209.5 222.8h0M209.2 222.9h0M222.1 216h0M223.1 216.7h0M219.1 213.7h0M220.3 213.6h0M238.8 222h0M239.2 221.3h0M228.7 227.3h0M229.3 228h0M218.1 233h0M218.4 233.5h0M253.3 231.7h0M252.5 232.6h0M238.5 222.6h0M239.7 223.6h0M222.1 217.1h0M222.2 217.7h0M216.9 229.9h0M216.4 230.8h0M229.1 219h0M230.1 218.7h0M218.7 223.5h0M217.6 223.4h0M248.7 230h0M248.9 230.5h0M223.7 215.8h0M223.6 214.8h0M234.6 215.8h0M235.4 214.9h0M251 226.4h0M251.8 225.6h0M223.2 230.6h0M222.8 231.2h0M231.9 234.4h0M231 233.7h0M224.9 235.5h0M224.9 235.9h0M231.7 218.8h0M232.6 219.2h0M224.4 208.4h0M225.6 208.4h0M239.1 219.1h0M240.3 218.2h0M242 235.1h0M241.3 235.1h0M248.7 224.7h0M248.1 225.2h0M212.8 223.9h0M213.1 223.9h0M208.5 223.7h0M209.4 223.9h0M249.8 224.1h0M249.3 223.9h0M218.4 214.3h0M219.3 215.2h0M221.8 217.1h0M221 217.9h0M214.5 230h0M215.7 230h0M248.1 230.2h0M248.3 229.5h0M238.9 219.5h0M239 219.6h0M251.1 225.6h0M251.3 224.6h0M210.5 222.8h0M211.7 222.8h0M241.2 237.3h0M240.9 237.9h0M239.9 229.5h0M240.1 229.5h0M251.3 236h0M251.8 235h0M236.5 234.7h0M236.6 234.5h0M239.2 218.8h0M240.4 219.7h0M250.1 226.4h0M249.5 226.4h0M229.4 218.2h0M228.4 218.1h0M224.2 226h0M225 226.9h0M237.4 222h0M237.4 221.6h0M213.6 227.1h0M212.8 227.3h0M253 225.7h0M254.1 224.9h0M234.6 230h0M235.3 229h0M252.9 218.8h0M252.1 218.2h0M240.5 229.5h0M241 229.1h0M246.7 228.3h0M246.3 228.5h0M246 228.7h0M245 229.2h0M225.1 216.1h0M224.1 216.1h0M251.7 235.5h0M251 234.9h0M245.6 238.9h0M245.6 238.8h0M219 233.1h0M218.7 232.9h0M235.1 216.3h0M235.2 215.5h0M247.7 229.6h0M246.9 229.9h0M225.6 232.8h0M225.9 232.8h0M246.6 229.6h0M247.5 229.8h0M250.2 226.3h0M251.2 225.7h0M227.4 223.2h0M228.1 223.9h0M226.8 209.1h0M227.8 208.7h0M236.2 231.7h0M235.8 232.6h0M249.1 228.5h0M248.4 229.6h0M227.3 226.7h0M228.3 225.9h0M250.6 234.7h0M250 235.2h0M220.8 234.1h0M220.1 233.2h0M213.6 215.3h0M214.5 215.1h0M253.2 218.4h0M254 217.6h0M249.6 232.2h0M249.3 232.6h0M236.4 222.3h0M236.9 223.2h0M251.7 229.5h0M252.9 228.7h0M227.1 230.9h0M227.2 231.5h0M252.6 227.5h0M252.6 227.9h0M224.1 216.6h0M223.3 215.7h0M221.9 215.8h0M220.9 214.8h0M224.9 232.3h0M225 232.3h0M236.1 237.7h0M235.3 237h0M251.8 217.8h0M252.7 218.9h0M248.5 227.5h0M249.6 226.6h0M213.6 229.2h0M212.4 230.1h0M218.4 230.6h0M218.3 231.2h0M248.8 230.9h0M248.3 230.9h0M236.6 224.5h0M236.6 224.3h0M252.2 224.1h0M252.5 223h0M236.3 221h0M236.8 221.8h0M227.1 223h0M226.3 222.9h0M253.8 215.7h0M254.4 215.5h0M212.8 221.6h0M212 220.8h0M213.3 226.9h0M213.3 225.9h0M223.1 231.6h0M224.1 232.3h0M220.6 216h0M221.1 216.8h0M253.6 224.8h0M254 224.6h0M238.4 239h0M238.7 239h0M246.8 227.1h0M248.1 227.7h0M217.5 232.5h0M216.9 233.4h0M236.8 224.1h0M237.5 224.7h0M231 217.5h0M231.8 217.3h0M247.1 229.8h0M248.1 230.6h0M235.6 216.2h0M236.1 216.8h0M251.6 225.1h0M252.3 224.9h0M236.3 237.5h0M236.9 236.5h0M236.4 218h0M236 217.9h0M248.8 238.2h0M247.5 237.9h0M219.3 225.8h0M219.6 226.1h0M255 213.4h0M254.3 214.4h0M216.1 213.1h0M216.5 212.7h0M229.3 235.7h0M229.7 235.9h0M252 226.8h0M252.1 226.6h0M218.8 216.2h0M220.1 216.5h0M255 221.8h0M255.5 222.4h0M224.5 230.9h0M225.8 229.9h0M252.5 229.3h0M252.8 229.8h0M247.9 228.4h0M247.3 228.2h0M247.6 228.3h0M246.5 227.6h0M216.9 213h0M216.6 212.2h0M236.6 217.8h0M235.9 218.6h0M227 228.6h0M227.1 228.6h0M234.1 218.4h0M235.3 218.6h0M249.3 231.5h0M250.6 231.8h0M249.2 222.7h0M250 221.7h0M236.9 229.5h0M237.1 230.1h0M225.1 208.3h0M223.9 209.2h0M254.7 213.7h0M253.9 213.6h0M233.9 221.9h0M233.1 221.9h0M224.7 220.7h0M225 219.7h0M229.7 217.2h0M230.9 217.1h0M233.6 217.6h0M233.6 217.9h0M250.1 224.9h0M249.7 224.5h0M220.5 221.7h0M220.9 221.8h0M244.2 236.9h0M243.7 237.3h0M230.8 225.2h0M230.2 224.2h0M217.6 229h0M217 228h0M254.5 225.5h0M253.6 226h0M222.3 226.4h0M222 227.3h0M227.3 225.2h0M228 224.2h0M223.3 232.7h0M224.6 233.7h0M229 218.6h0M227.9 219.5h0M248.1 230.7h0M247.9 230.6h0M230.2 236.5h0M231.4 236h0M250.2 233.9h0M250.3 234.8h0M220.8 227.4h0M221.3 227.4h0M247.1 236.5h0M248.4 237.2h0M211.9 222.6h0M212.2 221.8h0M235.5 223.2h0M235.8 223.1h0M235.6 220.5h0M234.8 219.5h0M221.3 233.3h0M221.3 232.4h0M216.8 221.5h0M216.6 221.9h0M236 221.9h0M235.9 221.4h0M248.6 231.1h0M248.8 230.9h0M222.4 226.4h0M223.2 226.5h0M217.3 232h0M218.6 233h0M255.5 215h0M256.1 214.5h0M225.5 211h0M224.5 211.9h0M227.3 226.6h0M228 226.9h0M217.2 228.6h0M216.8 228.1h0M222.8 225.8h0M223.3 226h0M211.9 222h0M212.1 222.3h0M215.1 228.6h0M215.7 227.9h0M219.1 223.2h0M218.4 224.2h0M212.9 215.8h0M211.7 214.9h0M216.2 221.4h0M215.6 221.2h0M212.7 215.9h0M212.9 215h0M227.7 233.4h0M226.6 233.8h0M208.8 223.2h0M208.9 223.4h0M231.5 217.8h0M231.2 217.7h0M224.3 209.4h0M223.5 209.1h0M238.6 239.1h0M239.2 239.9h0M231.3 224.9h0M230.2 224h0M224.5 211.6h0M225.3 211.9h0M252.3 231.3h0M253 230.7h0M226.3 231.2h0M226.1 230.7h0M249.9 235.7h0M250.7 235.4h0M230.4 229.6h0M253.1 229.2h0M252.7 229.3h0M234.7 234.2h0M235.3 235.1h0M251.6 232h0M251.4 231.7h0M218.9 224.7h0M217.8 225.5h0M216.3 224.3h0M215.3 223.4h0M209.3 224.7h0M209.5 224.7h0M226.9 209.4h0M227.4 209h0M223.7 236.4h0M224.4 235.5h0M247.9 228.2h0M247.1 228.6h0M241.3 225.4h0M240.2 224.9h0M237 239.7h0M237.6 240.1h0M223 225.9h0M222.4 225.1h0M230.1 229.4h0M214.4 230.9h0M214 230.1h0M224.6 211.1h0M225.1 211.3h0M251.2 219h0M252.3 219.9h0M219.9 231.1h0M220.9 231h0M255.2 214h0M256 213.6h0M237.1 234.3h0M236.6 234.1h0M253.7 222.5h0M254.8 223.3h0M225.6 233.4h0M224.9 233.1h0M216.1 226.5h0M215.8 226.2h0M232.1 215.9h0M231.9 215.6h0M253.8 225.7h0M253.1 225.8h0M249 223.9h0M249.7 223.9h0M241.6 230.5h0M242.4 230.7h0M248.9 237.3h0M248.1 237.8h0M237.6 223.8h0M238.6 223.3h0M238.1 219.3h0M236.9 219.4h0M224.6 215.6h0M224.7 215.7h0M257 212.4h0M258.2 212.7h0M210.4 225.5h0M211.2 224.6h0M235.7 217.6h0M235.8 218.2h0M254.2 224.5h0M253.2 223.6h0M247.6 231.2h0M248.2 232.1h0M241.8 224.1h0M240.7 224.4h0M256.5 215.8h0M255.6 216.3h0M241 217.4h0M241.4 216.8h0M220.1 229.3h0M219.4 229.9h0M250.2 221.6h0M250.2 222.1h0M256.5 210.3h0M256.2 209.9h0M255.4 221.3h0M256.6 221.7h0M239.1 224.9h0M239.1 225h0M235 229.5h0M235.6 230h0M235.9 227.7h0M236.9 227.5h0M228.2 220.7h0M229 221.1h0M248.9 229.4h0M249.8 230.1h0M246.2 228.7h0M247 229.6h0M228.7 224.8h0M229.9 225.2h0M249.9 226.3h0M250 226.7h0M231.5 215.8h0M232.2 215.6h0M216.8 221.7h0M216.6 220.9h0M213.1 225.5h0M213.7 226.5h0M218.6 215.6h0M218.3 214.9h0M237.3 223.7h0M236.6 223.5h0M254.8 219.2h0M254.3 220.2h0M225.5 208.4h0M224.3 207.9h0M248.6 231.8h0M247.6 232.2h0M219.4 233.8h0M220.1 233.1h0M234.1 216.6h0M232.9 216.5h0M230.8 225.4h0M253.2 219.8h0M252 218.9h0M223.7 210.8h0M222.9 210.1h0M223.3 222.6h0M222.6 223h0M229.3 222.1h0M229.5 221.5h0M230.1 225.5h0M229.3 225h0M212.3 222.8h0M211.4 223.4h0M221.3 232.7h0M220.8 232.8h0M228 211.4h0M228.8 211.3h0M231.9 221.9h0M231.3 222.7h0M247.9 226.1h0M248.9 225.8h0M251.7 232.3h0M251.8 233.3h0M213.9 227.5h0M213.9 226.9h0M230.6 218.1h0M229.5 219.1h0M237.2 233.5h0M238 233.2h0M217.5 213.5h0M217.6 213.6h0M254.7 230.3h0M254.1 231.4h0M212.9 224.3h0M213.3 223.8h0M231.9 222.6h0M230.7 222.5h0M224.8 225.8h0M224.4 226.5h0M231.4 235.8h0M231.9 236h0M250.9 227.1h0M250 226.3h0M250.2 235.5h0M249.7 235h0M247.9 222.8h0M248.9 222.8h0M235.3 233.4h0M235.7 234.5h0M216.7 228.5h0M216.1 228.6h0M232.8 216.4h0M231.9 217h0M216.2 226h0M214.9 226.7h0M256.8 213.3h0M257.7 214h0M240.5 229.8h0M239.5 229.3h0M222.2 226.3h0M222.8 225.4h0M216.6 211.9h0M216.6 211.8h0M214.8 214.5h0M215.9 214.7h0M237.7 229.2h0M238.6 228.8h0M218.2 232.9h0M218.9 232.8h0M255.3 211.5h0M256.4 210.6h0M215.2 225.2h0M216 224.6h0M231.1 222.5h0M231.3 222.6h0M253.2 226.6h0M252.3 227.3h0M252.6 230.6h0M252.1 230.2h0M224.7 222.7h0M223.6 222.2h0M240.3 239.2h0M240.2 239.7h0M244.1 234.3h0M243.8 234.7h0M218.6 221.1h0M217.5 220.8h0M219.8 214.3h0M219.7 215.3h0M257.7 210.9h0M258.5 211.2h0M228.6 217h0M227.3 216.7h0M221.1 221.9h0M221.6 221.4h0M217 222.8h0M217.1 222.7h0M230.8 218.4h0M229.5 219.4h0M248.1 231.7h0M248.9 231.1h0M254.3 217h0M254.6 216.6h0M229.2 220.6h0M228.9 220.7h0M218.3 218.5h0M217.7 218.2h0M249.9 224.3h0M249.6 224.7h0M228.4 227.2h0M227.8 226.5h0M227.5 211.9h0M228.1 211.5h0M215 227.4h0M216.1 227.6h0M251.9 217.6h0M252.5 217.3h0M223.6 229.5h0M224.5 228.6h0M257.3 210.9h0M256.3 210.1h0M248.2 225.7h0M248.6 226.2h0M234.7 216h0M233.8 215.8h0M211.1 223h0M211.9 223.2h0M221.7 227.9h0M220.6 227.3h0M216.1 226.5h0M215.2 225.7h0M222 225.8h0M221.7 224.8h0M222.3 215.8h0M223.4 215.6h0M256.9 214.9h0M256.9 215.2h0M235.1 222h0M235.8 222.7h0M226.3 210.5h0M226 210.1h0M215.9 228.1h0M215.7 227h0M217.1 226.2h0M216.8 226.6h0M229 217h0M230.2 217.6h0M239.9 228.6h0M240.3 228.8h0M217.3 226.2h0M216 225.8h0M234.4 236.2h0M233.9 236.5h0M240.1 225.4h0M239.1 225.1h0M246.4 229.1h0M246.4 229.7h0M253.5 219.9h0M254.3 220.1h0M225.4 208.5h0M224.5 209h0M240.8 223.8h0M241.8 223.9h0M212.5 225.8h0M212.1 225.8h0M213.5 224.4h0M212.6 224.9h0M221.8 221.8h0M223 221.9h0M255.2 226.2h0M255.8 227h0M218.8 223.5h0M218 224.4h0M246.9 228h0M247.2 227.4h0M218.8 213.1h0M217.8 212.6h0M254.7 212.7h0M254.9 213.2h0M222.3 222.8h0M221.9 223.7h0M226.1 232h0M225.7 232h0M227.4 228h0M226.5 229h0M254.1 230.8h0M253.1 231.7h0M251.5 229.9h0M251.6 230h0M222.6 216.6h0M222.8 216.1h0M239 224.9h0M240 226h0M247.5 228.8h0M248.3 229h0M236.5 220.6h0M235.5 221.3h0M252 219.5h0M251.4 220.4h0M220.8 215.1h0M220.2 215.2h0M220 211.9h0M220.8 211.2h0M219.1 214.8h0M219.2 213.9h0M233.4 218.4h0M232.2 217.7h0M219.2 233h0M220.5 233.9h0M228.3 234.5h0M228.7 234h0M253.2 230.6h0M253.6 231.2h0M236.2 229.2h0M235.9 229.4h0M251.1 227.5h0M251.9 226.4h0M227.6 227.2h0M226.8 227.2h0M222 215h0M221.1 214.8h0M232.5 215.9h0M232.7 215.2h0M209.3 223.4h0M209.4 222.9h0M235.4 217.5h0M235.6 217.1h0M213.5 223.9h0M213.9 222.9h0M221.4 221.6h0M221.8 220.9h0M241.9 224.6h0M243.1 224.8h0M231.7 225.4h0M231.6 225.2h0M242 225.6h0M242.3 226h0M248.3 235.3h0M249 235.9h0M213.9 214.6h0M213.9 215.7h0M231.9 224.8h0M232.7 225.5h0M214.2 215.1h0M214 214.9h0M255.2 213.1h0M255.4 214h0M252 231.9h0M251.8 232.8h0M232.5 219.3h0M232 218.3h0M238.9 220.1h0M239.5 221h0M233.2 231.9h0M233.8 232.1h0M225.5 225h0M226.1 224.6h0M251.9 221.5h0M252.1 220.6h0M227 224.7h0M226.1 224.6h0M234.7 229.1h0M222.5 230.8h0M221.3 231.2h0M245.9 228.8h0M246 228.2h0M250.5 234.5h0M250 234.2h0M217.6 221.2h0M216.9 220.3h0M226 234.6h0M227.1 235.6h0M236.8 234.2h0M237.3 235h0M244.7 230.8h0M244.5 231.4h0M213.7 224h0M213 224.6h0M245.9 238.2h0M246.1 239h0M225.3 223.5h0M224.3 224.1h0M225.6 219.1h0M224.7 219.2h0M257.5 208.3h0M258.7 207.2h0M211.3 223.9h0M210.6 223.5h0M227.8 230.2h0M227.4 229.3h0M214.2 224.5h0M215.2 225.2h0M227.2 229.5h0M226.9 229.2h0M233.4 233.6h0M233.6 232.6h0M235.5 232.1h0M234.3 233h0M252.7 218.7h0M252.2 218.7h0M212.9 215.2h0M214 216.2h0M235.6 220.3h0M235.6 219.6h0M233.3 232.1h0M232.8 233h0M219.6 226.1h0M220.6 225.5h0M226.6 209.2h0M227.5 208.9h0M226.3 216.7h0M226.3 216h0M223.8 235.9h0M224.8 237h0M255.7 210.3h0M254.9 210.6h0M234.3 219.2h0M233.5 220h0M208.5 223.2h0M207.4 222.3h0M218.4 214.9h0M219 214.5h0M248.9 233.6h0M249.9 234.4h0M233.9 220.2h0M234.4 219.4h0M220.1 232.2h0M220.6 233.1h0M224.9 212.4h0M224.8 211.5h0M255.2 219.4h0M254.5 219h0M221.3 232.9h0M221.9 232.3h0M237.8 222.9h0M237 222.4h0M229.3 225.4h0M229.7 226h0M215.4 225.7h0M216.4 225.9h0M213.8 223.7h0M213.1 223.3h0M253.4 219.6h0M254.5 219.9h0M250.4 230.1h0M249.8 230.4h0M236.1 231.8h0M235.1 232.8h0M231.9 237.2h0M231.8 237.2h0M248 224.6h0M248.1 223.6h0M253.2 232.3h0M253.5 231.9h0M235.4 238.9h0M234.8 239.5h0M256.6 210.4h0M255.6 209.9h0M246.1 228.4h0M246.8 227.8h0M227.9 210.6h0M227.3 210.7h0M240.2 228h0M239.4 228.8h0M251.8 227.8h0M253 226.8h0M229.4 225.2h0M229.3 225.7h0M225.8 236.2h0M225.5 237.1h0M255.5 226.3h0M255.5 225.6h0M235.9 232.3h0M236.1 232.6h0M212.7 224.5h0M212.3 224.8h0M215 230.7h0M215.8 230.8h0M253.5 216.6h0M253.6 217.4h0M220.2 218.7h0M220.6 218.8h0M214.8 214.5h0M216 213.8h0M217 212.2h0M217.7 211.5h0M249.2 221h0M249.5 220.4h0M233.7 231.4h0M233.6 232h0M254.4 224.1h0M255.1 224.7h0M247.2 224.9h0M246.6 224.9h0M220.2 231h0M219.5 231.2h0M223.8 212.3h0M223.8 211.3h0M234.4 232.5h0M234.7 232.9h0M249.1 222.1h0M249.3 222.9h0M242.5 230.4h0M241.7 229.7h0M246.7 226.7h0M245.5 226.7h0M252.1 231.9h0M251.9 231.8h0M228.7 217.3h0M228.1 217.9h0M235.1 235.1h0M234 235.9h0M219.9 233h0M220.1 233.1h0M234 223.2h0M234.7 222.6h0M221.4 224.7h0M220.5 224.3h0M214.5 218.8h0M213.3 218.4h0M247.8 227.9h0M248.2 227.9h0M233.3 218.5h0M232.7 218.7h0M221.2 215.6h0M220.1 216.3h0M230.8 217.1h0M230 217.5h0M231.8 220.5h0M232.7 221.2h0M233.8 220.7h0M232.7 220.5h0M214.5 218.4h0M214.1 217.8h0M252.9 220.7h0M254.1 219.7h0M218.5 230.4h0M218.5 231h0M237.6 223.1h0M238.8 222.3h0M242.4 230.5h0M242.3 231.1h0M223.4 230.7h0M222.2 230.2h0M251.6 220.3h0M252.6 219.5h0M250.7 232.1h0M250.5 231.6h0M234.2 235.5h0M234 234.5h0M216.6 231.1h0M215.4 232.2h0M223.9 229.2h0M224.5 229.7h0M242.3 225.2h0M241.6 224.7h0M253.8 226.1h0M254 225.6h0M222.4 226.6h0M222.3 227.5h0M239.8 237.1h0M239.4 236.8h0M218.5 213.1h0M219.7 213.4h0M235.2 231.2h0M234 231h0M231.9 224.2h0M232.3 223.3h0M232.7 235.2h0M232.3 235.6h0M218.3 225.9h0M219.2 226.1h0M235.3 225.9h0M236.3 225.8h0M254.9 224.8h0M254.6 225.6h0M218.9 227.3h0M218.6 227.9h0M229.1 217.8h0M228.3 217.5h0M226.5 220.1h0M225.6 220.2h0M255.6 222.4h0M254.7 221.7h0M217.4 212h0M216.6 211.9h0M245.7 233h0M245.2 232.9h0M223.7 211.5h0M225 211.9h0M217 230.2h0M218 229.5h0M217 225.7h0M216.7 224.8h0M243.7 236.1h0M244.2 235.8h0M234 220.9h0M233.4 219.9h0M235.5 232.6h0M234.7 232.1h0M224.5 223h0M224.2 223.9h0M218.3 223.4h0M218.9 222.9h0M220.6 215.1h0M220.2 214.3h0M242.7 236.9h0M243.8 236.6h0M235.7 220.6h0M236.4 221h0M228.3 218.5h0M229.3 217.5h0M223.4 211h0M223 210.7h0M254.8 217.1h0M253.7 218h0M234.6 218.9h0M234.2 219.5h0M248.5 234h0M248.6 233h0M212 222.6h0M211.7 222h0M223.5 209.9h0M222.3 209.2h0M221.5 221.5h0M221.8 220.5h0M252 219.4h0M251.5 219.2h0M255.8 215.8h0M255.9 215h0M236.1 229.4h0M236.6 228.9h0M254.4 224.6h0M255 225h0M243.9 231.8h0M243 231.2h0M240.6 236.7h0M240.1 237.1h0M231.8 223h0M231.5 222.8h0M224.5 216.4h0M225.4 215.8h0M252 217.1h0M251.5 216.8h0M228.9 229.2h0M228.2 228.2h0M235.3 238.6h0M234 238.9h0M249 230.2h0M249.2 230.9h0M246.7 229.5h0M247.9 229.1h0M253.7 213.5h0M254.1 214.4h0M210.4 225.3h0M209.7 225.8h0M243.5 236.4h0M243.9 237.4h0M237 218h0M237.9 217.4h0M216.6 213.3h0M216.9 212.4h0M219.2 230h0M219 229.7h0M240.9 224.4h0M239.7 224.2h0M222.7 225.6h0M222.3 225.6h0M237.6 234.8h0M237 234.1h0M227.6 222.4h0M227.3 222.4h0M253.9 228.7h0M253 229h0M217.8 233h0M217.2 232.1h0M219.7 229.5h0M219.3 229.4h0M253.7 225.6h0M252.8 225.7h0M213.1 223.6h0M213.6 223.7h0M237.2 229.9h0M237.7 228.9h0M240.8 237.6h0M240.5 237.3h0M229.5 222.7h0M228.4 222.5h0M252.5 231.8h0M251.4 231.8h0M236.9 236.2h0M237.1 236.1h0M235.7 239.4h0M235.2 238.8h0M249.2 231.3h0M248 230.9h0M241.1 238.4h0M242.1 238.5h0M250.9 220.5h0M250.3 220.8h0M219.5 229h0M218.7 229h0M242.3 236.9h0M242.6 237.8h0M241.7 240h0M241.4 240.1h0M244.2 237.9h0M245.3 238.5h0M227 212h0M227.3 212.3h0M223.2 216.7h0M223 216.5h0M250.2 222.8h0M249.6 223.5h0M212.2 228.8h0M213.2 228.5h0M245.6 230h0M246.7 229h0M253.5 231.3h0M252.5 231.4h0M250.7 227.8h0M250.3 227.5h0M219.8 224h0M221 223.3h0M237.4 218.6h0M236.6 218h0M226.2 220.9h0M226.7 220.4h0M220.8 227.6h0M219.5 227.7h0M251.6 225.5h0M251.3 225h0M251.6 218.2h0M251.6 218.5h0M218.9 213.1h0M219.1 213.3h0M215.1 230.9h0M215.3 231.6h0M218.7 212.9h0M219.9 212.5h0M257.8 210.6h0M257.4 211.4h0M248.6 231h0M248.1 231.5h0M248.2 231.5h0M248.7 231.9h0M224.5 230h0M225.7 230.7h0M248 235.3h0M247.1 235.5h0M253.6 229h0M253.6 229.1h0M227.3 220.3h0M226.9 219.9h0M232.3 224.4h0M232.9 224.5h0M231.2 223.5h0M230.5 222.9h0M250.1 223.1h0M249.6 222.4h0M217.4 226.3h0M217.5 225.5h0M216 212.6h0M214.8 211.7h0M246.8 232h0M245.8 232.5h0M227.9 220.9h0M226.9 220.8h0M230.2 218.3h0M230.9 218.2h0M218.9 213.8h0M218.1 214.6h0M230.4 236.5h0M231.3 235.6h0M215.1 225.9h0M214.5 225.9h0M231.9 234.3h0M232.7 234.1h0M213.6 227.4h0M214.1 226.9h0M254.4 223.1h0M255 222.8h0M228.2 210.1h0M227.7 210.7h0M218.3 230.2h0M219.2 230.9h0M233.1 216h0M233.3 215.8h0M253.3 221h0M253.8 221.3h0M235.4 215.9h0M236.3 216.6h0M229.1 224.4h0M228.1 224.1h0M245 230.4h0M245.5 229.8h0M230 230h0M229.2 229h0M228.7 234.3h0M229 235.3h0M236.1 229h0M237.3 228.2h0M211.8 224.3h0M212.3 224.1h0M215.7 225h0M216 224.8h0M253.3 225.7h0M254.4 226.8h0M255.3 221.3h0M254.2 221.7h0M233.6 222.9h0M232.6 221.9h0M248.9 233h0M248.3 233.5h0M227.9 210.2h0M229.2 209.4h0M226 224.8h0M225.6 223.8h0M234.8 222.5h0M234.9 222.5h0M232.5 217.4h0M232.1 216.9h0M253.8 216.9h0M254.5 217.6h0M226.4 223.3h0M225.8 223.1h0M224.1 230.6h0M224.4 231.2h0M248.1 231.6h0M249.3 231.4h0M246.5 228.6h0M247 228.7h0M229.4 219.6h0M230.2 218.8h0M226.7 222.5h0M225.9 221.6h0M253.5 226.2h0M254.6 225.7h0M256 213.3h0M255.9 212.4h0M216.2 223.9h0M215.7 222.9h0M216.1 225.6h0M216.4 225.1h0M248.8 236.3h0M248.1 236.2h0M242 238h0M241.7 237.5h0M214.1 228.2h0M212.9 227.3h0M229.4 229.7h0M230.4 229.3h0M227 237.2h0M225.9 236.5h0M225.7 219.9h0M225.6 221h0M237.4 230.7h0M236.6 231.5h0M216.7 229.6h0M216.7 229.4h0M224.6 208.9h0M225.4 208.6h0M228.7 218.6h0M227.5 218.7h0M217.9 232.9h0M218.3 233.1h0M248.6 229.5h0M248 230.5h0M253.6 227.7h0M254.5 228.7h0M220.4 223.1h0M220.2 223.9h0M226.6 211.9h0M227.2 211.2h0M239.4 230.9h0M238.1 230.2h0M221 232.1h0M220 231.2h0M253.5 217.1h0M253.2 217.6h0M223.3 216.9h0M222.9 216.9h0M215.4 218.1h0M214.1 217.5h0M229.5 218.1h0M230.7 217.1h0M215.5 218.3h0M215.5 219h0M247 233.2h0M247.8 233.7h0M218 214.9h0M217.8 215.5h0M234.2 233.9h0M235.1 234.5h0M249.2 235.7h0M250.5 234.8h0M226.8 228.1h0M227.9 227.9h0M229.3 223.5h0M229.8 223h0M251.7 217.9h0M252.7 216.8h0M234.7 221.4h0M234.9 220.8h0M233 230.1h0M232.7 229.8h0M221.1 224.3h0M221.5 225h0M217.4 230h0M217.1 230.3h0M252.2 231.2h0M251.9 230.7h0M218.8 214.4h0M219.9 214.1h0M241.5 230.1h0M240.4 229.8h0M215.5 225.8h0M216.1 225.1h0M236.6 230.3h0M237.2 230.4h0M219.4 223.1h0M219.9 222.4h0M249.6 229.3h0M248.6 228.5h0M234.2 230.1h0M233.8 229.9h0M242.8 232.1h0M241.6 232.2h0M236.2 220.4h0M236 220h0M226.5 229.6h0M226.6 230.6h0M253.8 214.1h0M253 214.9h0M220.5 228h0M220.1 228.5h0M250.1 229.2h0M249 230.2h0M250.6 221.3h0M250.4 222.3h0M248.4 232.5h0M247.6 232.3h0M228.3 217.2h0M228.9 216.5h0M253.2 229.5h0M252.6 229.9h0M231.5 216.7h0M232.6 216.3h0M237.3 225h0M236.5 224.7h0M213.6 214.7h0M214.9 214h0M220.7 211.4h0M221.1 211.1h0M220.6 224.6h0M221 224h0M247.1 235.5h0M247.4 236.4h0M217.2 222.1h0M218.1 222.3h0M219.8 226h0M219.8 226.1h0M227.6 212.2h0M226.6 212.9h0M242.2 236h0M242.7 235.9h0M235.7 228.6h0M236.2 228.5h0M247.7 230.3h0M247.4 229.7h0M218.5 229.7h0M218.8 229.9h0M234 220h0M234 219h0M232.7 223.7h0M233.1 223.6h0M258 208.8h0M258.2 209h0M248.6 222.2h0M249.8 221.4h0M225.4 219.9h0M225.3 221h0M236.3 225.2h0M236.9 224.8h0M257.1 213.8h0M257.7 214.9h0M218.3 213h0M218.1 213.8h0M240.2 234.2h0M239.3 235.3h0M256.3 210.7h0M256.2 210.1h0M231 224.2h0M231.9 224.6h0M227.7 227.2h0M228.8 228h0M232.1 218.3h0M232.9 218.3h0M231.9 216.2h0M233.1 215.2h0M213.9 229.8h0M214.8 230.2h0M250.3 220h0M249.6 220.7h0M223.3 210.1h0M223.2 210.2h0M216.1 225.8h0M217.1 225.1h0M216.4 213.2h0M215.8 213.5h0M238.3 220.6h0M237.2 220.7h0M223.6 234.7h0M224.3 234.7h0M218 224.6h0M217.3 225.2h0M216.4 212.2h0M217.3 212.8h0M229.6 217.9h0M229.7 218.8h0M214.1 215.8h0M214.9 215h0M254.5 213.7h0M254.2 212.8h0M250.9 217.7h0M249.7 217.4h0M241 217.6h0M242 218.3h0M247.4 233.4h0M246.4 232.7h0M228.6 217.1h0M228.3 217.9h0M253.8 215.7h0M254.1 216.6h0M212.6 224.9h0M211.5 225.9h0M254.5 216.6h0M253.7 216.9h0M253 214.8h0M254 215.3h0M214.7 214h0M213.9 214.3h0M220.8 211.2h0M220.7 210.1h0M237.9 236h0M238.3 235.6h0M249.2 228.6h0M249.5 229.1h0M249.2 233.4h0M248.3 232.6h0M235.6 232.9h0M236.1 232.9h0M220.3 211.5h0M219.3 210.7h0M244.2 237.7h0M245.3 237.9h0M255.6 210.3h0M255.2 209.6h0M240.4 225.6h0M241.6 226h0M218.5 232.9h0M219.2 232.6h0M215.5 227.7h0M215.1 227.5h0M250.5 228.1h0M249.6 228.4h0M224.7 211.5h0M224.5 212.2h0M218.7 230.2h0M218.4 230.1h0M251.5 218.8h0M251.5 219.8h0M224.4 217.3h0M224 217.7h0M240.4 233.3h0M239.8 233.4h0M232.5 220.2h0M231.9 221h0M249.2 225.2h0M248.7 226h0M240.1 231.9h0M240.5 231.8h0M255 217.2h0M256.2 217h0M250.2 234.5h0M250.8 234.7h0M218.8 215.8h0M218.7 214.9h0M233.6 237.5h0M233.4 237h0M253.6 225.2h0M253.4 226.1h0M254.7 223.5h0M254.1 223.9h0M254.7 226.4h0M254.5 225.6h0M209.2 222.9h0M210.2 222.4h0M254.4 224.5h0M254.2 224.1h0M247.2 235.4h0M248 236.2h0M232.2 239h0M232.4 239.1h0M226.2 226.1h0M225.1 227h0M222 230.7h0M221 230.4h0M228.8 213.5h0M228.4 213.9h0M222.7 222.3h0M223.1 222h0M210.9 227.2h0M212 228.2h0M224.3 209.2h0M223.1 209.5h0M219.5 211.9h0M219.5 211.5h0M241.1 217.3h0M241.5 217.5h0M232.8 237.8h0M234.1 238.8h0M215.5 227.2h0M216.8 226.9h0M237.4 231.3h0M238.2 231.6h0M227.9 225.9h0M228.4 227h0M247.9 234.7h0M246.8 234.6h0M235.8 227.9h0M235.5 228.2h0M226.1 221.6h0M225.4 222.6h0M253.3 230.5h0M252.5 230.2h0M243.8 230.8h0M242.8 230.6h0M228.7 222.3h0M229.3 221.4h0M233.9 217.2h0M233 217.5h0M236.9 224.6h0M237.2 225.2h0M234.4 218.5h0M233.7 219.1h0M241.6 230.5h0M242.2 231.1h0M231.7 218.7h0M230.8 218.6h0M251.8 232.3h0M250.6 233h0M224.6 217h0M225.8 217.8h0M256.5 211.7h0M255.3 211.4h0M250.3 220.4h0M250.3 220.5h0M233.7 222.2h0M232.7 222.8h0M235.4 239.4h0M234.9 239.4h0M223.2 211.3h0M222.2 211.4h0M254.5 230.2h0M253.6 229.3h0M224.2 210.6h0M224.3 210.1h0M244 238.1h0M244.7 237.5h0M220.6 222.8h0M220.4 221.9h0M250.3 224.2h0M249.6 224.1h0M219.2 229.9h0M219.3 229.8h0M243 238.1h0M243.9 237.2h0M253.7 216.6h0M254.6 215.8h0M216.9 217.7h0M218.1 217.8h0M220 211.4h0M219.8 211.7h0M223 210.9h0M223.9 211.9h0M235 226.1h0M234.8 225.1h0M233.5 223.7h0M232.6 224.4h0M224.7 216.4h0M225.3 216.9h0M258.3 207.3h0M257.4 207.3h0M225.3 231.1h0M224.8 232.1h0M228.1 210.5h0M228.5 211.3h0M254.3 226.3h0M253.1 226.1h0M228.6 234.7h0M227.5 234.2h0M216.2 231.4h0M215.2 232.3h0M224.2 210.1h0M223.7 210h0M235.5 228.6h0M235.9 229.5h0M231.5 217.1h0M232.6 217.3h0M246.4 238.1h0M246.4 239h0M252.6 222.6h0M252.4 222.2h0M224.8 216.8h0M225.5 216.3h0M218.3 219.1h0M218 218.9h0M245.4 233.6h0M245.4 233.3h0M252.7 230.7h0M252.5 230.5h0M255.1 219.2h0M254 219.9h0M225.6 209.2h0M224.5 209.3h0M232.4 238.1h0M232.5 237.8h0M244.2 238.9h0M243.5 238h0M251.7 217.6h0M251.4 217.2h0M227.2 221.5h0M227.2 221h0M251 231.9h0M251.7 231.9h0M255.5 219h0M254.2 218.8h0M217.3 229.9h0M218.5 228.8h0M208.9 223.4h0M209.1 224.4h0M224.9 225.7h0M224.6 225.9h0M229.5 218.2h0M229.1 217.7h0M212.7 224.3h0M212.2 224.3h0M241.4 239.3h0M240.3 238.5h0M234.8 219.2h0M234.1 218.7h0M219.6 222.1h0M220.3 222h0M235.9 221.7h0M236.8 221.5h0M244.7 237.3h0M244.2 237.7h0M256 212.8h0M254.9 213.9h0M239 236.2h0M239.9 235.8h0M252.9 231.1h0M252.4 231.8h0M212.9 226.5h0M213.7 226.8h0M249.5 221h0M248.3 221.6h0M217.8 230.1h0M216.7 230.4h0M250.8 225.6h0M251 226.5h0M225.5 231.9h0M225.8 230.9h0M256.6 209.9h0M257.7 210.5h0M227.7 209.9h0M227.9 208.8h0M213.4 224.5h0M214 224.3h0M209.5 223.2h0M209.9 224.3h0M219.4 223.2h0M220.4 222.3h0M215.9 225.2h0M216.6 225.1h0M218.3 223.2h0M219 223h0M219.7 224h0M219.6 223.9h0M251.2 232.1h0M250.2 231.7h0M229.3 230.4h0M229.9 229.5h0M229.2 225.4h0M228.2 226.1h0M223.3 211.3h0M223.7 211.4h0M235.7 230.1h0M234.7 229.2h0M238.2 221.9h0M237.7 222.8h0M210.1 223.2h0M210.2 224.1h0M219 223.8h0M218.3 223.6h0M248.7 227.1h0M248.8 227.8h0M233.9 222h0M232.9 222.8h0M230.4 235h0M230.3 234h0M254.9 213.2h0M255.4 214.1h0M216.2 220.3h0M216.2 220.7h0M236.5 216.6h0M236.3 217.2h0M252.2 225h0M251.2 225.5h0M255.8 209.2h0M255 209.4h0M237.3 218.5h0M236.5 218.1h0M229.5 225.7h0M228.6 225.4h0M233 218.6h0M233.2 218.7h0M242.9 231.6h0M242.6 231.8h0M234.6 231.2h0M235.5 230.9h0M223.5 211.4h0M223.7 211.4h0M213.4 224.8h0M214.6 224.4h0M253.3 227.4h0M253.8 226.8h0M254.8 216.6h0M254.2 217.1h0M218.3 226h0M218.5 225.5h0M228.3 211.8h0M227.2 212.5h0M228.5 236.7h0M228.2 237.2h0M209.8 223.7h0M209.7 223.9h0M252.5 222.1h0M252.6 223.2h0M220.5 233.7h0M221.6 233.6h0M233.4 233.6h0M233.4 233h0M249.9 225.1h0M250.5 224.2h0M249.4 228.2h0M248.9 228.9h0M229.1 220.3h0M227.9 220.8h0M225 212h0M225.2 212.2h0M219.7 222.6h0M219.3 221.8h0M221.1 226.1h0M222.3 226.7h0M245.2 227.8h0M246 227h0M233.1 217.5h0M233.8 216.9h0M224.1 210.7h0M223.3 210.8h0M242.8 228.9h0M243.1 228.1h0M228.4 232.2h0M229.1 232.3h0M249.9 223.2h0M251 224.1h0M222.3 211.5h0M222.8 211.2h0M213.4 216.5h0M214.6 217h0M232.2 225.3h0M217.9 221.4h0M218.5 220.9h0M226.5 228.4h0M225.9 227.4h0M223.2 210.6h0M223.3 210.1h0M220.5 223.1h0M220 222.5h0M246.9 225.8h0M245.9 225.8h0M237.1 222.4h0M236.5 221.9h0M231.7 220.9h0M231.2 220.9h0M218.8 212.5h0M219.8 211.8h0M232.8 224.6h0M233.7 225.4h0M226.7 210.5h0M227 210.6h0M220.2 232.8h0M220.8 232.9h0M223.3 215.2h0M223.7 216.1h0M218.4 214h0M219.1 213.5h0M251.5 218.5h0M250.4 219.5h0M215.8 225.2h0M215.5 225.8h0M215.6 225.4h0M214.9 225.3h0M251.3 232.5h0M251 233h0M244.6 231.4h0M245.8 231.4h0M218.8 224.3h0M218.9 223.9h0M243.4 228.4h0M242.7 229.4h0M235 219.3h0M234 220.3h0M246.8 238.3h0M247.2 237.4h0M253.1 230.7h0M254.1 229.8h0M255.1 212.3h0M255.3 211.5h0M225.1 220.8h0M226.3 220.3h0M249.3 234.8h0M250.3 233.9h0M224.4 222.7h0M224.8 221.8h0M257.2 207.4h0M256 207.6h0M213.6 222h0M214.9 222.4h0M212.7 226.4h0M213.6 227h0M224.8 225.9h0M224.9 225h0M235.4 216.9h0M235.5 216.2h0M243.6 230.4h0M243.7 230.1h0M226 230h0M226 229.4h0M220.4 216.6h0M220.9 216.5h0M228 209.9h0M228 209h0M220.3 219.7h0M220.2 219.9h0M216.6 225.1h0M217.9 225.2h0M232.1 225.8h0M227 237.3h0M226.6 237.8h0M254 216h0M255.1 217h0M255.6 213.8h0M256.7 214.7h0M246 239.1h0M246.9 240.1h0M255.9 218.5h0M254.6 218.5h0M248.1 229.7h0M248.4 230.1h0M215.8 212.2h0M216.1 212.5h0M255 214.1h0M256.1 213.2h0M230.9 216.5h0M231 217.5h0M220.1 230.1h0M218.9 229.2h0M253.1 225.8h0M254.1 226.8h0M239.2 229h0M238 228h0M236.1 218.9h0M236.9 219.4h0M217.4 230.9h0M217.5 231h0M250.1 230h0M250.8 230.7h0M252.4 218.7h0M251.1 217.8h0M247.6 226.6h0M248.4 227.7h0M240.2 235h0M241.1 234.8h0M227.5 231.4h0M227.1 231.1h0M224.1 234.1h0M222.9 234.7h0M218.7 232h0M218.1 232.2h0M250.4 233.1h0M250.4 232.8h0M255.4 224.9h0M254.7 225.8h0M223.3 217.1h0M222.5 216.4h0M228.6 228.1h0M227.9 228.1h0M229 213.1h0M229.7 212.7h0M232 237.8h0M231.3 238.2h0M248.6 236.5h0M248 236.6h0M212.9 216h0M212.2 216.8h0M235.9 219.1h0M235.1 218.5h0M234.1 226.1h0M233.6 225.7h0M226.3 219.7h0M226.8 220.1h0M251.8 226.1h0M252.5 226.2h0M234.1 220.5h0M233 221h0M221 231.4h0M220.3 230.8h0M217.4 221.2h0M217.2 222.3h0M224.2 223.4h0M225.3 224.4h0M233.4 220.7h0M233.1 219.9h0M238.5 230.5h0M239.3 231.1h0M219.5 223.5h0M219.1 224.2h0M237.9 222.1h0M237.6 221.6h0M215.4 222.3h0M215.7 222.8h0M248.6 230.8h0M248.5 231.5h0M247.5 227.5h0M246.3 227.5h0M239 219.2h0M238.7 218.2h0M248.2 227h0M249.3 226.2h0M253.3 217.5h0M252.6 218.3h0M218.6 230.5h0M219.8 231.4h0M255.2 217.9h0M254.8 218.8h0M245.9 232.1h0M245 232.5h0M233.6 223.3h0M234.8 222.7h0M222.1 230.4h0M221.1 230.8h0M222.9 217h0M223.8 217.5h0M227.6 224.4h0M228.8 224.3h0M228.3 231.4h0M228 230.6h0M253 224.3h0M252.4 225.2h0M222.1 231.8h0M220.9 231.1h0M223.1 229.6h0M222.7 228.6h0M227.2 210.8h0M226.7 210.1h0M244.5 231.8h0M243.6 231.8h0M211.2 227.2h0M211.3 227.4h0M247.2 225.2h0M247.9 225.3h0M239.4 220.6h0M240.6 219.7h0" stroke="#d5d5d5" stroke-width="2.7" stroke-linecap="round"/>
<path d="M225 223.8h0M250.8 222.1h0M249.8 221.3h0M223.4 224.7h0M246.5 238h0M253.4 223.1h0M253.3 231.7h0M250.6 234.7h0M248.5 227.5h0M238.4 239h0M224.5 230.9h0M252.5 229.3h0M247.9 228.4h0M247.6 228.3h0M249.3 231.5h0M249.2 222.7h0M230.8 225.2h0M248.1 230.7h0M249 223.9h0M220.1 229.3h0M255.4 221.3h0M225.5 208.4h0M252 218.9h0M228.8 211.3h0M254.1 231.4h0M231.9 236h0M257.7 214h0M223.6 222.2h0M258.5 211.2h0M251.8 232.8h0M254.4 224.1h0M247.2 224.9h0M253.8 226.1h0M234.6 218.9h0M252 219.4h0M237.6 234.8h0M248.2 231.5h0M250.1 223.1h0M256 213.3h0M258 208.8h0M253 214.8h0M249.2 228.6h0M249.2 233.4h0M247.9 234.7h0M224.7 216.4h0M255.6 213.8h0M252.4 218.7h0M235.9 219.1h0M238.5 230.5h0M239 219.2h0M239.4 220.6h0" stroke="#9889ce" stroke-width="2.2" stroke-linecap="round"/>
<path d="M254.2 224.6h0M255.8 212h0M248 229.8h0M224.4 230.2h0M250.7 222.5h0M257.6 209.3h0M247.5 238h0M253.9 225.7h0M251.1 225.6h0M223.1 231.6h0M251.6 225.1h0M224.4 235.5h0M219.9 231.1h0M253.7 222.5h0M257 212.4h0M254.8 219.2h0M252.3 227.3h0M256.9 215.2h0M254.9 213.2h0M251.9 226.4h0M252.7 218.7h0M248 224.6h0M252.1 231.9h0M251.6 220.3h0M250.7 232.1h0M248.5 234h0M253.7 225.6h0M237.2 229.9h0M251.6 225.5h0M253.6 229h0M255.3 221.3h0M217.9 232.9h0M247 233.2h0M249.2 235.7h0M250.2 234.5h0M247.2 235.4h0M253.3 230.5h0M250.3 220.4h0M250.3 224.2h0M252.7 230.7h0M255.5 219h0M225.5 231.9h0M256.6 209.9h0M248.7 227.1h0M249.4 228.2h0M247.2 237.4h0M254 216h0M247.5 227.5h0M248.2 227h0" stroke="#8675c7" stroke-width="2.2" stroke-linecap="round"/>
<path d="M249.7 219.5h0M252.1 229.6h0M255.6 223.8h0M252.2 223h0M224.9 235.5h0M248.7 224.7h0M251.7 235.5h0M252.2 224.1h0M253.6 224.8h0M249.9 235.7h0M249.9 226.3h0M256.4 210.6h0M256.3 210.1h0M251.4 220.4h0M253.6 231.2h0M235.9 229.4h0M255.4 214h0M245.7 233h0M255.8 215.8h0M253.7 213.5h0M253.9 228.7h0M250.9 220.5h0M248.6 231h0M253.5 217.1h0M247.7 230.3h0M257.1 213.8h0M255 217.2h0M254.7 223.5h0M254.7 226.4h0M222.7 222.3h0M233.7 222.2h0M251 231.9h0M244.7 237.3h0M249.9 223.2h0M247.6 226.6h0" stroke="#7365be" stroke-width="2.2" stroke-linecap="round"/>
<path d="M250.9 230.7h0M246.9 234.3h0M233.1 221.8h0M251.3 229.9h0M252.1 230.1h0M238.7 227.6h0M218.1 233h0M223.2 230.6h0M249.8 224.1h0M248.1 230.2h0M246.6 229.6h0M252 226.8h0M254.7 213.7h0M254.5 225.5h0M235.6 220.5h0M231.5 217.8h0M209.5 224.7h0M237.6 240.1h0M248.9 237.3h0M234.1 216.6h0M230.8 225.4h0M229.3 225h0M251.8 233.3h0M243.8 234.7h0M221.6 221.4h0M249.6 224.7h0M247.2 227.4h0M253.1 231.7h0M248.3 229h0M227.8 230.2h0M235.4 238.9h0M246.1 228.4h0M251.8 227.8h0M240.6 236.7h0M252 217.1h0M249.2 231.3h0M250.2 222.8h0M230 230h0M226 224.8h0M233 230.1h0M252.2 231.2h0M241.5 230.1h0M253.8 215.7h0M250.5 228.1h0M215.5 227.2h0M251.8 232.3h0M254.5 230.2h0M244 238.1h0M208.9 223.4h0M224.9 225.7h0M255.8 209.2h0M253.3 227.4h0M254.8 216.6h0M249.9 225.1h0M254.1 229.8h0M256 207.6h0M255 214.1h0M253.1 225.8h0M250.1 230h0M240.2 235h0M250.4 233.1h0M232 237.8h0M224.2 223.4h0M248.6 230.8h0" stroke="#aa9cd4" stroke-width="2.2" stroke-linecap="round"/>
<path d="M255.1 216h0M251 231.3h0M248.8 228.4h0M252.3 216.4h0M251 226.4h0M255 213.4h0M250.1 224.9h0M255.2 214h0M250.2 221.6h0M219.7 215.3h0M221.8 220.9h0M235.9 232.3h0M253.5 216.6h0M254.4 224.6h0M252.5 231.8h0M246.8 232h0M234.2 233.9h0M250.1 229.2h0M232.7 223.7h0M240.4 233.3h0M253.6 225.2h0M254.4 224.5h0M249.5 221h0M233 218.6h0M248.1 229.7h0M245.9 232.1h0" stroke="#3a3fa0" stroke-width="2.2" stroke-linecap="round"/>
<path d="M254.1 223h0M255.5 222.2h0M251.8 217.8h0M248.8 230.9h0M208.8 223.2h0M248.6 226.2h0M254.9 224.8h0M253.2 229.5h0M256 212.8h0M252.2 225h0M251 233h0" stroke="#6058b4" stroke-width="2.2" stroke-linecap="round"/>
<path d="M252.8 212.5h0M219.5 226h0M241.6 237.8h0M249.7 219.9h0M250.2 235h0M253.6 227.4h0M240.5 229.5h0M246.7 228.3h0M236.3 221h0M250.2 233.9h0M235.5 223.2h0M255.5 215h0M215.1 228.6h0M251.4 231.7h0M248.9 229.4h0M246.2 228.7h0M237.3 223.7h0M248.6 231.8h0M221.7 224.8h0M216.8 226.6h0M216 225.8h0M254.3 220.1h0M244.7 230.8h0M253.4 219.6h0M255.5 226.3h0M252.9 220.7h0M239.8 237.1h0M254.8 217.1h0M213.1 223.6h0M219.5 229h0M227 212h0M215.1 230.9h0M257.8 210.6h0M253.3 221h0M227.9 210.2h0M253.8 214.1h0M248.6 222.2h0M236.3 225.2h0M250.3 220h0M220.8 211.2h0M232.2 239h0M258.3 207.3h0M228.6 234.7h0M255.1 219.2h0M229.1 220.3h0M250.3 233.9h0M235.5 216.2h0M226 229.4h0M227 237.3h0M255.9 218.5h0M212.9 216h0M253 224.3h0" stroke="#b9acda" stroke-width="2.2" stroke-linecap="round"/>
<path d="M220.8 222h0M248.4 229.2h0M242 235.1h0M251.3 236h0M247.7 229.6h0M236.2 231.7h0M213.6 229.2h0M247.1 229.8h0M228.7 224.8h0M232.7 215.2h0M235.6 217.1h0M232.7 225.5h0M222.5 230.8h0M235.6 220.3h0M232.7 235.2h0M240.9 224.4h0M231.9 234.3h0M216.7 229.6h0M242.2 236h0M238.3 220.6h0M218 224.6h0M212.6 224.9h0M244.2 237.7h0M232.8 237.8h0M227.9 225.9h0M235.8 227.9h0M228.7 222.3h0M219.2 229.9h0M233.5 223.7h0M251.7 217.6h0M234.8 219.2h0M252.9 231.1h0M238.2 221.9h0M210.1 223.2h0M233.9 222h0M228.6 228.1h0M233.6 223.3h0" stroke="#c5badf" stroke-width="2.2" stroke-linecap="round"/>
<path d="M234.6 220.4h0M227.9 220.6h0M218.9 226.7h0M231.6 237.3h0M234.6 215.8h0M227.3 226.7h0M253.2 218.4h0M236.4 218h0M225.6 233.4h0M216.1 226.5h0M213.1 225.5h0M238.6 228.8h0M246.4 229.7h0M221.9 223.7h0M232.2 217.7h0M225.8 236.2h0M233.7 231.4h0M255.6 222.4h0M240.8 237.6h0M236.1 218.9h0" stroke="#d0c8e4" stroke-width="2.2" stroke-linecap="round"/>
<path d="M228.7 227.3h0M246 228.7h0M237.1 234.3h0M239.1 224.9h0M223.4 215.6h0M231.8 220.5h0M237 218h0M234.8 222.5h0M220.7 211.4h0M231 224.2h0M244.2 238.9h0M217.3 229.9h0M239 236.2h0M229.5 225.7h0M255.2 217.9h0M247.2 225.2h0" stroke="#dcd6ea" stroke-width="2.2" stroke-linecap="round"/>
<path d="M252.9 218.8h0M248.8 238.2h0M248.9 222.8h0M249.2 221h0M249 230.2h0M255.4 224.9h0" stroke="#4d4baa" stroke-width="2.2" stroke-linecap="round"/>
</g>
<defs><linearGradient id="ge11" x1="0" y1="1" x2="0" y2="0"><stop offset="0" stop-color="#e6e3ee"/><stop offset="0.4" stop-color="#b3a8d8"/><stop offset="0.7" stop-color="#7a68c0"/><stop offset="1" stop-color="#2e3f9c"/></linearGradient></defs>
<rect x="265.8" y="206.7" width="5.4" height="27" fill="url(#ge11)"/>
<text x="273.3" y="214.5" font-size="5.6">6</text>
<text x="273.3" y="221.07" font-size="5.6">4</text>
<text x="273.3" y="227.63" font-size="5.6">2</text>
<text x="273.3" y="234.2" font-size="5.6">0</text>
<text x="235.6" y="187.7" font-size="6.4" text-anchor="middle" font-style="italic">CDKN1A</text>
<path d="M202.6 237.5 L202.6 249 L216 249" fill="none" stroke="#3b4a6b" stroke-width="0.65"/>
<path d="M201.5 239.2 L202.6 236.6 L203.7 239.2 Z" fill="#3b4a6b"/>
<path d="M214.6 247.9 L217 249 L214.6 250.1 Z" fill="#3b4a6b"/>
<text x="219.8" y="251.2" font-size="6.3">PHATE<tspan font-size="3.8" dy="1.1">1</tspan></text>
<text x="205.2" y="233" font-size="6.3" transform="rotate(-90 205.2 233)">PHATE<tspan font-size="3.8" dy="1.1">2</tspan></text>
<g>
<path d="M225 323h0M224.9 323.4h0M233 318.7h0M233.4 317.9h0M229.2 312h0M228.6 312.7h0M218.9 312.8h0M219.3 313h0M237.2 329.5h0M236.3 329.4h0M237.4 330.7h0M236.5 331.5h0M254.2 323.8h0M253 324.5h0M233.1 321.5h0M232 321.9h0M249.6 319.7h0M250.5 318.6h0M231.4 333.8h0M230.3 334.7h0M250.4 329.1h0M250.4 328.2h0M251.1 329.1h0M252.3 330.1h0M237.7 325h0M236.7 324.8h0M255.8 310.8h0M254.8 310.4h0M255.2 315.7h0M255.5 315h0M246.7 327.9h0M247.2 326.9h0M225.3 309.3h0M224.5 310h0M251.5 331.1h0M251.2 330.9h0M232.7 322.7h0M233 322.7h0M249.9 321.5h0M250.5 322.6h0M253 321.5h0M254.2 321.8h0M254.1 312.3h0M253.8 312h0M240.9 323.3h0M241.4 323.7h0M218.1 329.6h0M217.1 329h0M214.6 313.4h0M214.3 313.4h0M217.1 321.1h0M217.9 321.1h0M232.2 329.2h0M238.4 322h0M238.3 322.1h0M225.3 329.9h0M224.6 329.8h0M234.6 329.2h0M234.3 329.8h0M250.3 320.3h0M249.3 320.4h0M225.6 333h0M224.8 333.4h0M218.1 330.1h0M217.7 330.4h0M220.1 315.7h0M218.9 315.6h0M222.5 316.1h0M221.7 315.7h0M252.1 328.8h0M252.1 329.8h0M255.5 321.4h0M255.5 322.4h0M249.2 328.7h0M248.3 329.6h0M216.4 312.6h0M216.1 312h0M220.8 321.2h0M221.4 322.1h0M246.9 333.5h0M245.6 333h0M242.8 330.7h0M243.5 330.4h0M224 307.9h0M223.4 306.8h0M234.6 319.6h0M233.4 319.9h0M240.7 330.6h0M241.9 331.7h0M238.3 319.7h0M238.3 318.6h0M219.5 325.2h0M219.1 325.8h0M212.4 327.5h0M213.3 327.8h0M254.8 328.3h0M254.1 328.4h0M243.7 330h0M243.6 330.2h0M249.8 320.5h0M249.2 321.4h0M231.2 317.4h0M232.3 316.6h0M226 331.4h0M225.5 332.2h0M252.7 321.6h0M252.2 322.6h0M250.7 321.7h0M250.7 322.2h0M233.3 317.6h0M233.8 317h0M234.7 321.3h0M234.2 320.8h0M228.7 319.6h0M229.2 320h0M209.4 324.1h0M208.4 325h0M229.4 312.1h0M229.2 311.6h0M210.6 325.6h0M210.5 326.7h0M255.6 323h0M255.7 323.3h0M216.9 325.8h0M218 326.8h0M227.9 319.8h0M228.6 319.6h0M257.9 310.1h0M258.1 310.9h0M234.8 329.9h0M235.6 330.1h0M255.3 317.6h0M254.9 317.3h0M254.1 315.8h0M254.7 315.9h0M252.9 315.5h0M251.7 316h0M230.6 324.2h0M231.6 324.8h0M225.1 327.1h0M226.2 328h0M237.5 316.5h0M237.6 317.1h0M257.6 308.5h0M257.2 307.6h0M222.4 316.3h0M222 315.8h0M218.9 325.9h0M220 326.3h0M235.3 322.1h0M235.5 322.4h0M224.6 309.8h0M223.7 309.9h0M227.9 328.8h0M228.4 328.6h0M220.7 311.3h0M220 311.1h0M234.5 336.2h0M234 336.6h0M216.9 325.8h0M216 324.9h0M229.3 312.2h0M228.8 312.6h0M250.8 328.4h0M251.5 328.8h0M248.8 327.6h0M250 327.3h0M223.1 310.6h0M221.9 310.6h0M252.1 321.8h0M252 321.2h0M248.3 332.4h0M248.8 332h0M227.7 308.3h0M227.1 308h0M240.1 334.3h0M241.2 333.3h0M241.6 337h0M241.2 336.5h0M223.4 323.9h0M222.7 324.8h0M254.7 327.7h0M254.7 328.2h0M249.7 319.1h0M248.8 319h0M246.6 329.6h0M246.8 330.4h0M252.3 315.6h0M251.6 315.5h0M233.1 321h0M234 321.7h0M251.3 329.1h0M250.6 329.1h0M237.7 316.2h0M238.4 316h0M231.2 323h0M231.6 323.3h0M218.6 320h0M219.9 320.1h0M216 311h0M216.5 310.7h0M232.5 322.2h0M233.1 321.8h0M231.9 324.4h0M231.9 324.1h0M232 321.6h0M231.5 320.8h0M250.2 334.2h0M249.5 334.3h0M225.3 307.1h0M224.7 306.1h0M234.5 317.9h0M235.3 317.5h0M221.4 316.4h0M222.5 316.7h0M242.9 338.5h0M242.6 339.3h0M235.3 317.1h0M236.3 316.7h0M255.8 314.6h0M254.8 314.9h0M229.4 322.1h0M230.3 322.4h0M220.6 321.9h0M221.3 321.7h0M217 312.3h0M217.3 311.8h0M246.5 327.9h0M246.2 327.7h0M246.5 337.2h0M246.2 336.9h0M221 331.4h0M221.7 330.7h0M231.6 336.5h0M230.8 335.9h0M247.5 337.2h0M248.7 337.2h0M252.2 322.2h0M251 322.9h0M238.4 329.1h0M239.4 329.8h0M252.2 321.9h0M251.8 322.5h0M227.7 310h0M227.2 309.2h0M252.1 329.3h0M253 330h0M251 330.3h0M250.2 331.1h0M238.7 326.8h0M237.5 326.4h0M209.5 323.3h0M208.3 322.6h0M235.8 338.8h0M234.9 339.2h0M253.6 326.6h0M253.1 326h0M248.4 328.4h0M247.6 328h0M220.8 322.6h0M221.8 322.8h0M228.6 310.4h0M227.6 310.8h0M253.9 324.9h0M254 324.8h0M253.4 322.3h0M253.5 322.6h0M218.1 329.2h0M218.9 329.2h0M251.4 329.1h0M251.7 329h0M236.5 316.1h0M236.9 315.8h0M236.3 323.5h0M236.1 323.6h0M209.5 322h0M210.1 321.5h0M222.1 315.2h0M223.2 315.2h0M219.1 312.9h0M220.1 313.3h0M238.8 321.2h0M240 321.6h0M228.7 326.5h0M228.5 326.3h0M218.1 332.2h0M218.4 332.7h0M253.3 330.9h0M254.1 330.1h0M238.5 321.8h0M237.3 321h0M222.1 316.3h0M221 315.3h0M216.9 329.1h0M215.6 328.6h0M229.1 318.2h0M228.1 318.6h0M218.7 322.7h0M219 323.7h0M248.7 329.2h0M249.9 329.7h0M223.7 315h0M224.8 314h0M234.6 315h0M233.9 315.9h0M251 325.6h0M251 324.9h0M223.2 329.8h0M223.9 329.6h0M231.9 333.6h0M232 333.2h0M224.9 334.7h0M224.2 333.8h0M231.7 318h0M232 319h0M224.4 307.6h0M225.7 308.2h0M239.1 318.3h0M240.2 318h0M242 334.3h0M241.5 335.2h0M248.7 323.9h0M248.9 324.2h0M212.8 323.1h0M211.5 322.5h0M208.5 322.9h0M208.4 323.4h0M249.8 323.3h0M250.6 323.9h0M218.4 313.5h0M218 313.2h0M221.8 316.3h0M222.7 317.4h0M214.5 329.2h0M214.5 328.5h0M248.1 329.4h0M248.4 329.5h0M238.9 318.7h0M238.6 318.2h0M251.1 324.8h0M250.8 325h0M210.5 322h0M209.6 322.1h0M241.2 336.5h0M242.3 337h0M239.9 328.7h0M239.3 328.5h0M251.3 335.2h0M250.3 335.7h0M236.5 333.9h0M236.8 333.1h0M239.2 318h0M239.4 318.2h0M250.1 325.6h0M250.3 325.4h0M229.4 317.4h0M228.9 317.1h0M224.2 325.2h0M225.5 324.9h0M237.4 321.2h0M237.4 321.1h0M213.6 326.3h0M212.8 326.1h0M253 324.9h0M252.3 324.5h0M234.6 329.2h0M234.2 328.9h0M252.9 318h0M254 317.5h0M240.5 328.7h0M240.1 329h0M246.7 327.5h0M246.4 327.5h0M246 327.9h0M246.4 327h0M225.1 315.3h0M225.5 314.4h0M251.7 334.7h0M251 335.4h0M245.6 338.1h0M246.8 338.5h0M219 332.3h0M218.2 332.2h0M235.1 315.5h0M234.5 316.2h0M247.7 328.8h0M247 328.2h0M225.6 332h0M225.9 332.3h0M246.6 328.8h0M246.8 328.7h0M250.2 325.5h0M251.4 325.4h0M227.4 322.4h0M228.6 322.2h0M226.8 308.3h0M226.7 308h0M236.2 330.9h0M236.8 331.4h0M249.1 327.7h0M248.4 327.8h0M227.3 325.9h0M227.9 325.9h0M250.6 333.9h0M251.1 334.2h0M220.8 333.3h0M221.3 333h0M213.6 314.5h0M213.1 313.4h0M253.2 317.6h0M254.2 318.2h0M249.6 331.4h0M249.3 332.4h0M236.4 321.5h0M237.3 321.3h0M251.7 328.7h0M251.2 328.2h0M227.1 330.1h0M226.9 329.2h0M252.6 326.7h0M251.4 325.9h0M224.1 315.8h0M223.6 315.1h0M221.9 315h0M220.9 315.7h0M224.9 331.5h0M224.6 331.5h0M236.1 336.9h0M235.2 336.3h0M251.8 317h0M252.7 317.9h0M248.5 326.7h0M249.6 326.8h0M213.6 328.4h0M213.2 327.7h0M218.4 329.8h0M219.4 330.4h0M248.8 330.1h0M248.9 330.8h0M236.6 323.7h0M236 323.7h0M252.2 323.3h0M253.3 322.4h0M236.3 320.2h0M236.6 319.6h0M227.1 322.2h0M228 322.9h0M253.8 314.9h0M254.2 314.7h0M212.8 320.8h0M211.6 320.7h0M213.3 326.1h0M212.9 325.9h0M223.1 330.8h0M222 331.7h0M220.6 315.2h0M220.6 315.3h0M253.6 324h0M254.5 324.9h0M238.4 338.2h0M238.5 338.3h0M246.8 326.3h0M247.7 326h0M217.5 331.7h0M218.5 330.7h0M236.8 323.3h0M237.6 323.4h0M231 316.7h0M231.3 317.7h0M247.1 329h0M246.4 328.8h0M235.6 315.4h0M236.4 315.9h0M251.6 324.3h0M251.7 324.9h0M236.3 336.7h0M236.8 337.5h0M236.4 317.2h0M236.8 316.9h0M248.8 337.4h0M248.2 336.5h0M219.3 325h0M218.3 324h0M255 312.6h0M256.3 311.8h0M216.1 312.3h0M216.4 311.5h0M229.3 334.9h0M230.5 335h0M252 326h0M251.2 326.7h0M218.8 315.4h0M219.7 316.4h0M255 321h0M254.3 320.8h0M224.5 330.1h0M224.9 329.6h0M252.5 328.5h0M252.7 329h0M247.9 327.6h0M248.6 328.3h0M247.6 327.5h0M248.3 327h0M216.9 312.2h0M217.6 312.1h0M236.6 317h0M235.7 315.9h0M227 327.8h0M227.3 327.5h0M234.1 317.6h0M233 317.6h0M249.3 330.7h0M249.1 330.3h0M249.2 321.9h0M249.4 321.9h0M236.9 328.7h0M236.9 329.8h0M225.1 307.5h0M226.1 307h0M254.7 312.9h0M255.7 312.5h0M233.9 321.1h0M235.1 320.1h0M224.7 319.9h0M224.2 320.8h0M229.7 316.4h0M230.2 316.9h0M233.6 316.8h0M232.8 316h0M250.1 324.1h0M251.3 323.2h0M220.5 320.9h0M219.6 320.7h0M244.2 336.1h0M245.1 336.5h0M230.8 324.4h0M232.1 325h0M217.6 328.2h0M217.5 329.1h0M254.5 324.7h0M254 323.7h0M222.3 325.6h0M223.5 326.4h0M227.3 324.4h0M227.8 324.4h0M223.3 331.9h0M222.6 331.3h0M229 317.8h0M227.9 316.9h0M248.1 329.9h0M248 330.8h0M230.2 335.7h0M231.3 335.8h0M250.2 333.1h0M250.7 333h0M220.8 326.6h0M221.5 327.1h0M247.1 335.7h0M248.4 336.4h0M211.9 321.8h0M212.4 322h0M235.5 322.4h0M234.6 322.3h0M235.6 319.7h0M235.4 318.9h0M221.3 332.5h0M220.5 332.3h0M216.8 320.7h0M215.9 321h0M236 321.1h0M235.6 322.2h0M248.6 330.3h0M249.1 330.3h0M222.4 325.6h0M222.3 325.4h0M217.3 331.2h0M216.5 332.2h0M255.5 314.2h0M256.6 314.6h0M225.5 310.2h0M225.9 309.5h0M227.3 325.8h0M227.4 325.1h0M217.2 327.8h0M216.7 328h0M222.8 325h0M221.9 324.4h0M211.9 321.2h0M212.4 321.2h0M215.1 327.8h0M216.1 327.1h0M219.1 322.4h0M218 323.4h0M212.9 315h0M213.1 314.3h0M216.2 320.6h0M217.4 320.6h0M212.7 315.1h0M212.2 315.2h0M227.7 332.6h0M227 333.4h0M208.8 322.4h0M208.2 321.4h0M231.5 317h0M230.6 316.5h0M224.3 308.6h0M225.4 309.4h0M238.6 338.3h0M239 338.2h0M231.3 324.1h0M230.1 324.8h0M224.5 310.8h0M223.5 310.2h0M252.3 330.5h0M252.2 331.3h0M226.3 330.4h0M225.5 329.5h0M249.9 334.9h0M250.9 333.8h0M253.1 328.4h0M252.6 327.8h0M234.7 333.4h0M234.5 334.3h0M251.6 331.2h0M252.4 331.3h0M218.9 323.9h0M217.8 323.2h0M216.3 323.5h0M215.8 324.2h0M209.3 323.9h0M210.4 322.9h0M226.9 308.6h0M226.5 309.6h0M223.7 335.6h0M222.8 334.7h0M247.9 327.4h0M247.3 328.3h0M241.3 324.6h0M240.7 325h0M237 338.9h0M236 339.3h0M223 325.1h0M222.1 325.3h0M231.1 328.9h0M214.4 330.1h0M214.2 331.2h0M224.6 310.3h0M224.3 311.3h0M251.2 318.2h0M252.3 319.3h0M219.9 330.3h0M218.9 329.8h0M255.2 313.2h0M255.7 314h0M237.1 333.5h0M236.5 334.1h0M253.7 321.7h0M253.6 320.6h0M225.6 332.6h0M224.5 331.5h0M216.1 325.7h0M215.4 326.6h0M232.1 315.1h0M232.6 315.9h0M253.8 324.9h0M254.9 324.6h0M249 323.1h0M249.5 323.4h0M241.6 329.7h0M242.1 328.8h0M248.9 336.5h0M249.9 335.7h0M237.6 323h0M237.5 323.4h0M238.1 318.5h0M238.7 319.2h0M224.6 314.8h0M224.1 314.4h0M257 311.6h0M257.6 310.6h0M210.4 324.7h0M211.4 324.3h0M235.7 316.8h0M235.4 316.4h0M254.2 323.7h0M254.8 323h0M247.6 330.4h0M246.6 329.5h0M241.8 323.3h0M240.9 323.6h0M256.5 315h0M257.8 313.9h0M241 316.6h0M240.9 316.3h0M220.1 328.5h0M219.6 328.2h0M250.2 320.8h0M249.2 320.6h0M256.5 309.5h0M255.9 308.5h0M255.4 320.5h0M254.5 321.4h0M239.1 324.1h0M239.6 325.1h0M235 328.7h0M235.8 329.3h0M235.9 326.9h0M235.2 326h0M228.2 319.9h0M229.4 320.3h0M248.9 328.6h0M249.4 327.8h0M246.2 327.9h0M246.9 328h0M228.7 324h0M227.7 323.4h0M249.9 325.5h0M251.1 325.7h0M231.5 315h0M230.4 314.1h0M216.8 320.9h0M217.5 320.6h0M213.1 324.7h0M213 323.9h0M218.6 314.8h0M217.8 314.8h0M237.3 322.9h0M237.1 322.2h0M254.8 318.4h0M253.9 318.3h0M225.5 307.6h0M224.5 306.6h0M248.6 331h0M248.6 330.1h0M219.4 333h0M220 333.6h0M234.1 315.8h0M234.6 316.8h0M230.8 324.6h0M229.9 324.4h0M253.2 319h0M253 318h0M223.7 310h0M224.7 309h0M223.3 321.8h0M224.5 322.2h0M229.3 321.3h0M230.6 320.4h0M230.1 324.7h0M212.3 322h0M213 322.2h0M221.3 331.9h0M221.6 331.8h0M228 310.6h0M228.9 310.8h0M231.9 321.1h0M232 320.9h0M247.9 325.3h0M248.2 325.5h0M251.7 331.5h0M252.8 332.1h0M213.9 326.7h0M213.5 327.2h0M230.6 317.3h0M229.9 317.3h0M237.2 332.7h0M237.3 333.2h0M217.5 312.7h0M216.4 312h0M254.7 329.5h0M253.9 329.8h0M212.9 323.5h0M212 323.7h0M231.9 321.8h0M232.9 321.6h0M224.8 325h0M224.1 325.3h0M231.4 335h0M231.1 334.9h0M250.9 326.3h0M250.1 326.7h0M250.2 334.7h0M249.8 335.8h0M247.9 322h0M247.9 322.4h0M235.3 332.6h0M236.4 333.7h0M216.7 327.7h0M215.4 328.6h0M232.8 315.6h0M231.8 316.6h0M216.2 325.2h0M217 324.7h0M256.8 312.5h0M257.4 312.7h0M240.5 329h0M240.4 329.3h0M222.2 325.5h0M222.1 325.9h0M216.6 311.1h0M217.1 310h0M214.8 313.7h0M215.1 314.2h0M237.7 328.4h0M238.6 328.5h0M218.2 332.1h0M218.3 331.4h0M255.3 310.7h0M254.5 311.5h0M215.2 324.4h0M214.1 325.3h0M231.1 321.7h0M230.2 321.5h0M253.2 325.8h0M253.5 324.8h0M252.6 329.8h0M252.4 330.5h0M224.7 321.9h0M224.4 321.2h0M240.3 338.4h0M239.2 339.4h0M244.1 333.5h0M243.1 333.9h0M218.6 320.3h0M218.9 319.8h0M219.8 313.5h0M219.9 313.9h0M257.7 310.1h0M256.9 309.5h0M228.6 316.2h0M229.6 315.5h0M221.1 321.1h0M221 321h0M217 322h0M217.7 322.8h0M230.8 317.6h0M231.5 317.8h0M248.1 330.9h0M248.3 330h0M254.3 316.2h0M254.4 316.1h0M229.2 319.8h0M229.9 319.6h0M218.3 317.7h0M217.3 317.5h0M249.9 323.5h0M250.7 323.5h0M228.4 326.4h0M228.9 325.4h0M227.5 311.1h0M226.8 310.6h0M215 326.6h0M215 325.8h0M251.9 316.8h0M253.1 316.5h0M223.6 328.7h0M222.4 328.1h0M257.3 310.1h0M257.3 310.4h0M248.2 324.9h0M249 324h0M234.7 315.2h0M235.9 315.9h0M211.1 322.2h0M211.1 322.5h0M221.7 327.1h0M221.2 326.3h0M216.1 325.7h0M214.8 326.7h0M222 325h0M223 324.9h0M222.3 315h0M222.5 314.9h0M256.9 314.1h0M257.4 313.2h0M235.1 321.2h0M235.8 320.5h0M226.3 309.7h0M226.6 309.9h0M215.9 327.3h0M216.8 327.5h0M217.1 325.4h0M216.2 326.1h0M229 316.2h0M228.6 316.4h0M239.9 327.8h0M240.7 328.8h0M217.3 325.4h0M216.3 325.3h0M234.4 335.4h0M233.9 336.1h0M240.1 324.6h0M239.8 325.5h0M246.4 328.3h0M247.2 328.1h0M253.5 319.1h0M254.2 319.5h0M225.4 307.7h0M224.4 307.2h0M240.8 323h0M239.8 323.8h0M212.5 325h0M212.2 324.6h0M213.5 323.6h0M214 324.7h0M221.8 321h0M220.9 321.5h0M255.2 325.4h0M254.5 326.1h0M218.8 322.7h0M219.4 323.3h0M246.9 327.2h0M247.1 326.4h0M218.8 312.3h0M219.8 311.5h0M254.7 311.9h0M254.9 312.9h0M222.3 322h0M221.7 321.9h0M226.1 331.2h0M226.5 331.6h0M227.4 327.2h0M227 327h0M254.1 330h0M255.1 330.5h0M251.5 329.1h0M250.6 329.5h0M222.6 315.8h0M223.6 316h0M239 324.1h0M240 323.6h0M247.5 328h0M246.9 328.8h0M236.5 319.8h0M235.9 319h0M252 318.7h0M251.1 319.6h0M220.8 314.3h0M221.7 313.6h0M220 311.1h0M220.6 310.4h0M219.1 314h0M219.4 312.9h0M233.4 317.6h0M233.6 318.1h0M219.2 332.2h0M219.2 332.4h0M228.3 333.7h0M227.3 333.6h0M253.2 329.8h0M253.9 329.6h0M236.2 328.4h0M236.9 328.6h0M251.1 326.7h0M251.9 327.2h0M227.6 326.4h0M227.1 327.1h0M222 314.2h0M222.8 314.1h0M232.5 315.1h0M233.1 314.9h0M209.3 322.6h0M209.5 322.3h0M235.4 316.7h0M235.3 316.3h0M213.5 323.1h0M214.5 323.4h0M221.4 320.8h0M221.7 320.9h0M241.9 323.8h0M241.8 323.1h0M231.7 324.6h0M232.1 324.5h0M242 324.8h0M241.6 324.8h0M248.3 334.5h0M247.4 334.8h0M213.9 313.8h0M214.6 313.6h0M231.9 324h0M231 325h0M214.2 314.3h0M214.5 313.9h0M255.2 312.3h0M254.1 312.5h0M252 331.1h0M252.5 330.6h0M232.5 318.5h0M232.2 317.6h0M238.9 319.3h0M238.2 319.4h0M233.2 331.1h0M234.2 331h0M225.5 324.2h0M226.7 323.7h0M251.9 320.7h0M250.9 321.4h0M227 323.9h0M226.7 323.5h0M234.7 328.3h0M234.5 328.5h0M222.5 330h0M221.8 329.1h0M245.9 328h0M246.1 328.3h0M250.5 333.7h0M250.7 332.9h0M217.6 320.4h0M218.5 320.3h0M226 333.8h0M226.1 334.6h0M236.8 333.4h0M235.9 333.4h0M244.7 330h0M244.5 330.3h0M213.7 323.2h0M213 322.7h0M245.9 337.4h0M245.2 337.5h0M225.3 322.7h0M224.8 323.6h0M225.6 318.3h0M226.6 318.8h0M257.5 307.5h0M257.2 308.2h0M211.3 323.1h0M211.5 323.7h0M227.8 329.4h0M229 328.6h0M214.2 323.7h0M214.8 324.6h0M227.2 328.7h0M226.9 328.4h0M233.4 332.8h0M232.2 333.7h0M235.5 331.3h0M234.7 330.3h0M252.7 317.9h0M251.6 317.9h0M212.9 314.4h0M213.3 315.2h0M235.6 319.5h0M236.1 318.6h0M233.3 331.3h0M234.5 332.1h0M219.6 325.3h0M220.4 326.2h0M226.6 308.4h0M227.5 308.8h0M226.3 315.9h0M227 314.9h0M223.8 335.1h0M225.1 334.1h0M255.7 309.5h0M255.5 309.7h0M234.3 318.4h0M234.3 318.1h0M208.5 322.4h0M208.6 322h0M218.4 314.1h0M218.8 313.1h0M248.9 332.8h0M248.5 333.2h0M233.9 319.4h0M233.8 318.4h0M220.1 331.4h0M219.9 332.3h0M224.9 311.6h0M225 312.1h0M255.2 318.6h0M254.9 319.6h0M221.3 332.1h0M221.4 332.8h0M237.8 322.1h0M238.1 322.8h0M229.3 324.6h0M229 325.5h0M215.4 324.9h0M216.5 324.6h0M213.8 322.9h0M213.4 323.8h0M253.4 318.8h0M254.2 319h0M250.4 329.3h0M250.5 328.2h0M236.1 331h0M236.3 330h0M231.9 336.4h0M232 335.8h0M248 323.8h0M248.3 323h0M253.2 331.5h0M252.8 332.1h0M235.4 338.1h0M235.6 337.3h0M256.6 309.6h0M257.9 308.5h0M246.1 327.6h0M245.9 328.1h0M227.9 309.8h0M228.1 310.2h0M240.2 327.2h0M241.3 326.3h0M251.8 327h0M251.8 326.4h0M229.4 324.4h0M229.6 324.3h0M225.8 335.4h0M226.1 336h0M255.5 325.5h0M255.5 325.3h0M235.9 331.5h0M236.1 330.7h0M212.7 323.7h0M213.7 323.4h0M215 329.9h0M215 330.7h0M253.5 315.8h0M254.4 316.9h0M220.2 317.9h0M220.7 318h0M214.8 313.7h0M214.6 314.3h0M217 311.4h0M217.3 310.3h0M249.2 320.2h0M249.4 320.5h0M233.7 330.6h0M233.4 331.3h0M254.4 323.3h0M255 324.1h0M247.2 324.1h0M246.7 324.4h0M220.2 330.2h0M220.4 329.9h0M223.8 311.5h0M223.3 310.6h0M234.4 331.7h0M235.3 331.2h0M249.1 321.3h0M248.7 320.8h0M242.5 329.6h0M242.7 329.6h0M246.7 325.9h0M247.7 325h0M252.1 331.1h0M251.6 331.8h0M228.7 316.5h0M229.5 315.5h0M235.1 334.3h0M235 335.3h0M219.9 332.2h0M221.2 331.8h0M234 322.4h0M234.6 322h0M221.4 323.9h0M220.3 324.8h0M214.5 318h0M213.5 319h0M247.8 327.1h0M247.7 327.8h0M233.3 317.7h0M233.3 318.6h0M221.2 314.8h0M221.8 314.1h0M233 325.1h0M230.8 316.3h0M231.1 315.4h0M231.8 319.7h0M230.7 319.5h0M233.8 319.9h0M232.6 319.5h0M214.5 317.6h0M214.8 317h0M252.9 319.9h0M253.7 319.4h0M218.5 329.6h0M218.2 329.4h0M237.6 322.3h0M238.5 321.3h0M242.4 329.7h0M243.2 328.8h0M223.4 329.9h0M224.6 330.1h0M251.6 319.5h0M252.3 319.5h0M250.7 331.3h0M251.2 331.7h0M234.2 334.7h0M233.3 334h0M216.6 330.3h0M217.6 329.7h0M223.9 328.4h0M223.2 327.4h0M242.3 324.4h0M242.8 325.1h0M253.8 325.3h0M252.6 326.1h0M222.4 325.8h0M221.4 325.8h0M239.8 336.3h0M239.8 335.8h0M218.5 312.3h0M218 312.3h0M235.2 330.4h0M235.9 329.9h0M231.9 323.4h0M231.2 324.5h0M232.7 334.4h0M232 333.6h0M218.3 325.1h0M219.4 326.1h0M235.3 325.1h0M234.6 325.2h0M254.9 324h0M255.8 323.7h0M218.9 326.5h0M218.5 325.4h0M229.1 317h0M228.1 317.3h0M226.5 319.3h0M226.5 320.1h0M255.6 321.6h0M255.4 321.1h0M217.4 311.2h0M217.1 310.4h0M245.7 332.2h0M245.6 332.6h0M223.7 310.7h0M222.9 310.9h0M217 329.4h0M218.3 329.8h0M217 324.9h0M216.5 325.3h0M243.7 335.3h0M242.7 334.4h0M234 320.1h0M234.8 320.6h0M235.5 331.8h0M235.8 331.9h0M224.5 322.2h0M224.1 322.9h0M218.3 322.6h0M218.3 323.3h0M220.6 314.3h0M221.2 313.9h0M242.7 336.1h0M243.5 335.8h0M235.7 319.8h0M236 320.5h0M228.3 317.7h0M229.4 318h0M223.4 310.2h0M222.7 309.5h0M254.8 316.3h0M255.7 315.9h0M234.6 318.1h0M233.7 318.3h0M248.5 333.2h0M248.3 333.7h0M212 321.8h0M211.2 321.8h0M223.5 309.1h0M224.7 308.4h0M221.5 320.7h0M221.3 320.5h0M252 318.6h0M251 317.8h0M255.8 315h0M255.3 315.1h0M236.1 328.6h0M235.1 328.9h0M254.4 323.8h0M254.1 323.4h0M243.9 331h0M244.8 331.5h0M240.6 335.9h0M240.5 335.4h0M231.8 322.2h0M231.8 322.6h0M224.5 315.6h0M225.1 316h0M252 316.3h0M250.8 315.6h0M228.9 328.4h0M230.2 328.5h0M235.3 337.8h0M235.3 337h0M249 329.4h0M249.7 330.1h0M246.7 328.7h0M246.2 328.2h0M253.7 312.7h0M252.6 312.3h0M210.4 324.5h0M210.5 324.4h0M243.5 335.6h0M242.2 334.8h0M237 317.2h0M236.3 317.9h0M216.6 312.5h0M217.8 313.3h0M219.2 329.2h0M219.2 328.9h0M240.9 323.6h0M241.9 324.2h0M222.7 324.8h0M223.1 325.3h0M237.6 334h0M238.7 334.1h0M227.6 321.6h0M226.9 322.1h0M253.9 327.9h0M255 327.3h0M217.8 332.2h0M217.6 332.7h0M219.7 328.7h0M220.5 327.8h0M253.7 324.8h0M254.5 324.2h0M213.1 322.8h0M212.1 321.8h0M237.2 329.1h0M237.1 329h0M240.8 336.8h0M240 337.2h0M229.5 321.9h0M228.7 322.9h0M252.5 331h0M253.8 330.6h0M236.9 335.4h0M235.7 334.4h0M235.7 338.6h0M235.8 338.2h0M249.2 330.5h0M250 330.3h0M241.1 337.6h0M240.5 336.9h0M250.9 319.7h0M252.1 320.2h0M219.5 328.2h0M220 327.6h0M242.3 336.1h0M242.2 336.6h0M241.7 339.2h0M242.1 338.7h0M244.2 337.1h0M243.8 337.8h0M227 311.2h0M225.8 311.5h0M223.2 315.9h0M223.8 315.9h0M250.2 322h0M250.3 322.9h0M212.2 328h0M211.8 328.5h0M245.6 329.2h0M246.2 329.7h0M253.5 330.5h0M252.4 331h0M250.7 327h0M250.4 326.2h0M219.8 323.2h0M220.9 322.7h0M237.4 317.8h0M237.3 317.4h0M226.2 320.1h0M225.2 319.7h0M220.8 326.8h0M221.1 327.1h0M251.6 324.7h0M252.2 324h0M251.6 317.4h0M251 318.1h0M218.9 312.3h0M219 312.8h0M215.1 330.1h0M215 329.9h0M218.7 312.1h0M217.5 312.8h0M257.8 309.8h0M258.8 310.3h0M248.6 330.2h0M247.9 330.5h0M248.2 330.7h0M248.7 330.2h0M224.5 329.2h0M224.1 330.1h0M248 334.5h0M247.4 334.7h0M253.6 328.2h0M252.4 327.2h0M227.3 319.5h0M226.1 319.1h0M232.3 323.6h0M233.4 323.8h0M231.2 322.7h0M231.2 321.9h0M250.1 322.3h0M250.2 321.5h0M217.4 325.5h0M216.3 325.1h0M216 311.8h0M215.3 312.4h0M246.8 331.2h0M247 331.5h0M227.9 320.1h0M227.3 319.8h0M230.2 317.5h0M229.2 317h0M218.9 313h0M220.2 313.3h0M230.4 335.7h0M230 336h0M215.1 325.1h0M216.2 325.7h0M231.9 333.5h0M232 332.8h0M213.6 326.6h0M212.4 325.7h0M254.4 322.3h0M255.2 322.9h0M228.2 309.3h0M228.7 309.8h0M218.3 329.4h0M217.4 329.6h0M233.1 315.2h0M231.8 314.1h0M253.3 320.2h0M253.6 319.2h0M235.4 315.1h0M235.2 314.8h0M229.1 323.6h0M230.1 323.2h0M245 329.6h0M244.3 330h0M230 329.2h0M229.1 330.3h0M228.7 333.5h0M229.8 334.6h0M236.1 328.2h0M236.4 327.5h0M211.8 323.5h0M211.1 323.9h0M215.7 324.2h0M215.5 324.7h0M253.3 324.9h0M252.5 325.1h0M255.3 320.5h0M256.2 320h0M233.6 322.1h0M234.4 321.3h0M248.9 332.2h0M249.3 331.3h0M227.9 309.4h0M227.2 308.4h0M226 324h0M225.2 324.1h0M234.8 321.7h0M235.6 322.4h0M232.5 316.6h0M233.5 316h0M253.8 316.1h0M254.9 315.9h0M226.4 322.5h0M226.8 323h0M224.1 329.8h0M223.5 329.3h0M248.1 330.8h0M247.9 330.5h0M246.5 327.8h0M247.1 328.6h0M229.4 318.8h0M229.8 317.8h0M226.7 321.7h0M227.5 322.2h0M253.5 325.4h0M254.7 324.7h0M256 312.5h0M257.1 312.2h0M216.2 323.1h0M216.3 322.5h0M216.1 324.8h0M216.2 324.3h0M248.8 335.5h0M249 335.3h0M242 337.2h0M241.3 337.5h0M214.1 327.4h0M213.6 326.4h0M229.4 328.9h0M228.7 328.8h0M227 336.4h0M227.3 335.4h0M225.7 319.1h0M226.7 318.2h0M237.4 329.9h0M238.5 328.8h0M216.7 328.8h0M216.2 328.4h0M224.6 308.1h0M225.1 307.2h0M228.7 317.8h0M227.9 318.5h0M217.9 332.1h0M218.9 331.1h0M248.6 328.7h0M247.5 328.4h0M253.6 326.9h0M253.2 327.3h0M220.4 322.3h0M221.5 322.6h0M226.6 311.1h0M226.2 310.5h0M239.4 330.1h0M238.2 329.1h0M221 331.3h0M221.9 332.1h0M253.5 316.3h0M253.2 315.7h0M223.3 316.1h0M224.3 315.5h0M215.4 317.3h0M215.1 318.1h0M229.5 317.3h0M228.3 317h0M215.5 317.5h0M214.7 317.4h0M247 332.4h0M248.2 333.4h0M218 314.1h0M218.7 314.8h0M234.2 333.1h0M233.9 333.7h0M249.2 334.9h0M249.8 335.8h0M226.8 327.3h0M226.4 328.1h0M229.3 322.7h0M228.5 322.9h0M251.7 317.1h0M252.8 317.6h0M234.7 320.6h0M235.4 319.9h0M233 329.3h0M232.6 329.4h0M221.1 323.5h0M221.8 323h0M217.4 329.2h0M217.5 329.8h0M252.2 330.4h0M252.7 329.9h0M218.8 313.6h0M217.8 313.3h0M241.5 329.3h0M240.7 329.4h0M215.5 325h0M215.5 324h0M236.6 329.5h0M237.7 330.4h0M219.4 322.3h0M218.6 321.8h0M249.6 328.5h0M250.8 327.4h0M234.2 329.3h0M233.3 329h0M242.8 331.3h0M243.7 330.4h0M236.2 319.6h0M236.3 320.1h0M226.5 328.8h0M226.8 328.7h0M253.8 313.3h0M254.2 313.7h0M220.5 327.2h0M220.5 326.7h0M250.1 328.4h0M250.4 329.1h0M250.6 320.5h0M249.5 320.8h0M248.4 331.7h0M248.1 331h0M228.3 316.4h0M227.9 315.5h0M253.2 328.7h0M254 328.9h0M231.5 315.9h0M231.3 316.7h0M237.3 324.2h0M238.2 323.9h0M213.6 313.9h0M212.4 314.1h0M220.7 310.6h0M220.1 310.8h0M220.6 323.8h0M219.6 324.4h0M247.1 334.7h0M248 334h0M217.2 321.3h0M218 320.4h0M219.8 325.2h0M218.8 325.3h0M227.6 311.4h0M226.9 311.1h0M242.2 335.2h0M241.9 335.8h0M235.7 327.8h0M236.4 328.7h0M247.7 329.5h0M247.1 329h0M218.5 328.9h0M219.4 328.7h0M234 319.2h0M233 319.2h0M232.7 322.9h0M232.1 323.2h0M258 308h0M257.7 307.2h0M248.6 321.4h0M249.3 322.2h0M225.4 319.1h0M224.5 318.5h0M236.3 324.4h0M236.3 323.7h0M257.1 313h0M258.3 312.9h0M218.3 312.2h0M217.2 311.6h0M240.2 333.4h0M239.5 332.9h0M256.3 309.9h0M256.5 310.7h0M231 323.4h0M230.7 323.5h0M227.7 326.4h0M228.8 326.4h0M232.1 317.5h0M231.8 318.3h0M231.9 315.4h0M232.3 315.2h0M213.9 329h0M214.7 328.4h0M250.3 319.2h0M249.2 318.6h0M223.3 309.3h0M222.9 310.1h0M216.1 325h0M215.5 324.1h0M216.4 312.4h0M215.4 313.1h0M238.3 319.8h0M238.3 320.8h0M223.6 333.9h0M223.1 333.1h0M218 323.8h0M217.1 324.3h0M216.4 311.4h0M216.4 312.1h0M229.6 317.1h0M230.8 317.1h0M214.1 315h0M213.1 315.8h0M254.5 312.9h0M255.5 313.1h0M250.9 316.9h0M250.9 317.5h0M241 316.8h0M240.7 315.7h0M247.4 332.6h0M248.6 332.5h0M228.6 316.3h0M228.2 317.2h0M253.8 314.9h0M254.8 314.8h0M212.6 324.1h0M213.2 325.1h0M254.5 315.8h0M254.5 315.8h0M253 314h0M254.2 313.2h0M214.7 313.2h0M215.2 312.5h0M220.8 310.4h0M220.4 311h0M237.9 335.2h0M238.5 336.2h0M249.2 327.8h0M250.1 328h0M249.2 332.6h0M248.9 331.7h0M235.6 332.1h0M236.6 332.7h0M220.3 310.7h0M219.8 310.3h0M244.2 336.9h0M245.4 336.5h0M255.6 309.5h0M254.7 308.9h0M240.4 324.8h0M240.9 325.4h0M218.5 332.1h0M217.9 332.5h0M215.5 326.9h0M215.8 327.3h0M250.5 327.3h0M249.6 328h0M224.7 310.7h0M223.7 309.8h0M218.7 329.4h0M218.9 330.3h0M251.5 318h0M252 318.8h0M224.4 316.5h0M225.3 316.9h0M240.4 332.5h0M241.5 333.5h0M232.5 319.4h0M233.3 318.6h0M249.2 324.4h0M248.7 324.3h0M240.1 331.1h0M240.2 331.1h0M255 316.4h0M256 316.7h0M250.2 333.7h0M251.3 334.7h0M218.8 315h0M217.7 314.5h0M233.6 336.7h0M234.9 335.8h0M253.6 324.4h0M253.2 323.6h0M254.7 322.7h0M255.1 322.6h0M254.7 325.6h0M255.7 325.2h0M209.2 322.1h0M209.5 323.2h0M254.4 323.7h0M254.2 323.5h0M247.2 334.6h0M248.5 334.8h0M232.2 338.2h0M230.9 338.3h0M226.2 325.3h0M225.2 324.3h0M222 329.9h0M223 330.5h0M228.8 312.7h0M228.5 313.6h0M222.7 321.5h0M222 320.5h0M210.9 326.4h0M209.8 326.4h0M224.3 308.4h0M223.7 308.7h0M219.5 311.1h0M220.4 310.3h0M241.1 316.5h0M241.7 315.8h0M232.8 337h0M233.8 337.1h0M215.5 326.4h0M215.2 326.1h0M237.4 330.5h0M236.7 331h0M227.9 325.1h0M227.8 324.3h0M247.9 333.9h0M247.3 333.6h0M235.8 327.1h0M226.1 320.8h0M226.2 321.2h0M253.3 329.7h0M252 330.1h0M243.8 330h0M243 330h0M228.7 321.5h0M229.5 321.1h0M233.9 316.4h0M234.7 315.5h0M236.9 323.8h0M236.4 322.8h0M234.4 317.7h0M233.5 318.1h0M241.6 329.7h0M242.7 330.3h0M231.7 317.9h0M231 318.1h0M251.8 331.5h0M252.2 331h0M224.6 316.2h0M223.5 317h0M256.5 310.9h0M257.7 310.5h0M250.3 319.6h0M249.2 320.3h0M233.7 321.4h0M232.9 320.4h0M235.4 338.6h0M236.7 338h0M223.2 310.5h0M222.5 310.8h0M254.5 329.4h0M255.1 329.7h0M224.2 309.8h0M223.4 310.6h0M244 337.3h0M243.7 336.6h0M220.6 322h0M221.3 321.5h0M250.3 323.4h0M250.1 322.9h0M219.2 329.1h0M219.1 329.7h0M243 337.3h0M242 338.4h0M253.7 315.8h0M253.7 316.5h0M216.9 316.9h0M216.8 316.6h0M220 310.6h0M220.2 309.7h0M223 310.1h0M222.2 309.3h0M235 325.3h0M234.2 324.8h0M233.5 322.9h0M232.7 323.8h0M224.7 315.6h0M223.6 315.1h0M258.3 306.5h0M257.1 306.7h0M225.3 330.3h0M225 330.9h0M228.1 309.7h0M228.4 310.2h0M254.3 325.5h0M254.9 325h0M228.6 333.9h0M227.5 333.4h0M216.2 330.6h0M215.4 331.1h0M224.2 309.3h0M225 308.3h0M235.5 327.8h0M235.7 327.9h0M231.5 316.3h0M231.3 315.8h0M246.4 337.3h0M247.7 337.9h0M252.6 321.8h0M253.3 322.5h0M224.8 316h0M225.9 316.9h0M218.3 318.3h0M219 318.6h0M245.4 332.8h0M244.2 332.4h0M252.7 329.9h0M252.3 330.5h0M255.1 318.4h0M253.9 318.9h0M225.6 308.4h0M225.4 307.5h0M232.4 337.3h0M232.1 336.8h0M244.2 338.1h0M244.6 337.5h0M251.7 316.8h0M251 317.4h0M227.2 320.7h0M227 321.3h0M251 331.1h0M250.1 330.9h0M255.5 318.2h0M254.6 317.6h0M217.3 329.1h0M217.3 329.9h0M208.9 322.6h0M208.9 323.4h0M224.9 324.9h0M224.5 324h0M229.5 317.4h0M230.3 316.9h0M229.6 328.1h0M212.7 323.5h0M213.9 323.6h0M241.4 338.5h0M240.3 338.2h0M234.8 318.4h0M234 318.5h0M219.6 321.3h0M218.6 320.8h0M235.9 320.9h0M235.3 319.8h0M244.7 336.5h0M245.5 336.2h0M256 312h0M256.5 312.5h0M239 335.4h0M239.6 335.5h0M252.9 330.3h0M252.1 330.5h0M212.9 325.7h0M212.5 325.2h0M249.5 320.2h0M250.3 321h0M217.8 329.3h0M218.8 330.2h0M250.8 324.8h0M251.1 325.5h0M225.5 331.1h0M225.8 332h0M256.6 309.1h0M255.8 308.4h0M227.7 309.1h0M226.6 308.8h0M213.4 323.7h0M214.6 323.9h0M209.5 322.4h0M208.9 322.7h0M219.4 322.4h0M218.9 322.6h0M215.9 324.4h0M216.5 324.9h0M218.3 322.4h0M218.6 322.2h0M219.7 323.2h0M218.9 322.3h0M251.2 331.3h0M250.2 331h0M229.3 329.6h0M230.2 330.4h0M229.2 324.6h0M228.4 325.1h0M223.3 310.5h0M222.9 310.2h0M235.7 329.3h0M236.7 329.4h0M238.2 321.1h0M238.3 322h0M210.1 322.4h0M209.5 321.9h0M219 323h0M218 322.5h0M248.7 326.3h0M249.3 325.4h0M233.9 321.2h0M233.9 320.4h0M230.4 334.2h0M230.4 333.3h0M254.9 312.4h0M255.9 311.8h0M216.2 319.5h0M215.3 319.7h0M236.5 315.8h0M236.1 316.7h0M252.2 324.2h0M252.6 325h0M255.8 308.4h0M256.1 308.9h0M237.3 317.7h0M236.6 317.7h0M229.5 324.9h0M228.8 325.3h0M233 317.8h0M232.8 318.8h0M242.9 330.8h0M243.2 331.3h0M234.6 330.4h0M233.6 331.5h0M223.5 310.6h0M224.2 310.1h0M213.4 324h0M213.9 324.4h0M253.3 326.6h0M252.9 326.1h0M254.8 315.8h0M253.8 315h0M218.3 325.2h0M217.9 324.8h0M228.3 311h0M227.5 311.8h0M228.5 335.9h0M227.8 335.7h0M209.8 322.9h0M208.8 322.7h0M252.5 321.3h0M251.3 320.7h0M220.5 332.9h0M221.4 333.1h0M233.4 332.8h0M233.7 332.9h0M249.9 324.3h0M250.2 323.6h0M249.4 327.4h0M248.2 327.5h0M229.1 319.5h0M228.4 318.5h0M225 311.2h0M225.9 311.5h0M219.7 321.8h0M220.4 321.3h0M221.1 325.3h0M220.3 325.9h0M245.2 327h0M244.4 326.6h0M233.1 316.7h0M234.2 317h0M224.1 309.9h0M224.8 310.6h0M242.8 328.1h0M241.8 327.3h0M228.4 331.4h0M227.7 332.2h0M249.9 322.4h0M251 321.6h0M222.3 310.7h0M222.4 309.8h0M213.4 315.7h0M213.4 316.4h0M232.2 324.5h0M232.1 324h0M217.9 320.6h0M217.1 321.2h0M226.5 327.6h0M226.6 326.6h0M223.2 309.8h0M222.5 308.9h0M220.5 322.3h0M220.4 321.5h0M246.9 325h0M246.6 324.2h0M237.1 321.6h0M238.3 322.1h0M231.7 320.1h0M230.6 320.6h0M218.8 311.7h0M217.8 312.3h0M232.8 323.8h0M233 324.4h0M226.7 309.7h0M226.6 310.2h0M220.2 332h0M219.8 332.4h0M223.3 314.4h0M222.7 313.7h0M218.4 313.2h0M218.9 314.2h0M251.5 317.7h0M251.8 317.1h0M215.8 324.4h0M215.1 323.8h0M215.6 324.6h0M215.5 324.3h0M251.3 331.7h0M250.8 331.9h0M244.6 330.6h0M244.5 329.9h0M218.8 323.5h0M217.7 323.8h0M243.4 327.6h0M242.5 327.9h0M235 318.5h0M234 318.3h0M246.8 337.5h0M246.3 338.3h0M253.1 329.9h0M252.2 330.7h0M255.1 311.5h0M254.6 310.9h0M225.1 320h0M225.1 320.8h0M249.3 334h0M249.5 333.3h0M224.4 321.9h0M225.5 321.3h0M257.2 306.6h0M258 307.2h0M213.6 321.2h0M214.8 322.2h0M212.7 325.6h0M213 326h0M224.8 325.1h0M225.7 325.9h0M235.4 316.1h0M234.9 316.8h0M243.6 329.6h0M243.8 329.9h0M226 329.2h0M225.6 329.4h0M220.4 315.8h0M220.2 315.3h0M228 309.1h0M228.3 308.5h0M220.3 318.9h0M220.1 319.7h0M216.6 324.3h0M217.2 323.4h0M234.3 324.6h0M227 336.5h0M226.3 335.5h0M254 315.2h0M254.9 314.8h0M255.6 313h0M254.5 312.7h0M246 338.3h0M246.3 337.9h0M255.9 317.7h0M254.6 317.4h0M248.1 328.9h0M248.5 329.5h0M215.8 311.4h0M216.9 312.4h0M255 313.3h0M255.1 312.8h0M230.9 315.7h0M230.5 316.6h0M220.1 329.3h0M220.4 329.4h0M253.1 325h0M253.9 324.8h0M239.2 328.2h0M238.9 328.4h0M236.1 318.1h0M235.2 318.8h0M217.4 330.1h0M218.1 329.6h0M250.1 329.2h0M250.6 328.9h0M252.4 317.9h0M251.5 316.9h0M247.6 325.8h0M247.1 325.5h0M240.2 334.2h0M241.1 334.4h0M227.5 330.6h0M228.6 331.1h0M224.1 333.3h0M223.6 333.2h0M218.7 331.2h0M219.7 330.6h0M250.4 332.3h0M249.5 331.7h0M255.4 324.1h0M256.3 324.9h0M223.3 316.3h0M222.7 317.3h0M228.6 327.3h0M228.2 327h0M229 312.3h0M228.5 313.2h0M232 337h0M231.6 337.7h0M248.6 335.7h0M248 336.3h0M212.9 315.2h0M214 315.1h0M235.9 318.3h0M236.4 319h0M234.1 325.3h0M226.3 318.9h0M225.8 318h0M251.8 325.3h0M250.7 325.4h0M234.1 319.7h0M233.1 319.5h0M221 330.6h0M221.4 330.4h0M217.4 320.4h0M218.1 319.8h0M233.1 329h0M224.2 322.6h0M223.5 322.5h0M233.4 319.9h0M232.1 320.3h0M238.5 329.7h0M237.8 330.7h0M219.5 322.7h0M218.3 323h0M237.9 321.3h0M237.6 321.1h0M215.4 321.5h0M216.2 321.3h0M248.6 330h0M249.1 330.8h0M247.5 326.7h0M248.5 327.3h0M239 318.4h0M240.2 319.3h0M248.2 326.2h0M248.1 325.4h0M253.3 316.7h0M252.3 315.9h0M218.6 329.7h0M219 329.7h0M255.2 317.1h0M255.1 316.4h0M245.9 331.3h0M245.6 330.8h0M233.6 322.5h0M232.5 322.5h0M222.1 329.6h0M221.3 329.3h0M222.9 316.2h0M222.7 316h0M227.6 323.6h0M226.9 324.1h0M228.3 330.6h0M229.5 330.9h0M253 323.5h0M254.1 324.3h0M222.1 331h0M220.8 331.5h0M223.1 328.8h0M224.3 328.3h0M227.2 310h0M227.8 310.1h0M244.5 331h0M245.8 331h0M211.2 326.4h0M212.2 326.3h0M247.2 324.4h0M246.1 324.5h0M239.4 319.8h0M239.1 318.9h0" stroke="#d5d5d5" stroke-width="2.7" stroke-linecap="round"/>
<path d="M233 318.7h0M232.3 316.6h0M254.7 315.9h0M241.2 336.5h0M208.3 322.6h0M253.1 326h0M250.6 323.9h0M239.4 318.2h0M253.3 322.4h0M248.3 327h0M227.3 327.5h0M252.4 331.3h0M252.8 332.1h0M231.5 317.8h0M226.6 318.8h0M252 316.3h0M250.7 327h0M249.2 334.9h0M256.3 309.9h0M231 323.4h0M226.2 321.2h0M242.7 330.3h0M255.8 308.4h0" stroke="#8675c7" stroke-width="2.2" stroke-linecap="round"/>
<path d="M249.6 319.7h0M255.5 322.4h0M252 321.2h0M248.8 319h0M238.4 316h0M254.8 314.9h0M246.4 327h0M246.8 328.7h0M249.6 326.8h0M234.6 322.3h0M235.4 318.9h0M214.4 330.1h0M224.6 310.3h0M238.1 318.5h0M235.7 316.8h0M241.8 323.3h0M246.2 327.9h0M249.9 325.5h0M222.1 325.9h0M226.6 309.9h0M233.9 336.1h0M250.9 321.4h0M238.1 322.8h0M248.3 323h0M255.6 321.6h0M245.7 332.2h0M224.5 322.2h0M253.6 328.2h0M253.3 324.9h0M227 336.4h0M228.7 317.8h0M232.7 322.9h0M252.2 331h0M243.7 336.6h0M235.7 327.9h0M251 317.4h0M230.4 334.2h0M249.9 324.3h0M253.1 329.9h0M249.3 334h0M224.8 325.1h0M237.8 330.7h0M239.1 318.9h0" stroke="#c5badf" stroke-width="2.2" stroke-linecap="round"/>
<path d="M251.1 329.1h0M254.1 330.1h0M226.7 308h0M226.1 307h0M239.1 324.1h0M236.4 333.7h0M252.5 330.6h0M250.7 332.9h0M234.6 318.1h0M255.6 309.5h0" stroke="#7365be" stroke-width="2.2" stroke-linecap="round"/>
<path d="M255.2 315.7h0M225.3 309.3h0M224.8 333.4h0M243.5 330.4h0M257.2 307.6h0M254.7 328.2h0M250.6 329.1h0M251.3 323.2h0M247.6 330.4h0M250.2 320.8h0M256.5 309.5h0M255.4 320.5h0M248.6 331h0M253.1 316.5h0M257.4 313.2h0M254.9 312.9h0M227.1 327.1h0M255.5 325.3h0M254.4 316.9h0M254.4 323.8h0M249.2 330.5h0M250.1 322.3h0M248.9 332.2h0M234.2 329.3h0M247.1 334.7h0M249.2 332.6h0M251.5 318h0M253.3 322.5h0M225.9 316.9h0M252.9 330.3h0M235.7 329.3h0M248.7 326.3h0M232.2 324.5h0M232.8 323.8h0M251.5 317.7h0M246.8 337.5h0M217.4 320.4h0" stroke="#aa9cd4" stroke-width="2.2" stroke-linecap="round"/>
<path d="M246.7 327.9h0M225.5 332.2h0M234 336.6h0M227.1 308h0M234 321.7h0M248.7 337.2h0M253 330h0M232 319h0M225.7 308.2h0M248.4 329.5h0M235.2 336.3h0M248.9 330.8h0M248.2 336.5h0M235.1 320.1h0M248 330.8h0M249.1 330.3h0M225.9 309.5h0M230.1 324.8h0M255.2 313.2h0M232.1 315.1h0M254.2 323.7h0M248.9 328.6h0M225.5 307.6h0M240.4 329.3h0M235.9 315.9h0M241.8 323.1h0M231 325h0M254.1 312.5h0M233.4 331.3h0M218.5 329.6h0M242.4 329.7h0M246.7 328.7h0M252.5 331h0M250.9 319.7h0M250.2 322h0M233.1 315.2h0M255.3 320.5h0M233 329.3h0M236.2 319.6h0M247.4 332.6h0M235.6 332.1h0M250.1 322.9h0M233.9 321.2h0M229.5 324.9h0M221.1 325.3h0M226.5 327.6h0M254.5 312.7h0M248 336.3h0" stroke="#b9acda" stroke-width="2.2" stroke-linecap="round"/>
<path d="M238.3 322.1h0M242.6 339.3h0M250.8 325h0M246.8 338.5h0M224.4 321.2h0M239.8 325.5h0M224.4 307.2h0M246.9 328.8h0M229.5 315.5h0M233.3 318.6h0M231.8 322.2h0M245.6 329.2h0M229.4 318.8h0M229.5 321.1h0M242 338.4h0M227 321.3h0" stroke="#dcd6ea" stroke-width="2.2" stroke-linecap="round"/>
<path d="M246.8 330.4h0M233.1 321.8h0M241.5 335.2h0M236.6 319.6h0M248.3 330h0M247.1 326.4h0M227 327h0M226.9 328.4h0M252 318.6h0M224.5 315.6h0M235.7 338.6h0M231.9 333.5h0M253.3 320.2h0M233.6 322.1h0M247.2 334.6h0M219.5 311.1h0M233.5 318.1h0M257.7 310.5h0M249.2 320.3h0M225 330.9h0M251.5 316.9h0M248.1 325.4h0" stroke="#d0c8e4" stroke-width="2.2" stroke-linecap="round"/>
<path d="M251.6 315.5h0M251 324.9h0M222.7 317.4h0M225.5 324.9h0M252.3 324.5h0M247 328.2h0M219.4 330.4h0M236.8 316.9h0M252.7 329h0M233 317.6h0M250.7 333h0M250.9 333.8h0M226.5 309.6h0M247.9 322.4h0M257.4 312.7h0M251.6 317.9h0M254.2 319h0M249.4 320.5h0M248.7 320.8h0M251.6 331.8h0M248.5 333.2h0M240.8 336.8h0M228.7 333.5h0M248.6 328.7h0M249.6 328.5h0M242.2 335.2h0M250.9 316.9h0M249.2 327.8h0M250.2 333.7h0M253.9 318.9h0M250.8 324.8h0M256.6 309.1h0M233 317.8h0M253.3 326.6h0M228.3 311h0M251.8 325.3h0M233.1 329h0M240.2 319.3h0" stroke="#9889ce" stroke-width="2.2" stroke-linecap="round"/>
<path d="M251.7 329h0M251.2 318.2h0M226.7 309.7h0M254.9 314.8h0" stroke="#4d4baa" stroke-width="2.2" stroke-linecap="round"/>
<path d="M250.3 335.7h0M251.4 325.9h0M229.9 319.6h0M251.1 319.6h0M232.7 334.4h0M253.9 327.9h0M225.7 319.1h0M252.2 330.4h0" stroke="#3a3fa0" stroke-width="2.2" stroke-linecap="round"/>
<path d="M255.7 312.5h0M248.5 333.2h0M251.7 317.1h0M256.3 324.9h0" stroke="#6058b4" stroke-width="2.2" stroke-linecap="round"/>
</g>
<defs><linearGradient id="ge12" x1="0" y1="1" x2="0" y2="0"><stop offset="0" stop-color="#e6e3ee"/><stop offset="0.4" stop-color="#b3a8d8"/><stop offset="0.7" stop-color="#7a68c0"/><stop offset="1" stop-color="#2e3f9c"/></linearGradient></defs>
<rect x="265.8" y="305.9" width="5.4" height="27" fill="url(#ge12)"/>
<text x="273.3" y="313.7" font-size="5.6">6</text>
<text x="273.3" y="320.27" font-size="5.6">4</text>
<text x="273.3" y="326.83" font-size="5.6">2</text>
<text x="273.3" y="333.4" font-size="5.6">0</text>
<text x="235.6" y="286.9" font-size="6.4" text-anchor="middle" font-style="italic">SERPINE1</text>
<path d="M202.6 336.7 L202.6 348.2 L216 348.2" fill="none" stroke="#3b4a6b" stroke-width="0.65"/>
<path d="M201.5 338.4 L202.6 335.8 L203.7 338.4 Z" fill="#3b4a6b"/>
<path d="M214.6 347.1 L217 348.2 L214.6 349.3 Z" fill="#3b4a6b"/>
<text x="219.8" y="350.4" font-size="6.3">PHATE<tspan font-size="3.8" dy="1.1">1</tspan></text>
<text x="205.2" y="332.2" font-size="6.3" transform="rotate(-90 205.2 332.2)">PHATE<tspan font-size="3.8" dy="1.1">2</tspan></text>
<path d="M312.3 239 L316.5 238.28 L320.5 237.8 L322.3 237.2 L322.9 236 L323 230 L322.7 227.6 L322.5 226.4 L322.9 224.6 L323.15 221 L323.2 215 L323.5 206.6 L323.5 206.6 L323.8 215 L323.85 221 L324.1 224.6 L324.5 226.4 L324.3 227.6 L324 230 L324.1 236 L324.7 237.2 L326.5 237.8 L330.5 238.28 L334.7 239 Z" fill="#1f8a7a" stroke="#1a1a1a" stroke-width="0.55" stroke-linejoin="round"/>
<path d="M338 239 L339.6 238.1 L342.1 236.9 L345.1 234.8 L347.1 231.8 L348.2 228.2 L348.2 224.6 L347.6 219.8 L347.2 215.6 L347.6 211.4 L348.4 206 L349 200 L349.6 192.8 L349.6 192.8 L350.2 200 L350.8 206 L351.6 211.4 L352 215.6 L351.6 219.8 L351 224.6 L351 228.2 L352.1 231.8 L354.1 234.8 L357.1 236.9 L359.6 238.1 L361.2 239 Z" fill="#e2bb68" stroke="#222" stroke-width="0.55" stroke-linejoin="round"/>
<path d="M363.9 239 L364.8 238.1 L367.3 236.6 L370.3 234.2 L372.3 231.2 L373 228.2 L371.8 224 L370.2 219.8 L369 215 L369.2 210.2 L370.3 205.4 L372 201.2 L374 198.2 L375.8 197 L375.8 197 L377.6 198.2 L379.6 201.2 L381.3 205.4 L382.4 210.2 L382.6 215 L381.4 219.8 L379.8 224 L378.6 228.2 L379.3 231.2 L381.3 234.2 L384.3 236.6 L386.8 238.1 L387.7 239 Z" fill="#dc6a4c" stroke="#222" stroke-width="0.55" stroke-linejoin="round"/>
<line x1="307.6" y1="191.3" x2="307.6" y2="241.3" stroke="#333" stroke-width="0.6"/>
<line x1="307.6" y1="241.3" x2="391.8" y2="241.3" stroke="#333" stroke-width="0.6"/>
<line x1="306.1" y1="239" x2="307.6" y2="239" stroke="#333" stroke-width="0.5"/>
<text x="303.3" y="241" font-size="5.6" text-anchor="end">0</text>
<line x1="306.1" y1="227" x2="307.6" y2="227" stroke="#333" stroke-width="0.5"/>
<text x="303.3" y="229" font-size="5.6" text-anchor="end">2</text>
<line x1="306.1" y1="215" x2="307.6" y2="215" stroke="#333" stroke-width="0.5"/>
<text x="303.3" y="217" font-size="5.6" text-anchor="end">4</text>
<line x1="306.1" y1="203" x2="307.6" y2="203" stroke="#333" stroke-width="0.5"/>
<text x="303.3" y="205" font-size="5.6" text-anchor="end">6</text>
<line x1="323.5" y1="241" x2="323.5" y2="242.5" stroke="#333" stroke-width="0.5"/>
<line x1="349.6" y1="241" x2="349.6" y2="242.5" stroke="#333" stroke-width="0.5"/>
<line x1="375.8" y1="241" x2="375.8" y2="242.5" stroke="#333" stroke-width="0.5"/>
<text x="345.2" y="187.7" font-size="6.4" text-anchor="middle" font-style="italic">CDKN1A</text>
<text x="292.4" y="216.3" font-size="7.3" text-anchor="middle" transform="rotate(-90 292.4 216.3)">Expression level</text>
<text x="326" y="249.3" font-size="5.9" text-anchor="end" transform="rotate(-45 326 249.3)">Cycling</text>
<text x="352.1" y="249.3" font-size="5.9" text-anchor="end" transform="rotate(-45 352.1 249.3)">Transitional</text>
<text x="378.3" y="249.3" font-size="5.9" text-anchor="end" transform="rotate(-45 378.3 249.3)">Senescent</text>
<path d="M312.5 339.4 L313.5 339.1 L323.1 338.8 L323.3 337.6 L323.35 305.2 L323.5 305.14 L323.5 305.14 L323.65 305.2 L323.7 337.6 L323.9 338.8 L333.5 339.1 L334.5 339.4 Z" fill="#c8c8c8" stroke="#bdbdbd" stroke-width="0.55" stroke-linejoin="round"/>
<path d="M338.1 339.4 L341.6 339.04 L348.4 338.5 L349.4 337.6 L349.48 294.4 L349.6 294.34 L349.6 294.34 L349.72 294.4 L349.8 337.6 L350.8 338.5 L357.6 339.04 L361.1 339.4 Z" fill="#555" stroke="#333" stroke-width="0.55" stroke-linejoin="round"/>
<path d="M363.8 339.4 L364.8 338.5 L367.3 337 L370.3 334.6 L372.6 331.6 L373.8 328.6 L374.2 324.4 L373.6 320.2 L372.8 315.4 L372.6 311.8 L373.3 307.6 L374.4 302.2 L375.1 297.4 L375.8 293.2 L375.8 293.2 L376.5 297.4 L377.2 302.2 L378.3 307.6 L379 311.8 L378.8 315.4 L378 320.2 L377.4 324.4 L377.8 328.6 L379 331.6 L381.3 334.6 L384.3 337 L386.8 338.5 L387.8 339.4 Z" fill="#dc6a4c" stroke="#222" stroke-width="0.55" stroke-linejoin="round"/>
<line x1="307.6" y1="291.4" x2="307.6" y2="341.7" stroke="#333" stroke-width="0.6"/>
<line x1="307.6" y1="341.7" x2="391.8" y2="341.7" stroke="#333" stroke-width="0.6"/>
<line x1="306.1" y1="339.4" x2="307.6" y2="339.4" stroke="#333" stroke-width="0.5"/>
<text x="303.3" y="341.4" font-size="5.6" text-anchor="end">0</text>
<line x1="306.1" y1="327.4" x2="307.6" y2="327.4" stroke="#333" stroke-width="0.5"/>
<text x="303.3" y="329.4" font-size="5.6" text-anchor="end">2</text>
<line x1="306.1" y1="315.4" x2="307.6" y2="315.4" stroke="#333" stroke-width="0.5"/>
<text x="303.3" y="317.4" font-size="5.6" text-anchor="end">4</text>
<line x1="306.1" y1="303.4" x2="307.6" y2="303.4" stroke="#333" stroke-width="0.5"/>
<text x="303.3" y="305.4" font-size="5.6" text-anchor="end">6</text>
<line x1="306.1" y1="291.4" x2="307.6" y2="291.4" stroke="#333" stroke-width="0.5"/>
<text x="303.3" y="293.4" font-size="5.6" text-anchor="end">8</text>
<line x1="323.5" y1="341.4" x2="323.5" y2="342.9" stroke="#333" stroke-width="0.5"/>
<line x1="349.6" y1="341.4" x2="349.6" y2="342.9" stroke="#333" stroke-width="0.5"/>
<line x1="375.8" y1="341.4" x2="375.8" y2="342.9" stroke="#333" stroke-width="0.5"/>
<text x="345.2" y="288" font-size="6.4" text-anchor="middle" font-style="italic">SERPINE1</text>
<text x="292.4" y="316.7" font-size="7.3" text-anchor="middle" transform="rotate(-90 292.4 316.7)">Expression level</text>
<text x="326" y="349.5" font-size="5.9" text-anchor="end" transform="rotate(-45 326 349.5)">Cycling</text>
<text x="352.1" y="349.5" font-size="5.9" text-anchor="end" transform="rotate(-45 352.1 349.5)">Transitional</text>
<text x="378.3" y="349.5" font-size="5.9" text-anchor="end" transform="rotate(-45 378.3 349.5)">Senescent</text>
<rect x="566.2" y="191.2" width="74.6" height="137.9" fill="#fff"/>
<line x1="580.1" y1="191.2" x2="580.1" y2="329.1" stroke="#ececec" stroke-width="0.45"/>
<line x1="603.1" y1="191.2" x2="603.1" y2="329.1" stroke="#ececec" stroke-width="0.45"/>
<line x1="626.3" y1="191.2" x2="626.3" y2="329.1" stroke="#ececec" stroke-width="0.45"/>
<line x1="566.2" y1="196.8" x2="640.8" y2="196.8" stroke="#ececec" stroke-width="0.45"/>
<line x1="566.2" y1="205.91" x2="640.8" y2="205.91" stroke="#ececec" stroke-width="0.45"/>
<line x1="566.2" y1="215.02" x2="640.8" y2="215.02" stroke="#ececec" stroke-width="0.45"/>
<line x1="566.2" y1="224.13" x2="640.8" y2="224.13" stroke="#ececec" stroke-width="0.45"/>
<line x1="566.2" y1="233.24" x2="640.8" y2="233.24" stroke="#ececec" stroke-width="0.45"/>
<line x1="566.2" y1="242.35" x2="640.8" y2="242.35" stroke="#ececec" stroke-width="0.45"/>
<line x1="566.2" y1="251.46" x2="640.8" y2="251.46" stroke="#ececec" stroke-width="0.45"/>
<line x1="566.2" y1="260.57" x2="640.8" y2="260.57" stroke="#ececec" stroke-width="0.45"/>
<line x1="566.2" y1="269.68" x2="640.8" y2="269.68" stroke="#ececec" stroke-width="0.45"/>
<line x1="566.2" y1="278.79" x2="640.8" y2="278.79" stroke="#ececec" stroke-width="0.45"/>
<line x1="566.2" y1="287.9" x2="640.8" y2="287.9" stroke="#ececec" stroke-width="0.45"/>
<line x1="566.2" y1="297.01" x2="640.8" y2="297.01" stroke="#ececec" stroke-width="0.45"/>
<line x1="566.2" y1="306.12" x2="640.8" y2="306.12" stroke="#ececec" stroke-width="0.45"/>
<line x1="566.2" y1="315.23" x2="640.8" y2="315.23" stroke="#ececec" stroke-width="0.45"/>
<line x1="566.2" y1="324.34" x2="640.8" y2="324.34" stroke="#ececec" stroke-width="0.45"/>
<rect x="566.2" y="191.2" width="74.6" height="137.9" fill="none" stroke="#7a7a7a" stroke-width="0.55"/>
<line x1="564.6" y1="196.8" x2="566.2" y2="196.8" stroke="#555" stroke-width="0.45"/>
<text x="561.7" y="198.9" font-size="6.35" text-anchor="end">Neutrophil degranulation</text>
<line x1="564.6" y1="205.91" x2="566.2" y2="205.91" stroke="#555" stroke-width="0.45"/>
<text x="561.7" y="208.01" font-size="6.35" text-anchor="end">Neutrophil activation involved in immune response</text>
<line x1="564.6" y1="215.02" x2="566.2" y2="215.02" stroke="#555" stroke-width="0.45"/>
<text x="561.7" y="217.12" font-size="6.35" text-anchor="end">Neutrophil mediated immunity</text>
<line x1="564.6" y1="224.13" x2="566.2" y2="224.13" stroke="#555" stroke-width="0.45"/>
<text x="561.7" y="226.23" font-size="6.35" text-anchor="end">Neutrophil activation</text>
<line x1="564.6" y1="233.24" x2="566.2" y2="233.24" stroke="#555" stroke-width="0.45"/>
<text x="561.7" y="235.34" font-size="6.35" text-anchor="end">Granulocyte activation</text>
<line x1="564.6" y1="242.35" x2="566.2" y2="242.35" stroke="#555" stroke-width="0.45"/>
<text x="561.7" y="244.45" font-size="6.35" text-anchor="end">Platelet degranulation</text>
<line x1="564.6" y1="251.46" x2="566.2" y2="251.46" stroke="#555" stroke-width="0.45"/>
<text x="561.7" y="253.56" font-size="6.35" text-anchor="end">Extracellular matrix organization</text>
<line x1="564.6" y1="260.57" x2="566.2" y2="260.57" stroke="#555" stroke-width="0.45"/>
<text x="561.7" y="262.67" font-size="6.35" text-anchor="end">Extracellular structure organization</text>
<line x1="564.6" y1="269.68" x2="566.2" y2="269.68" stroke="#555" stroke-width="0.45"/>
<text x="561.7" y="271.78" font-size="6.35" text-anchor="end">Negative regulation of peptidase activity</text>
<line x1="564.6" y1="278.79" x2="566.2" y2="278.79" stroke="#555" stroke-width="0.45"/>
<text x="561.7" y="280.89" font-size="6.35" text-anchor="end">Negative regulation of endopeptidase activity</text>
<line x1="564.6" y1="287.9" x2="566.2" y2="287.9" stroke="#555" stroke-width="0.45"/>
<text x="561.7" y="290" font-size="6.35" text-anchor="end">Chromosome segregation</text>
<line x1="564.6" y1="297.01" x2="566.2" y2="297.01" stroke="#555" stroke-width="0.45"/>
<text x="561.7" y="299.11" font-size="6.35" text-anchor="end">Nuclear division</text>
<line x1="564.6" y1="306.12" x2="566.2" y2="306.12" stroke="#555" stroke-width="0.45"/>
<text x="561.7" y="308.22" font-size="6.35" text-anchor="end">Mitotic nuclear division</text>
<line x1="564.6" y1="315.23" x2="566.2" y2="315.23" stroke="#555" stroke-width="0.45"/>
<text x="561.7" y="317.33" font-size="6.35" text-anchor="end">Organelle fission</text>
<line x1="564.6" y1="324.34" x2="566.2" y2="324.34" stroke="#555" stroke-width="0.45"/>
<text x="561.7" y="326.44" font-size="6.35" text-anchor="end">Sister chromatid segregation</text>
<circle cx="580.1" cy="196.8" r="2.7" fill="#c8533b"/>
<circle cx="580.1" cy="205.91" r="2.7" fill="#c8533b"/>
<circle cx="580.1" cy="215.02" r="2.7" fill="#c8533b"/>
<circle cx="580.1" cy="224.13" r="2.7" fill="#c8533b"/>
<circle cx="580.1" cy="233.24" r="2.7" fill="#c8533b"/>
<circle cx="580.1" cy="242.35" r="1.9" fill="#c8533b"/>
<circle cx="603.1" cy="242.35" r="2.7" fill="#c8533b"/>
<circle cx="580.1" cy="251.46" r="2.3" fill="#c8533b"/>
<circle cx="603.1" cy="251.46" r="2.7" fill="#b3b3b3"/>
<circle cx="580.1" cy="260.57" r="2.3" fill="#c8533b"/>
<circle cx="603.1" cy="260.57" r="2.7" fill="#b3b3b3"/>
<circle cx="580.1" cy="269.68" r="2.3" fill="#c8533b"/>
<circle cx="603.1" cy="269.68" r="2.7" fill="#b3b3b3"/>
<circle cx="580.1" cy="278.79" r="2.15" fill="#c8533b"/>
<circle cx="603.1" cy="278.79" r="2.7" fill="#b3b3b3"/>
<circle cx="626.3" cy="287.9" r="3.1" fill="#c8533b"/>
<circle cx="626.3" cy="297.01" r="3.1" fill="#c8533b"/>
<circle cx="626.3" cy="306.12" r="3.1" fill="#c8533b"/>
<circle cx="626.3" cy="315.23" r="3.1" fill="#c8533b"/>
<circle cx="626.3" cy="324.34" r="3.1" fill="#c8533b"/>
<text x="566.5" y="186.6" font-size="7.6" text-anchor="middle">GO:BP enrichment in subpopulation</text>
<line x1="580.1" y1="329.1" x2="580.1" y2="330.7" stroke="#555" stroke-width="0.45"/>
<line x1="603.1" y1="329.1" x2="603.1" y2="330.7" stroke="#555" stroke-width="0.45"/>
<line x1="626.3" y1="329.1" x2="626.3" y2="330.7" stroke="#555" stroke-width="0.45"/>
<text x="583.7" y="335.6" font-size="6.4" text-anchor="end" transform="rotate(-45 583.7 335.6)">Senescent</text>
<text x="578.21" y="351.49" font-size="6.4" text-anchor="middle" transform="rotate(-45 578.21 351.49)">(373)</text>
<text x="606.7" y="335.6" font-size="6.4" text-anchor="end" transform="rotate(-45 606.7 335.6)">Transitional</text>
<text x="600.29" y="352.41" font-size="6.4" text-anchor="middle" transform="rotate(-45 600.29 352.41)">(54)</text>
<text x="629.9" y="335.6" font-size="6.4" text-anchor="end" transform="rotate(-45 629.9 335.6)">Cycling</text>
<text x="627.68" y="348.22" font-size="6.4" text-anchor="middle" transform="rotate(-45 627.68 348.22)">(290)</text>
<text x="650" y="207.6" font-size="7.6"><tspan font-style="italic">P</tspan> adjusted</text>
<defs><linearGradient id="gpa" x1="0" y1="0" x2="0" y2="1"><stop offset="0" stop-color="#bdbdbd"/><stop offset="1" stop-color="#c9503a"/></linearGradient></defs>
<rect x="649.6" y="212" width="9.3" height="47" fill="url(#gpa)"/>
<line x1="649.6" y1="215" x2="651.4" y2="215" stroke="#fff" stroke-width="0.5"/>
<line x1="657.1" y1="215" x2="658.9" y2="215" stroke="#fff" stroke-width="0.5"/>
<text x="662" y="217.1" font-size="5.9">0.006</text>
<line x1="649.6" y1="229.6" x2="651.4" y2="229.6" stroke="#fff" stroke-width="0.5"/>
<line x1="657.1" y1="229.6" x2="658.9" y2="229.6" stroke="#fff" stroke-width="0.5"/>
<text x="662" y="231.7" font-size="5.9">0.004</text>
<line x1="649.6" y1="244.7" x2="651.4" y2="244.7" stroke="#fff" stroke-width="0.5"/>
<line x1="657.1" y1="244.7" x2="658.9" y2="244.7" stroke="#fff" stroke-width="0.5"/>
<text x="662" y="246.8" font-size="5.9">0.002</text>
<text x="650" y="275.8" font-size="7.6">GeneRatio</text>
<circle cx="654.3" cy="284.9" r="2.3" fill="#000"/>
<text x="662" y="287" font-size="5.9">0.05</text>
<circle cx="654.3" cy="294.2" r="2.75" fill="#000"/>
<text x="662" y="296.3" font-size="5.9">0.10</text>
<circle cx="654.3" cy="303.6" r="3" fill="#000"/>
<text x="662" y="305.7" font-size="5.9">0.15</text>
<circle cx="654.3" cy="312.9" r="3.25" fill="#000"/>
<text x="662" y="315" font-size="5.9">0.20</text>
<text x="-0.6" y="185.2" font-size="14" fill="#000" font-weight="bold" stroke="#000" stroke-width="0.35">e</text>
<text x="198.8" y="185" font-size="14" fill="#000" font-weight="bold" stroke="#000" stroke-width="0.35">f</text>
<text x="417.6" y="185.3" font-size="14" fill="#000" font-weight="bold" stroke="#000" stroke-width="0.35">g</text>
<rect x="3.9" y="416.2" width="8.18" height="12.3" fill="#a8a8d8" stroke="#ffffff" stroke-width="0.6"/>
<rect x="3.9" y="428.5" width="8.18" height="12.2" fill="#f08a8a" stroke="#ffffff" stroke-width="0.6"/>
<rect x="3.9" y="440.7" width="8.18" height="12.3" fill="#9090cc" stroke="#ffffff" stroke-width="0.6"/>
<rect x="12.08" y="416.2" width="8.17" height="12.3" fill="#c4c4e4" stroke="#ffffff" stroke-width="0.6"/>
<rect x="12.08" y="428.5" width="8.17" height="12.2" fill="#e86a6a" stroke="#ffffff" stroke-width="0.6"/>
<rect x="12.08" y="440.7" width="8.17" height="12.3" fill="#5a60b0" stroke="#ffffff" stroke-width="0.6"/>
<rect x="20.25" y="416.2" width="8.18" height="12.3" fill="#9898cc" stroke="#ffffff" stroke-width="0.6"/>
<rect x="20.25" y="428.5" width="8.18" height="12.2" fill="#e64848" stroke="#ffffff" stroke-width="0.6"/>
<rect x="20.25" y="440.7" width="8.18" height="12.3" fill="#3a50a8" stroke="#ffffff" stroke-width="0.6"/>
<rect x="28.43" y="416.2" width="8.18" height="12.3" fill="#f09090" stroke="#ffffff" stroke-width="0.6"/>
<rect x="28.43" y="428.5" width="8.18" height="12.2" fill="#f6d4d4" stroke="#ffffff" stroke-width="0.6"/>
<rect x="28.43" y="440.7" width="8.18" height="12.3" fill="#4450a8" stroke="#ffffff" stroke-width="0.6"/>
<rect x="36.6" y="416.2" width="8.17" height="12.3" fill="#f0a4a4" stroke="#ffffff" stroke-width="0.6"/>
<rect x="36.6" y="428.5" width="8.17" height="12.2" fill="#f4e4e4" stroke="#ffffff" stroke-width="0.6"/>
<rect x="36.6" y="440.7" width="8.17" height="12.3" fill="#a8a8d8" stroke="#ffffff" stroke-width="0.6"/>
<rect x="44.77" y="416.2" width="8.18" height="12.3" fill="#ee8a8a" stroke="#ffffff" stroke-width="0.6"/>
<rect x="44.77" y="428.5" width="8.18" height="12.2" fill="#e0e0f0" stroke="#ffffff" stroke-width="0.6"/>
<rect x="44.77" y="440.7" width="8.18" height="12.3" fill="#9c9cd0" stroke="#ffffff" stroke-width="0.6"/>
<rect x="52.95" y="416.2" width="8.18" height="12.3" fill="#f4e6e6" stroke="#ffffff" stroke-width="0.6"/>
<rect x="52.95" y="428.5" width="8.18" height="12.2" fill="#2a48a0" stroke="#ffffff" stroke-width="0.6"/>
<rect x="52.95" y="440.7" width="8.18" height="12.3" fill="#e42222" stroke="#ffffff" stroke-width="0.6"/>
<rect x="61.13" y="416.2" width="8.18" height="12.3" fill="#ea7070" stroke="#ffffff" stroke-width="0.6"/>
<rect x="61.13" y="428.5" width="8.18" height="12.2" fill="#3048a0" stroke="#ffffff" stroke-width="0.6"/>
<rect x="61.13" y="440.7" width="8.18" height="12.3" fill="#ea6a6a" stroke="#ffffff" stroke-width="0.6"/>
<rect x="69.3" y="416.2" width="8.17" height="12.3" fill="#f4b0b0" stroke="#ffffff" stroke-width="0.6"/>
<rect x="69.3" y="428.5" width="8.17" height="12.2" fill="#6a70b8" stroke="#ffffff" stroke-width="0.6"/>
<rect x="69.3" y="440.7" width="8.17" height="12.3" fill="#f2a4a4" stroke="#ffffff" stroke-width="0.6"/>
<rect x="77.48" y="416.2" width="8.17" height="12.3" fill="#f4caca" stroke="#ffffff" stroke-width="0.6"/>
<rect x="77.48" y="428.5" width="8.17" height="12.2" fill="#a4a4d4" stroke="#ffffff" stroke-width="0.6"/>
<rect x="77.48" y="440.7" width="8.17" height="12.3" fill="#f4d0d0" stroke="#ffffff" stroke-width="0.6"/>
<rect x="85.65" y="416.2" width="8.18" height="12.3" fill="#f0a8a8" stroke="#ffffff" stroke-width="0.6"/>
<rect x="85.65" y="428.5" width="8.18" height="12.2" fill="#9c9cd0" stroke="#ffffff" stroke-width="0.6"/>
<rect x="85.65" y="440.7" width="8.18" height="12.3" fill="#f4d4d4" stroke="#ffffff" stroke-width="0.6"/>
<rect x="93.83" y="416.2" width="8.17" height="12.3" fill="#8888c8" stroke="#ffffff" stroke-width="0.6"/>
<rect x="93.83" y="428.5" width="8.17" height="12.2" fill="#f2acac" stroke="#ffffff" stroke-width="0.6"/>
<rect x="93.83" y="440.7" width="8.17" height="12.3" fill="#f4d8d8" stroke="#ffffff" stroke-width="0.6"/>
<rect x="102" y="416.2" width="8.17" height="12.3" fill="#c4c4e4" stroke="#ffffff" stroke-width="0.6"/>
<rect x="102" y="428.5" width="8.17" height="12.2" fill="#f4d4d4" stroke="#ffffff" stroke-width="0.6"/>
<rect x="102" y="440.7" width="8.17" height="12.3" fill="#f2e8e8" stroke="#ffffff" stroke-width="0.6"/>
<rect x="110.18" y="416.2" width="8.18" height="12.3" fill="#c4c4e4" stroke="#ffffff" stroke-width="0.6"/>
<rect x="110.18" y="428.5" width="8.18" height="12.2" fill="#f4d4d4" stroke="#ffffff" stroke-width="0.6"/>
<rect x="110.18" y="440.7" width="8.18" height="12.3" fill="#b8b8e0" stroke="#ffffff" stroke-width="0.6"/>
<rect x="118.35" y="416.2" width="8.17" height="12.3" fill="#cccce8" stroke="#ffffff" stroke-width="0.6"/>
<rect x="118.35" y="428.5" width="8.17" height="12.2" fill="#f4d4d4" stroke="#ffffff" stroke-width="0.6"/>
<rect x="118.35" y="440.7" width="8.17" height="12.3" fill="#d4d4ec" stroke="#ffffff" stroke-width="0.6"/>
<rect x="126.53" y="416.2" width="8.17" height="12.3" fill="#c4c4e4" stroke="#ffffff" stroke-width="0.6"/>
<rect x="126.53" y="428.5" width="8.17" height="12.2" fill="#f2c4c4" stroke="#ffffff" stroke-width="0.6"/>
<rect x="126.53" y="440.7" width="8.17" height="12.3" fill="#cccce8" stroke="#ffffff" stroke-width="0.6"/>
<rect x="134.7" y="416.2" width="8.18" height="12.3" fill="#dcdcf0" stroke="#ffffff" stroke-width="0.6"/>
<rect x="134.7" y="428.5" width="8.18" height="12.2" fill="#f2c4c4" stroke="#ffffff" stroke-width="0.6"/>
<rect x="134.7" y="440.7" width="8.18" height="12.3" fill="#d4d4ec" stroke="#ffffff" stroke-width="0.6"/>
<rect x="142.88" y="416.2" width="8.17" height="12.3" fill="#e4e4f2" stroke="#ffffff" stroke-width="0.6"/>
<rect x="142.88" y="428.5" width="8.17" height="12.2" fill="#f4dcdc" stroke="#ffffff" stroke-width="0.6"/>
<rect x="142.88" y="440.7" width="8.17" height="12.3" fill="#c8c8e6" stroke="#ffffff" stroke-width="0.6"/>
<rect x="151.05" y="416.2" width="8.18" height="12.3" fill="#6e70b8" stroke="#ffffff" stroke-width="0.6"/>
<rect x="151.05" y="428.5" width="8.18" height="12.2" fill="#e2e2f2" stroke="#ffffff" stroke-width="0.6"/>
<rect x="151.05" y="440.7" width="8.18" height="12.3" fill="#ea6a6a" stroke="#ffffff" stroke-width="0.6"/>
<rect x="159.23" y="416.2" width="8.17" height="12.3" fill="#b0b0dc" stroke="#ffffff" stroke-width="0.6"/>
<rect x="159.23" y="428.5" width="8.17" height="12.2" fill="#f2f2f2" stroke="#ffffff" stroke-width="0.6"/>
<rect x="159.23" y="440.7" width="8.17" height="12.3" fill="#f2a8a8" stroke="#ffffff" stroke-width="0.6"/>
<rect x="167.4" y="416.2" width="8.18" height="12.3" fill="#e0e0f2" stroke="#ffffff" stroke-width="0.6"/>
<rect x="167.4" y="428.5" width="8.18" height="12.2" fill="#a8a8d8" stroke="#ffffff" stroke-width="0.6"/>
<rect x="167.4" y="440.7" width="8.18" height="12.3" fill="#f2a0a0" stroke="#ffffff" stroke-width="0.6"/>
<path d="M16.16 416.2 L16.16 412.8 L24.34 412.8 L24.34 416.2" fill="none" stroke="#4a4a4a" stroke-width="0.55"/>
<path d="M7.99 416.2 L7.99 410.8 L20.25 410.8 L20.25 412.8" fill="none" stroke="#4a4a4a" stroke-width="0.55"/>
<path d="M40.69 416.2 L40.69 413.6 L48.86 413.6 L48.86 416.2" fill="none" stroke="#4a4a4a" stroke-width="0.55"/>
<path d="M32.51 416.2 L32.51 410.8 L44.77 410.8 L44.77 413.6" fill="none" stroke="#4a4a4a" stroke-width="0.55"/>
<path d="M14.12 410.8 L14.12 400.5 L38.64 400.5 L38.64 410.8" fill="none" stroke="#4a4a4a" stroke-width="0.55"/>
<path d="M57.04 416.2 L57.04 408.5 L65.21 408.5 L65.21 416.2" fill="none" stroke="#4a4a4a" stroke-width="0.55"/>
<path d="M81.56 416.2 L81.56 414.5 L89.74 414.5 L89.74 416.2" fill="none" stroke="#4a4a4a" stroke-width="0.55"/>
<path d="M73.39 416.2 L73.39 411.9 L85.65 411.9 L85.65 414.5" fill="none" stroke="#4a4a4a" stroke-width="0.55"/>
<path d="M114.26 416.2 L114.26 414.6 L122.44 414.6 L122.44 416.2" fill="none" stroke="#4a4a4a" stroke-width="0.55"/>
<path d="M130.61 416.2 L130.61 414.2 L138.79 414.2 L138.79 416.2" fill="none" stroke="#4a4a4a" stroke-width="0.55"/>
<path d="M118.35 414.6 L118.35 413.9 L134.7 413.9 L134.7 414.2" fill="none" stroke="#4a4a4a" stroke-width="0.55"/>
<path d="M126.53 413.9 L126.53 414.8 L146.96 414.8 L146.96 416.2" fill="none" stroke="#4a4a4a" stroke-width="0.55"/>
<path d="M106.09 416.2 L106.09 413.2 L136.74 413.2 L136.74 414.8" fill="none" stroke="#4a4a4a" stroke-width="0.55"/>
<path d="M97.91 416.2 L97.91 409.4 L121.42 409.4 L121.42 413.2" fill="none" stroke="#4a4a4a" stroke-width="0.55"/>
<path d="M163.31 416.2 L163.31 412.3 L171.49 412.3 L171.49 416.2" fill="none" stroke="#4a4a4a" stroke-width="0.55"/>
<path d="M155.14 416.2 L155.14 409.4 L167.4 409.4 L167.4 412.3" fill="none" stroke="#4a4a4a" stroke-width="0.55"/>
<path d="M109.66 409.4 L109.66 405.2 L161.27 405.2 L161.27 409.4" fill="none" stroke="#4a4a4a" stroke-width="0.55"/>
<path d="M79.52 411.9 L79.52 403.3 L135.47 403.3 L135.47 405.2" fill="none" stroke="#4a4a4a" stroke-width="0.55"/>
<path d="M61.13 408.5 L61.13 396.1 L107.49 396.1 L107.49 403.3" fill="none" stroke="#4a4a4a" stroke-width="0.55"/>
<path d="M26.38 400.5 L26.38 385.6 L84.31 385.6 L84.31 396.1" fill="none" stroke="#4a4a4a" stroke-width="0.55"/>
<text x="10.19" y="456.6" font-size="6.15" text-anchor="end" transform="rotate(-90 10.19 456.6)">Plasma.cells</text>
<text x="18.36" y="456.6" font-size="6.15" text-anchor="end" transform="rotate(-90 18.36 456.6)">B.cells.naive</text>
<text x="26.54" y="456.6" font-size="6.15" text-anchor="end" transform="rotate(-90 26.54 456.6)">Mast.cells.resting</text>
<text x="34.71" y="456.6" font-size="6.15" text-anchor="end" transform="rotate(-90 34.71 456.6)">T.cells.follicular.helper</text>
<text x="42.89" y="456.6" font-size="6.15" text-anchor="end" transform="rotate(-90 42.89 456.6)">NK.cells.resting</text>
<text x="51.06" y="456.6" font-size="6.15" text-anchor="end" transform="rotate(-90 51.06 456.6)">Eosinophils</text>
<text x="59.24" y="456.6" font-size="6.15" text-anchor="end" transform="rotate(-90 59.24 456.6)">T.cells.CD4.memory.activated</text>
<text x="67.41" y="456.6" font-size="6.15" text-anchor="end" transform="rotate(-90 67.41 456.6)">Macrophages.M0</text>
<text x="75.59" y="456.6" font-size="6.15" text-anchor="end" transform="rotate(-90 75.59 456.6)">Mast.cells.activated</text>
<text x="83.76" y="456.6" font-size="6.15" text-anchor="end" transform="rotate(-90 83.76 456.6)">NK.cells.activated</text>
<text x="91.94" y="456.6" font-size="6.15" text-anchor="end" transform="rotate(-90 91.94 456.6)">Dendritic.cells.activated</text>
<text x="100.11" y="456.6" font-size="6.15" text-anchor="end" transform="rotate(-90 100.11 456.6)">T.cells.regulatory..Tregs.</text>
<text x="108.29" y="456.6" font-size="6.15" text-anchor="end" transform="rotate(-90 108.29 456.6)">B.cells.memory</text>
<text x="116.46" y="456.6" font-size="6.15" text-anchor="end" transform="rotate(-90 116.46 456.6)">Macrophages.M2</text>
<text x="124.64" y="456.6" font-size="6.15" text-anchor="end" transform="rotate(-90 124.64 456.6)">Monocytes</text>
<text x="132.81" y="456.6" font-size="6.15" text-anchor="end" transform="rotate(-90 132.81 456.6)">Dendritic.cells.resting</text>
<text x="140.99" y="456.6" font-size="6.15" text-anchor="end" transform="rotate(-90 140.99 456.6)">T.cells.CD4.naive</text>
<text x="149.16" y="456.6" font-size="6.15" text-anchor="end" transform="rotate(-90 149.16 456.6)">T.cells.CD4.memory.resting</text>
<text x="157.34" y="456.6" font-size="6.15" text-anchor="end" transform="rotate(-90 157.34 456.6)">Macrophages.M1</text>
<text x="165.51" y="456.6" font-size="6.15" text-anchor="end" transform="rotate(-90 165.51 456.6)">T.cells.CD8</text>
<text x="173.69" y="456.6" font-size="6.15" text-anchor="end" transform="rotate(-90 173.69 456.6)">T.cells.gamma.delta</text>
<text x="177.6" y="424.6" font-size="6.6">Cycling</text>
<text x="177.6" y="436.8" font-size="6.6">Transitional</text>
<text x="177.6" y="449.1" font-size="6.6">Senescent</text>
<defs><linearGradient id="gh" x1="0" y1="0" x2="0" y2="1"><stop offset="0" stop-color="#e62424"/><stop offset="0.25" stop-color="#f08080"/><stop offset="0.5" stop-color="#f4f2f4"/><stop offset="0.75" stop-color="#8088c8"/><stop offset="1" stop-color="#2444a0"/></linearGradient></defs>
<rect x="221.6" y="412.7" width="5.1" height="81.8" fill="url(#gh)"/>
<text x="228.8" y="415.6" font-size="5.9">0.3</text>
<text x="228.8" y="429.18" font-size="5.9">0.2</text>
<text x="228.8" y="442.77" font-size="5.9">0.1</text>
<text x="228.8" y="456.35" font-size="5.9">0</text>
<text x="228.8" y="469.93" font-size="5.9">−0.1</text>
<text x="228.8" y="483.52" font-size="5.9">−0.2</text>
<text x="228.8" y="497.1" font-size="5.9">−0.3</text>
<text x="222.5" y="407" font-size="7"><tspan font-style="italic">ρ</tspan></text>
<path d="M305.5 418.6 L436.15 418.6 L436.15 439.41 L367.47 439.41 L367.47 434.36 L355.26 434.36 L355.26 429.31 L336.82 429.31 L336.82 421.12 L315.27 421.12 L315.27 418.6 L305.5 418.6 Z" fill="#f6c9c7"/>
<path d="M305.5 418.6 L308.25 418.6 L308.25 418.79 L310.99 418.79 L310.99 418.97 L313.74 418.97 L313.74 419.16 L316.49 419.16 L316.49 419.34 L319.24 419.34 L319.24 419.53 L321.98 419.53 L321.98 420.37 L324.73 420.37 L324.73 421.72 L327.48 421.72 L327.48 423.07 L330.23 423.07 L330.23 424.42 L332.97 424.42 L332.97 426.14 L335.72 426.14 L335.72 427.94 L338.47 427.94 L338.47 429.74 L341.21 429.74 L341.21 431.54 L343.96 431.54 L343.96 433.19 L346.71 433.19 L346.71 434.56 L349.46 434.56 L349.46 435.92 L352.2 435.92 L352.2 437.28 L354.95 437.28 L354.95 438.65 L357.7 438.65 L357.7 439.66 L360.44 439.66 L360.44 440.63 L363.19 440.63 L363.19 441.61 L365.94 441.61 L365.94 442.58 L368.69 442.58 L368.69 443.55 L371.43 443.55 L371.43 444.24 L374.18 444.24 L374.18 444.81 L376.93 444.81 L376.93 445.38 L379.68 445.38 L379.68 445.95 L382.42 445.95 L382.42 446.49 L385.17 446.49 L385.17 446.96 L387.92 446.96 L387.92 447.43 L390.66 447.43 L390.66 447.91 L393.41 447.91 L393.41 448.38 L396.16 448.38 L396.16 448.85 L398.91 448.85 L398.91 449.32 L401.65 449.32 L401.65 449.79 L404.4 449.79 L404.4 450.26 L405.29 450.26 L405.29 450.42 L436.15 450.42 L436.15 469.1 L405.29 469.1 L405.29 468.62 L404.4 468.62 L404.4 467.15 L401.65 467.15 L401.65 465.67 L398.91 465.67 L398.91 464.19 L396.16 464.19 L396.16 462.84 L393.41 462.84 L393.41 461.93 L390.66 461.93 L390.66 461.03 L387.92 461.03 L387.92 460.13 L385.17 460.13 L385.17 459.22 L382.42 459.22 L382.42 458.14 L379.68 458.14 L379.68 457.01 L376.93 457.01 L376.93 455.87 L374.18 455.87 L374.18 454.73 L371.43 454.73 L371.43 453.65 L368.69 453.65 L368.69 452.68 L365.94 452.68 L365.94 451.71 L363.19 451.71 L363.19 450.73 L360.44 450.73 L360.44 449.76 L357.7 449.76 L357.7 448.77 L354.95 448.77 L354.95 447.57 L352.2 447.57 L352.2 446.37 L349.46 446.37 L349.46 445.18 L346.71 445.18 L346.71 443.98 L343.96 443.98 L343.96 442.5 L341.21 442.5 L341.21 440.97 L338.47 440.97 L338.47 439.45 L335.72 439.45 L335.72 437.93 L332.97 437.93 L332.97 436.27 L330.23 436.27 L330.23 434.6 L327.48 434.6 L327.48 432.93 L324.73 432.93 L324.73 431.26 L321.98 431.26 L321.98 428.53 L319.24 428.53 L319.24 424.42 L316.49 424.42 L316.49 422 L313.74 422 L313.74 420.87 L310.99 420.87 L310.99 419.73 L308.25 419.73 L308.25 418.6 L305.5 418.6 Z" fill="#aee2e2"/>
<path d="M305.5 418.6 L315.27 418.6 L315.27 420.22 L336.82 420.22 L336.82 422.64 L355.26 422.64 L355.26 425.97 L367.47 425.97 L367.47 429.71 L436.15 429.71" fill="none" stroke="#e6716b" stroke-width="1.1"/>
<path d="M305.5 418.6 L312.31 418.6 L312.31 419.11 L315.3 419.11 L315.3 420.22 L317.71 420.22 L317.71 423.15 L320.43 423.15 L320.43 426.18 L322.59 426.18 L322.59 428.2 L324.52 428.2 L324.52 429.31 L326.87 429.31 L326.87 430.22 L330.71 430.22 L330.71 431.33 L332.73 431.33 L332.73 433.35 L336.02 433.35 L336.02 434.96 L340.94 434.96 L340.94 437.39 L345.18 437.39 L345.18 439.51 L349.03 439.51 L349.03 441.43 L352.2 441.43 L352.2 443.04 L355.26 443.04 L355.26 444.46 L363.44 444.46 L363.44 446.48 L366.55 446.48 L366.55 448.4 L369.54 448.4 L369.54 449.61 L377.75 449.61 L377.75 450.62 L381.75 450.62 L381.75 453.55 L389.96 453.55 L389.96 454.66 L398.17 454.66 L398.17 456.58 L405.29 456.58 L405.29 460.31 L436.15 460.31" fill="none" stroke="#17a9a7" stroke-width="1.5"/>
<line x1="307.59" y1="417.1" x2="307.59" y2="420.1" stroke="#e6716b" stroke-width="0.6"/>
<line x1="310.97" y1="417.1" x2="310.97" y2="420.1" stroke="#e6716b" stroke-width="0.6"/>
<line x1="328.59" y1="418.72" x2="328.59" y2="421.72" stroke="#e6716b" stroke-width="0.6"/>
<line x1="321.84" y1="418.72" x2="321.84" y2="421.72" stroke="#e6716b" stroke-width="0.6"/>
<line x1="319.71" y1="418.72" x2="319.71" y2="421.72" stroke="#e6716b" stroke-width="0.6"/>
<line x1="331.39" y1="418.72" x2="331.39" y2="421.72" stroke="#e6716b" stroke-width="0.6"/>
<line x1="328.31" y1="418.72" x2="328.31" y2="421.72" stroke="#e6716b" stroke-width="0.6"/>
<line x1="340.81" y1="421.14" x2="340.81" y2="424.14" stroke="#e6716b" stroke-width="0.6"/>
<line x1="347.15" y1="421.14" x2="347.15" y2="424.14" stroke="#e6716b" stroke-width="0.6"/>
<line x1="349.24" y1="421.14" x2="349.24" y2="424.14" stroke="#e6716b" stroke-width="0.6"/>
<line x1="349.37" y1="421.14" x2="349.37" y2="424.14" stroke="#e6716b" stroke-width="0.6"/>
<line x1="364.92" y1="424.47" x2="364.92" y2="427.47" stroke="#e6716b" stroke-width="0.6"/>
<line x1="366.33" y1="424.47" x2="366.33" y2="427.47" stroke="#e6716b" stroke-width="0.6"/>
<line x1="363.37" y1="424.47" x2="363.37" y2="427.47" stroke="#e6716b" stroke-width="0.6"/>
<line x1="431.12" y1="428.21" x2="431.12" y2="431.21" stroke="#e6716b" stroke-width="0.6"/>
<line x1="401.4" y1="428.21" x2="401.4" y2="431.21" stroke="#e6716b" stroke-width="0.6"/>
<line x1="386.98" y1="428.21" x2="386.98" y2="431.21" stroke="#e6716b" stroke-width="0.6"/>
<line x1="428.02" y1="428.21" x2="428.02" y2="431.21" stroke="#e6716b" stroke-width="0.6"/>
<line x1="387.41" y1="428.21" x2="387.41" y2="431.21" stroke="#e6716b" stroke-width="0.6"/>
<line x1="380.03" y1="428.21" x2="380.03" y2="431.21" stroke="#e6716b" stroke-width="0.6"/>
<line x1="378.99" y1="428.21" x2="378.99" y2="431.21" stroke="#e6716b" stroke-width="0.6"/>
<line x1="404.2" y1="428.21" x2="404.2" y2="431.21" stroke="#e6716b" stroke-width="0.6"/>
<line x1="427.1" y1="428.21" x2="427.1" y2="431.21" stroke="#e6716b" stroke-width="0.6"/>
<line x1="392.74" y1="428.21" x2="392.74" y2="431.21" stroke="#e6716b" stroke-width="0.6"/>
<line x1="429.89" y1="428.21" x2="429.89" y2="431.21" stroke="#e6716b" stroke-width="0.6"/>
<line x1="425.48" y1="428.21" x2="425.48" y2="431.21" stroke="#e6716b" stroke-width="0.6"/>
<line x1="386.32" y1="428.21" x2="386.32" y2="431.21" stroke="#e6716b" stroke-width="0.6"/>
<line x1="401.6" y1="428.21" x2="401.6" y2="431.21" stroke="#e6716b" stroke-width="0.6"/>
<line x1="407.47" y1="428.21" x2="407.47" y2="431.21" stroke="#e6716b" stroke-width="0.6"/>
<line x1="411.33" y1="428.21" x2="411.33" y2="431.21" stroke="#e6716b" stroke-width="0.6"/>
<line x1="413.25" y1="428.21" x2="413.25" y2="431.21" stroke="#e6716b" stroke-width="0.6"/>
<line x1="306.24" y1="417.1" x2="306.24" y2="420.1" stroke="#17a9a7" stroke-width="0.6"/>
<line x1="339.36" y1="433.46" x2="339.36" y2="436.46" stroke="#17a9a7" stroke-width="0.6"/>
<line x1="341.78" y1="435.89" x2="341.78" y2="438.89" stroke="#17a9a7" stroke-width="0.6"/>
<line x1="359.31" y1="442.96" x2="359.31" y2="445.96" stroke="#17a9a7" stroke-width="0.6"/>
<line x1="359.57" y1="442.96" x2="359.57" y2="445.96" stroke="#17a9a7" stroke-width="0.6"/>
<line x1="370.75" y1="448.11" x2="370.75" y2="451.11" stroke="#17a9a7" stroke-width="0.6"/>
<line x1="374.68" y1="448.11" x2="374.68" y2="451.11" stroke="#17a9a7" stroke-width="0.6"/>
<line x1="380" y1="449.12" x2="380" y2="452.12" stroke="#17a9a7" stroke-width="0.6"/>
<line x1="383.91" y1="452.05" x2="383.91" y2="455.05" stroke="#17a9a7" stroke-width="0.6"/>
<line x1="387.77" y1="452.05" x2="387.77" y2="455.05" stroke="#17a9a7" stroke-width="0.6"/>
<line x1="391.42" y1="453.16" x2="391.42" y2="456.16" stroke="#17a9a7" stroke-width="0.6"/>
<line x1="397.2" y1="453.16" x2="397.2" y2="456.16" stroke="#17a9a7" stroke-width="0.6"/>
<line x1="399.03" y1="455.08" x2="399.03" y2="458.08" stroke="#17a9a7" stroke-width="0.6"/>
<line x1="429.26" y1="458.81" x2="429.26" y2="461.81" stroke="#17a9a7" stroke-width="0.6"/>
<line x1="421.85" y1="458.81" x2="421.85" y2="461.81" stroke="#17a9a7" stroke-width="0.6"/>
<line x1="410.83" y1="458.81" x2="410.83" y2="461.81" stroke="#17a9a7" stroke-width="0.6"/>
<line x1="414.46" y1="458.81" x2="414.46" y2="461.81" stroke="#17a9a7" stroke-width="0.6"/>
<line x1="433.68" y1="458.81" x2="433.68" y2="461.81" stroke="#17a9a7" stroke-width="0.6"/>
<line x1="425.52" y1="458.81" x2="425.52" y2="461.81" stroke="#17a9a7" stroke-width="0.6"/>
<line x1="423.38" y1="458.81" x2="423.38" y2="461.81" stroke="#17a9a7" stroke-width="0.6"/>
<line x1="299.9" y1="414.6" x2="299.9" y2="524.6" stroke="#333" stroke-width="0.6"/>
<line x1="299.9" y1="524.6" x2="436.15" y2="524.6" stroke="#333" stroke-width="0.6"/>
<line x1="297.9" y1="418.6" x2="299.9" y2="418.6" stroke="#333" stroke-width="0.55"/>
<text x="294.1" y="420.7" font-size="5.9" text-anchor="end">1.00</text>
<line x1="297.9" y1="443.85" x2="299.9" y2="443.85" stroke="#333" stroke-width="0.55"/>
<text x="294.1" y="445.95" font-size="5.9" text-anchor="end">0.75</text>
<line x1="297.9" y1="469.1" x2="299.9" y2="469.1" stroke="#333" stroke-width="0.55"/>
<text x="294.1" y="471.2" font-size="5.9" text-anchor="end">0.50</text>
<line x1="297.9" y1="494.35" x2="299.9" y2="494.35" stroke="#333" stroke-width="0.55"/>
<text x="294.1" y="496.45" font-size="5.9" text-anchor="end">0.25</text>
<line x1="297.9" y1="519.6" x2="299.9" y2="519.6" stroke="#333" stroke-width="0.55"/>
<text x="294.1" y="521.7" font-size="5.9" text-anchor="end">0</text>
<line x1="305.5" y1="524.6" x2="305.5" y2="526.6" stroke="#333" stroke-width="0.55"/>
<text x="305.5" y="533.2" font-size="5.9" text-anchor="middle">0</text>
<line x1="336.02" y1="524.6" x2="336.02" y2="526.6" stroke="#333" stroke-width="0.55"/>
<text x="336.02" y="533.2" font-size="5.9" text-anchor="middle">1,000</text>
<line x1="366.55" y1="524.6" x2="366.55" y2="526.6" stroke="#333" stroke-width="0.55"/>
<text x="366.55" y="533.2" font-size="5.9" text-anchor="middle">2,000</text>
<line x1="397.08" y1="524.6" x2="397.08" y2="526.6" stroke="#333" stroke-width="0.55"/>
<text x="397.08" y="533.2" font-size="5.9" text-anchor="middle">3,000</text>
<line x1="427.6" y1="524.6" x2="427.6" y2="526.6" stroke="#333" stroke-width="0.55"/>
<text x="427.6" y="533.2" font-size="5.9" text-anchor="middle">4,000</text>
<text x="366.55" y="543.8" font-size="7.5" text-anchor="middle">Time (days)</text>
<text x="275.1" y="469.1" font-size="7.9" text-anchor="middle" transform="rotate(-90 275.1 469.1)">Survival probability</text>
<text x="307.4" y="502.6" font-size="7"><tspan font-style="italic">P</tspan> = 0.0014</text>
<text x="292" y="408.7" font-size="6.1">Strata</text>
<rect x="313.1" y="402.8" width="8.4" height="7.4" fill="#f6c9c7"/>
<line x1="313.1" y1="406.5" x2="321.5" y2="406.5" stroke="#e6716b" stroke-width="1"/>
<line x1="317.3" y1="405.1" x2="317.3" y2="407.9" stroke="#e6716b" stroke-width="0.6"/>
<text x="324.9" y="408.7" font-size="6.1">Senescent=high</text>
<rect x="376.7" y="402.8" width="8.4" height="7.4" fill="#aee2e2"/>
<line x1="376.7" y1="406.5" x2="385.1" y2="406.5" stroke="#17a9a7" stroke-width="1.25"/>
<line x1="380.9" y1="405.1" x2="380.9" y2="407.9" stroke="#17a9a7" stroke-width="0.6"/>
<text x="388" y="408.7" font-size="6.1">Senescent=low</text>
<line x1="505.3" y1="399.2" x2="505.3" y2="525" stroke="#333" stroke-width="0.6"/>
<line x1="505.3" y1="525" x2="635.8" y2="525" stroke="#333" stroke-width="0.6"/>
<line x1="503.3" y1="412.3" x2="505.3" y2="412.3" stroke="#333" stroke-width="0.55"/>
<text x="501.3" y="414.4" font-size="5.9" text-anchor="end">0</text>
<line x1="503.3" y1="442.43" x2="505.3" y2="442.43" stroke="#333" stroke-width="0.55"/>
<text x="501.3" y="444.53" font-size="5.9" text-anchor="end">−0.5</text>
<line x1="503.3" y1="472.57" x2="505.3" y2="472.57" stroke="#333" stroke-width="0.55"/>
<text x="501.3" y="474.67" font-size="5.9" text-anchor="end">−1.0</text>
<line x1="503.3" y1="502.7" x2="505.3" y2="502.7" stroke="#333" stroke-width="0.55"/>
<text x="501.3" y="504.8" font-size="5.9" text-anchor="end">−1.5</text>
<line x1="525.7" y1="525" x2="525.7" y2="527" stroke="#333" stroke-width="0.55"/>
<text x="525.7" y="533.6" font-size="5.9" text-anchor="middle">−1.5</text>
<line x1="563.15" y1="525" x2="563.15" y2="527" stroke="#333" stroke-width="0.55"/>
<text x="563.15" y="533.6" font-size="5.9" text-anchor="middle">−1.0</text>
<line x1="600.6" y1="525" x2="600.6" y2="527" stroke="#333" stroke-width="0.55"/>
<text x="600.6" y="533.6" font-size="5.9" text-anchor="middle">−0.5</text>
<text x="571" y="546.6" font-size="7.7" text-anchor="middle">log<tspan font-size="4.8" dy="1.7">10</tspan><tspan dy="-1.7">(outgoing interaction strength)</tspan></text>
<text x="485" y="462.3" font-size="7.7" text-anchor="middle" transform="rotate(-90 485 462.3)">log<tspan font-size="4.8" dy="1.7">10</tspan><tspan dy="-1.7">(Incoming interaction strength)</tspan></text>
<circle cx="629.8" cy="404.5" r="2.42" fill="#c9aaa0"/>
<text x="624.2" y="409.8" font-size="7.4" text-anchor="end" fill="#c9aaa0">T</text>
<circle cx="601.9" cy="459.3" r="3.74" fill="#dc6a4c"/>
<text x="612.8" y="455.4" font-size="7.4" text-anchor="middle" fill="#dc6a4c">Senescent</text>
<circle cx="600" cy="463.3" r="3.3" fill="#e2bb68"/>
<text x="586.8" y="472" font-size="7.4" fill="#e2bb68">Transitional</text>
<circle cx="582.9" cy="468.2" r="1.3" fill="#a9c1e0"/>
<text x="578.8" y="474.6" font-size="7.4" text-anchor="middle" fill="#a9c1e0">B</text>
<circle cx="554.6" cy="481.7" r="3.08" fill="#eba5a5"/>
<text x="554.3" y="478.3" font-size="7.4" text-anchor="middle" fill="#eba5a5">Macro</text>
<circle cx="569.7" cy="488.6" r="3.08" fill="#2b9584"/>
<text x="578.9" y="498.1" font-size="7.4" text-anchor="middle" fill="#2b9584">Cycling</text>
<circle cx="511.6" cy="507.3" r="2.2" fill="#c4b4dc"/>
<text x="512.6" y="515.5" font-size="7.4" text-anchor="middle" fill="#c4b4dc">NK</text>
<circle cx="549.4" cy="512.5" r="3.3" fill="#98cb96"/>
<text x="557.9" y="509.2" font-size="7.4" text-anchor="middle" fill="#98cb96">Endo</text>
<circle cx="549.4" cy="519.4" r="3.63" fill="#f6c08c"/>
<text x="537.2" y="523.4" font-size="7.4" text-anchor="middle" fill="#f6c08c">CAF</text>
<text x="647.2" y="448.2" font-size="7.6">Count</text>
<circle cx="649.3" cy="455" r="2.4" fill="#000"/>
<text x="655.9" y="457.2" font-size="6.4">1,000</text>
<circle cx="649.3" cy="461.6" r="3.2" fill="#000"/>
<text x="655.9" y="463.8" font-size="6.4">1,500</text>
<circle cx="649.3" cy="468.8" r="3.55" fill="#000"/>
<text x="655.9" y="471" font-size="6.4">2,000</text>
<circle cx="649.3" cy="477.4" r="3.95" fill="#000"/>
<text x="655.9" y="479.6" font-size="6.4">2,500</text>
<rect x="83.8" y="575.3" width="113.6" height="85.1" fill="#fff"/>
<line x1="87.9" y1="575.3" x2="87.9" y2="660.4" stroke="#e0e0e0" stroke-width="0.5"/>
<line x1="94.11" y1="575.3" x2="94.11" y2="660.4" stroke="#e0e0e0" stroke-width="0.5"/>
<line x1="100.31" y1="575.3" x2="100.31" y2="660.4" stroke="#e0e0e0" stroke-width="0.5"/>
<line x1="106.52" y1="575.3" x2="106.52" y2="660.4" stroke="#e0e0e0" stroke-width="0.5"/>
<line x1="112.72" y1="575.3" x2="112.72" y2="660.4" stroke="#e0e0e0" stroke-width="0.5"/>
<line x1="118.93" y1="575.3" x2="118.93" y2="660.4" stroke="#e0e0e0" stroke-width="0.5"/>
<line x1="125.14" y1="575.3" x2="125.14" y2="660.4" stroke="#e0e0e0" stroke-width="0.5"/>
<line x1="131.34" y1="575.3" x2="131.34" y2="660.4" stroke="#e0e0e0" stroke-width="0.5"/>
<line x1="137.55" y1="575.3" x2="137.55" y2="660.4" stroke="#e0e0e0" stroke-width="0.5"/>
<line x1="143.75" y1="575.3" x2="143.75" y2="660.4" stroke="#e0e0e0" stroke-width="0.5"/>
<line x1="149.96" y1="575.3" x2="149.96" y2="660.4" stroke="#e0e0e0" stroke-width="0.5"/>
<line x1="156.16" y1="575.3" x2="156.16" y2="660.4" stroke="#e0e0e0" stroke-width="0.5"/>
<line x1="162.37" y1="575.3" x2="162.37" y2="660.4" stroke="#e0e0e0" stroke-width="0.5"/>
<line x1="168.58" y1="575.3" x2="168.58" y2="660.4" stroke="#e0e0e0" stroke-width="0.5"/>
<line x1="174.78" y1="575.3" x2="174.78" y2="660.4" stroke="#e0e0e0" stroke-width="0.5"/>
<line x1="180.99" y1="575.3" x2="180.99" y2="660.4" stroke="#e0e0e0" stroke-width="0.5"/>
<line x1="187.19" y1="575.3" x2="187.19" y2="660.4" stroke="#e0e0e0" stroke-width="0.5"/>
<line x1="193.4" y1="575.3" x2="193.4" y2="660.4" stroke="#e0e0e0" stroke-width="0.5"/>
<line x1="83.8" y1="582.1" x2="197.4" y2="582.1" stroke="#e0e0e0" stroke-width="0.5"/>
<line x1="83.8" y1="592.41" x2="197.4" y2="592.41" stroke="#e0e0e0" stroke-width="0.5"/>
<line x1="83.8" y1="602.73" x2="197.4" y2="602.73" stroke="#e0e0e0" stroke-width="0.5"/>
<line x1="83.8" y1="613.04" x2="197.4" y2="613.04" stroke="#e0e0e0" stroke-width="0.5"/>
<line x1="83.8" y1="623.36" x2="197.4" y2="623.36" stroke="#e0e0e0" stroke-width="0.5"/>
<line x1="83.8" y1="633.67" x2="197.4" y2="633.67" stroke="#e0e0e0" stroke-width="0.5"/>
<line x1="83.8" y1="643.99" x2="197.4" y2="643.99" stroke="#e0e0e0" stroke-width="0.5"/>
<line x1="83.8" y1="654.3" x2="197.4" y2="654.3" stroke="#e0e0e0" stroke-width="0.5"/>
<rect x="83.8" y="575.3" width="113.6" height="85.1" fill="none" stroke="#8a8a8a" stroke-width="0.55"/>
<line x1="82.3" y1="582.1" x2="83.8" y2="582.1" stroke="#555" stroke-width="0.45"/>
<text x="79.6" y="584.1" font-size="5.45" text-anchor="end">TGFB3 – (TGFBR1+TGFBR2)</text>
<line x1="82.3" y1="592.41" x2="83.8" y2="592.41" stroke="#555" stroke-width="0.45"/>
<text x="79.6" y="594.41" font-size="5.45" text-anchor="end">TGFB3 – (ACVR1+TGFBR1)</text>
<line x1="82.3" y1="602.73" x2="83.8" y2="602.73" stroke="#555" stroke-width="0.45"/>
<text x="79.6" y="604.73" font-size="5.45" text-anchor="end">TGFB1 – (TGFBR1+TGFBR2)</text>
<line x1="82.3" y1="613.04" x2="83.8" y2="613.04" stroke="#555" stroke-width="0.45"/>
<text x="79.6" y="615.04" font-size="5.45" text-anchor="end">TGFB1 – (ACVR1+TGFBR1)</text>
<line x1="82.3" y1="623.36" x2="83.8" y2="623.36" stroke="#555" stroke-width="0.45"/>
<text x="79.6" y="625.36" font-size="5.45" text-anchor="end">CSPG4 – (ITGA2+ITGB1)</text>
<line x1="82.3" y1="633.67" x2="83.8" y2="633.67" stroke="#555" stroke-width="0.45"/>
<text x="79.6" y="635.67" font-size="5.45" text-anchor="end">CD6 – ALCAM</text>
<line x1="82.3" y1="643.99" x2="83.8" y2="643.99" stroke="#555" stroke-width="0.45"/>
<text x="79.6" y="645.99" font-size="5.45" text-anchor="end">CD46 – JAG1</text>
<line x1="82.3" y1="654.3" x2="83.8" y2="654.3" stroke="#555" stroke-width="0.45"/>
<text x="79.6" y="656.3" font-size="5.45" text-anchor="end">CCL28 – CCR10</text>
<line x1="87.9" y1="660.4" x2="87.9" y2="661.9" stroke="#555" stroke-width="0.45"/>
<text x="90" y="665.8" font-size="6.2" text-anchor="end" transform="rotate(-90 90 665.8)">Endo -&gt; Cycling</text>
<line x1="94.11" y1="660.4" x2="94.11" y2="661.9" stroke="#555" stroke-width="0.45"/>
<text x="96.21" y="665.8" font-size="6.2" text-anchor="end" transform="rotate(-90 96.21 665.8)">Endo -&gt; Transitional</text>
<line x1="100.31" y1="660.4" x2="100.31" y2="661.9" stroke="#555" stroke-width="0.45"/>
<text x="102.41" y="665.8" font-size="6.2" text-anchor="end" transform="rotate(-90 102.41 665.8)">Endo -&gt; Senescent</text>
<line x1="106.52" y1="660.4" x2="106.52" y2="661.9" stroke="#555" stroke-width="0.45"/>
<text x="108.62" y="665.8" font-size="6.2" text-anchor="end" transform="rotate(-90 108.62 665.8)">B -&gt; Cycling</text>
<line x1="112.72" y1="660.4" x2="112.72" y2="661.9" stroke="#555" stroke-width="0.45"/>
<text x="114.82" y="665.8" font-size="6.2" text-anchor="end" transform="rotate(-90 114.82 665.8)">B -&gt; Transitional</text>
<line x1="118.93" y1="660.4" x2="118.93" y2="661.9" stroke="#555" stroke-width="0.45"/>
<text x="121.03" y="665.8" font-size="6.2" text-anchor="end" transform="rotate(-90 121.03 665.8)">B -&gt; Senescent</text>
<line x1="125.14" y1="660.4" x2="125.14" y2="661.9" stroke="#555" stroke-width="0.45"/>
<text x="127.24" y="665.8" font-size="6.2" text-anchor="end" transform="rotate(-90 127.24 665.8)">T -&gt; Cycling</text>
<line x1="131.34" y1="660.4" x2="131.34" y2="661.9" stroke="#555" stroke-width="0.45"/>
<text x="133.44" y="665.8" font-size="6.2" text-anchor="end" transform="rotate(-90 133.44 665.8)">T -&gt; Transitional</text>
<line x1="137.55" y1="660.4" x2="137.55" y2="661.9" stroke="#555" stroke-width="0.45"/>
<text x="139.65" y="665.8" font-size="6.2" text-anchor="end" transform="rotate(-90 139.65 665.8)">T -&gt; Senescent</text>
<line x1="143.75" y1="660.4" x2="143.75" y2="661.9" stroke="#555" stroke-width="0.45"/>
<text x="145.85" y="665.8" font-size="6.2" text-anchor="end" transform="rotate(-90 145.85 665.8)">NK -&gt; Cycling</text>
<line x1="149.96" y1="660.4" x2="149.96" y2="661.9" stroke="#555" stroke-width="0.45"/>
<text x="152.06" y="665.8" font-size="6.2" text-anchor="end" transform="rotate(-90 152.06 665.8)">NK -&gt; Transitional</text>
<line x1="156.16" y1="660.4" x2="156.16" y2="661.9" stroke="#555" stroke-width="0.45"/>
<text x="158.26" y="665.8" font-size="6.2" text-anchor="end" transform="rotate(-90 158.26 665.8)">NK -&gt; Senescent</text>
<line x1="162.37" y1="660.4" x2="162.37" y2="661.9" stroke="#555" stroke-width="0.45"/>
<text x="164.47" y="665.8" font-size="6.2" text-anchor="end" transform="rotate(-90 164.47 665.8)">Macro -&gt; Cycling</text>
<line x1="168.58" y1="660.4" x2="168.58" y2="661.9" stroke="#555" stroke-width="0.45"/>
<text x="170.68" y="665.8" font-size="6.2" text-anchor="end" transform="rotate(-90 170.68 665.8)">Macro -&gt; Transitional</text>
<line x1="174.78" y1="660.4" x2="174.78" y2="661.9" stroke="#555" stroke-width="0.45"/>
<text x="176.88" y="665.8" font-size="6.2" text-anchor="end" transform="rotate(-90 176.88 665.8)">Macro -&gt; Senescent</text>
<line x1="180.99" y1="660.4" x2="180.99" y2="661.9" stroke="#555" stroke-width="0.45"/>
<text x="183.09" y="665.8" font-size="6.2" text-anchor="end" transform="rotate(-90 183.09 665.8)">CAF -&gt; Cycling</text>
<line x1="187.19" y1="660.4" x2="187.19" y2="661.9" stroke="#555" stroke-width="0.45"/>
<text x="189.29" y="665.8" font-size="6.2" text-anchor="end" transform="rotate(-90 189.29 665.8)">CAF -&gt; Transitional</text>
<line x1="193.4" y1="660.4" x2="193.4" y2="661.9" stroke="#555" stroke-width="0.45"/>
<text x="195.5" y="665.8" font-size="6.2" text-anchor="end" transform="rotate(-90 195.5 665.8)">CAF -&gt; Senescent</text>
<circle cx="187.19" cy="582.1" r="2.45" fill="#f6c6aa"/>
<circle cx="193.4" cy="582.1" r="2.45" fill="#f2a68a"/>
<circle cx="193.4" cy="592.41" r="2.45" fill="#ee8a6a"/>
<circle cx="168.58" cy="602.73" r="2.45" fill="#fbe4d6"/>
<circle cx="174.78" cy="602.73" r="2.45" fill="#f8d4c2"/>
<circle cx="187.19" cy="602.73" r="2.45" fill="#fce8dc"/>
<circle cx="193.4" cy="602.73" r="2.45" fill="#fbe0d2"/>
<circle cx="174.78" cy="613.04" r="2.45" fill="#f9dccc"/>
<circle cx="193.4" cy="613.04" r="2.45" fill="#f9dccc"/>
<circle cx="187.19" cy="623.36" r="2.45" fill="#f2a68a"/>
<circle cx="193.4" cy="623.36" r="2.45" fill="#ef9676"/>
<circle cx="131.34" cy="633.67" r="2.45" fill="#d42a26"/>
<circle cx="137.55" cy="633.67" r="2.45" fill="#6e1010"/>
<circle cx="100.31" cy="643.99" r="2.45" fill="#f0a080"/>
<circle cx="118.93" cy="643.99" r="2.45" fill="#f0a484"/>
<circle cx="137.55" cy="643.99" r="2.45" fill="#e2402e"/>
<circle cx="156.16" cy="643.99" r="2.45" fill="#fbe0d2"/>
<circle cx="174.78" cy="643.99" r="2.45" fill="#ec8a68"/>
<circle cx="193.4" cy="643.99" r="2.45" fill="#f0a282"/>
<circle cx="174.78" cy="654.3" r="2.45" fill="#f4b494"/>
<circle cx="103.7" cy="568.3" r="1.1" fill="#000"/>
<text x="107.3" y="570.5" font-size="6.9"><tspan font-style="italic">P</tspan> &gt; 0.05</text>
<circle cx="145.9" cy="568.3" r="2.8" fill="#000"/>
<text x="151.2" y="570.5" font-size="6.9"><tspan font-style="italic">P</tspan> &lt; 0.01</text>
<defs><linearGradient id="gk" x1="0" y1="0" x2="0" y2="1"><stop offset="0" stop-color="#67000d"/><stop offset="0.3" stop-color="#c8201e"/><stop offset="0.65" stop-color="#f48a6a"/><stop offset="1" stop-color="#fff2ec"/></linearGradient></defs>
<rect x="203.9" y="590" width="5.3" height="63.6" fill="url(#gk)"/>
<text x="213.4" y="591.9" font-size="5.6">Max</text>
<text x="213.4" y="655.6" font-size="5.6">Min</text>
<text x="214.7" y="620.3" font-size="7.6" text-anchor="middle" transform="rotate(90 214.7 620.3)">Commun. Prob.</text>
<text x="239.5" y="585.3" font-size="7.5">TGFβ signaling pathway network</text>
<path d="M285.34 636.88 L286.83 638.87 L290.3 642.34 L293.78 644.03 L296.26 642.84 L298.25 637.87 L299.74 631.92 L303.71 631.72 L308.67 632.91 L312.15 637.08 L314.63 639.86 L316.42 643.83 L317.41 649.79 L315.62 650.29 L306.69 649.79 L291.79 648.8 L281.86 648.3 L278.39 647.31 L277.89 644.83 L279.38 639.86 L282.36 637.38 Z" fill="#f9d3b3"/>
<path d="M277.89 648.3 L278.39 652.77 L277.89 659.23 L283.85 655.75 L294.77 652.77 L303.71 651.98 L318.6 651.78 L317.61 650.78 L301.72 650.29 L286.83 648.8 Z" fill="#f2bdbd"/>
<path d="M278.39 649.29 L291.79 648 L303.71 643.63 L312.15 637.68" fill="none" stroke="#f0b4b8" stroke-width="0.8"/>
<path d="M282.98 631.1 A25.7 25.7 0 0 1 299.77 627.76" fill="none" stroke="#2b9584" stroke-width="2.3"/>
<path d="M300.3 627.85 A25.7 25.7 0 0 1 315.61 636.48" fill="none" stroke="#e2bb68" stroke-width="2.3"/>
<path d="M316.07 637.03 A25.7 25.7 0 0 1 321.8 652.89" fill="none" stroke="#dc6a4c" stroke-width="2.3"/>
<path d="M321.8 653.33 A25.7 25.7 0 0 1 315.9 669.58" fill="none" stroke="#98cb96" stroke-width="2.3"/>
<path d="M315.47 670.09 A25.7 25.7 0 0 1 300.52 678.52" fill="none" stroke="#a9c1e0" stroke-width="2.3"/>
<path d="M300.03 678.6 A25.7 25.7 0 0 1 283.41 675.55" fill="none" stroke="#c9aaa0" stroke-width="2.3"/>
<path d="M282.86 675.23 A25.7 25.7 0 0 1 271.92 661.91" fill="none" stroke="#c4b4dc" stroke-width="2.3"/>
<path d="M271.76 661.44 A25.7 25.7 0 0 1 271.83 644.75" fill="none" stroke="#eba5a5" stroke-width="2.3"/>
<path d="M272.01 644.24 A25.7 25.7 0 0 1 282.44 631.43" fill="none" stroke="#f6c08c" stroke-width="2.3"/>
<path d="M275.93 645.46 A21.6 21.6 0 0 1 282.36 636.53" fill="none" stroke="#dc6a4c" stroke-width="1.8"/>
<path d="M282.8 636.18 A21.6 21.6 0 0 1 284.34 635.08" fill="none" stroke="#e2bb68" stroke-width="1.8"/>
<path d="M275.8 660.59 A21.6 21.6 0 0 1 274.9 649.08" fill="none" stroke="#dc6a4c" stroke-width="1.8"/>
<path d="M275.05 648.34 A21.6 21.6 0 0 1 275.74 645.99" fill="none" stroke="#e2bb68" stroke-width="1.8"/>
<text x="289.99" y="624.44" font-size="7.6" text-anchor="end" transform="rotate(438 289.99 624.44)" dy="0.36em">Cycling</text>
<text x="310.18" y="628.31" font-size="7.6" transform="rotate(-60.5 310.18 628.31)" dy="0.36em">Transitional</text>
<text x="323.09" y="643.75" font-size="7.6" transform="rotate(-19.3 323.09 643.75)" dy="0.36em">Senescent</text>
<text x="322.98" y="662.98" font-size="7.6" transform="rotate(20 322.98 662.98)" dy="0.36em">Endo</text>
<text x="311.36" y="677.62" font-size="7.6" transform="rotate(58 311.36 677.62)" dy="0.36em">B</text>
<text x="292.09" y="681.72" font-size="7.6" text-anchor="end" transform="rotate(278 292.09 681.72)" dy="0.36em">T</text>
<text x="274.36" y="672.09" font-size="7.6" text-anchor="end" transform="rotate(319 274.36 672.09)" dy="0.36em">NK</text>
<text x="267.3" y="652.7" font-size="7.6" text-anchor="end" transform="rotate(361 267.3 652.7)" dy="0.36em">Macro</text>
<text x="273.72" y="635.72" font-size="7.6" text-anchor="end" transform="rotate(398 273.72 635.72)" dy="0.36em">CAF</text>
<path d="M414.8 596 L414.8 595.1 L436.8 595.1 L436.8 596 Z" fill="#8a8a8a"/>
<line x1="425.8" y1="595.6" x2="425.8" y2="576.28" stroke="#8a8a8a" stroke-width="0.7"/>
<path d="M440.1 596 L440.1 595.1 L462.1 595.1 L462.1 596 Z" fill="#8a8a8a"/>
<path d="M440.1 595.9 Q449.1 595.3 451.1 594.8 Q453.1 595.3 462.1 595.9 Z" fill="#333"/>
<line x1="451.1" y1="595.6" x2="451.1" y2="577.54" stroke="#222" stroke-width="0.7"/>
<path d="M464.8 595.6 L467.3 594.97 L470.3 594.13 L472.8 593.08 L474.3 591.82 L474.7 590.56 L474.1 588.88 L473.3 585.94 L473.7 583 L474.7 580.48 L475.4 577.54 L475.9 575.02 L476.3 573.34 L476.3 573.34 L476.7 575.02 L477.2 577.54 L477.9 580.48 L478.9 583 L479.3 585.94 L478.5 588.88 L477.9 590.56 L478.3 591.82 L479.8 593.08 L482.3 594.13 L485.3 594.97 L487.8 595.6 Z" fill="#dc6a4c" stroke="#1a1a1a" stroke-width="0.5" stroke-linejoin="round"/>
<line x1="410.9" y1="572.4" x2="410.9" y2="597.2" stroke="#333" stroke-width="0.55"/>
<line x1="410.9" y1="597.2" x2="491" y2="597.2" stroke="#333" stroke-width="0.55"/>
<line x1="409.1" y1="595.6" x2="410.9" y2="595.6" stroke="#333" stroke-width="0.45"/>
<line x1="409.7" y1="591.4" x2="410.9" y2="591.4" stroke="#333" stroke-width="0.45"/>
<line x1="409.7" y1="587.2" x2="410.9" y2="587.2" stroke="#333" stroke-width="0.45"/>
<line x1="409.7" y1="583" x2="410.9" y2="583" stroke="#333" stroke-width="0.45"/>
<line x1="409.1" y1="578.8" x2="410.9" y2="578.8" stroke="#333" stroke-width="0.45"/>
<line x1="409.7" y1="574.6" x2="410.9" y2="574.6" stroke="#333" stroke-width="0.45"/>
<text x="407" y="580.9" font-size="6" text-anchor="end">4</text>
<text x="407" y="597.7" font-size="6" text-anchor="end">0</text>
<text x="397.8" y="578.7" font-size="6.6" text-anchor="end">TGFBR2</text>
<path d="M414.8 623.2 L414.8 622.3 L436.8 622.3 L436.8 623.2 Z" fill="#8a8a8a"/>
<line x1="425.8" y1="622.8" x2="425.8" y2="604.32" stroke="#8a8a8a" stroke-width="0.7"/>
<path d="M440.1 623.2 L440.1 622.3 L462.1 622.3 L462.1 623.2 Z" fill="#8a8a8a"/>
<path d="M440.1 623.1 Q449.1 622.5 451.1 622 Q453.1 622.5 462.1 623.1 Z" fill="#333"/>
<line x1="451.1" y1="622.8" x2="451.1" y2="600.54" stroke="#222" stroke-width="0.7"/>
<path d="M464.8 622.8 L467.8 622.17 L470.8 621.33 L473.3 620.28 L474.7 619.02 L475.2 617.34 L475.4 614.4 L475.2 611.04 L475 608.52 L475.3 606 L475.7 603.48 L476.3 601.38 L476.3 601.38 L476.9 603.48 L477.3 606 L477.6 608.52 L477.4 611.04 L477.2 614.4 L477.4 617.34 L477.9 619.02 L479.3 620.28 L481.8 621.33 L484.8 622.17 L487.8 622.8 Z" fill="#dc6a4c" stroke="#1a1a1a" stroke-width="0.5" stroke-linejoin="round"/>
<line x1="410.9" y1="599.6" x2="410.9" y2="624.2" stroke="#333" stroke-width="0.55"/>
<line x1="410.9" y1="624.2" x2="491" y2="624.2" stroke="#333" stroke-width="0.55"/>
<line x1="409.1" y1="622.8" x2="410.9" y2="622.8" stroke="#333" stroke-width="0.45"/>
<line x1="409.7" y1="614.4" x2="410.9" y2="614.4" stroke="#333" stroke-width="0.45"/>
<line x1="409.1" y1="606" x2="410.9" y2="606" stroke="#333" stroke-width="0.45"/>
<text x="407" y="608.1" font-size="6" text-anchor="end">4</text>
<text x="407" y="624.9" font-size="6" text-anchor="end">0</text>
<text x="397.8" y="604.7" font-size="6.6" text-anchor="end">ACVR1</text>
<path d="M414.8 649.8 L414.8 648.9 L436.8 648.9 L436.8 649.8 Z" fill="#8a8a8a"/>
<line x1="425.8" y1="649.4" x2="425.8" y2="628.65" stroke="#8a8a8a" stroke-width="0.7"/>
<path d="M440.1 649.8 L440.1 648.9 L462.1 648.9 L462.1 649.8 Z" fill="#8a8a8a"/>
<path d="M440.1 649.7 Q449.1 649.1 451.1 648.6 Q453.1 649.1 462.1 649.7 Z" fill="#333"/>
<line x1="451.1" y1="649.4" x2="451.1" y2="627.4" stroke="#222" stroke-width="0.7"/>
<path d="M464.8 649.4 L467.3 648.78 L470.3 647.95 L473.1 646.91 L474.5 646.08 L474.8 644.83 L474 642.76 L473.1 639.86 L473 637.78 L473.5 634.88 L474.6 631.97 L475.5 629.48 L476.3 627.82 L476.3 627.82 L477.1 629.48 L478 631.97 L479.1 634.88 L479.6 637.78 L479.5 639.86 L478.6 642.76 L477.8 644.83 L478.1 646.08 L479.5 646.91 L482.3 647.95 L485.3 648.78 L487.8 649.4 Z" fill="#dc6a4c" stroke="#1a1a1a" stroke-width="0.5" stroke-linejoin="round"/>
<line x1="410.9" y1="626.4" x2="410.9" y2="650.8" stroke="#333" stroke-width="0.55"/>
<line x1="410.9" y1="650.8" x2="491" y2="650.8" stroke="#333" stroke-width="0.55"/>
<line x1="409.1" y1="649.4" x2="410.9" y2="649.4" stroke="#333" stroke-width="0.45"/>
<line x1="409.7" y1="645.25" x2="410.9" y2="645.25" stroke="#333" stroke-width="0.45"/>
<line x1="409.7" y1="641.1" x2="410.9" y2="641.1" stroke="#333" stroke-width="0.45"/>
<line x1="409.7" y1="636.95" x2="410.9" y2="636.95" stroke="#333" stroke-width="0.45"/>
<line x1="409.1" y1="632.8" x2="410.9" y2="632.8" stroke="#333" stroke-width="0.45"/>
<line x1="409.7" y1="628.65" x2="410.9" y2="628.65" stroke="#333" stroke-width="0.45"/>
<text x="407" y="634.9" font-size="6" text-anchor="end">4</text>
<text x="407" y="651.5" font-size="6" text-anchor="end">0</text>
<text x="397.8" y="632.3" font-size="6.6" text-anchor="end">ALCAM</text>
<path d="M414.8 677.1 L414.8 676.2 L436.8 676.2 L436.8 677.1 Z" fill="#8a8a8a"/>
<line x1="425.8" y1="676.7" x2="425.8" y2="659.06" stroke="#8a8a8a" stroke-width="0.7"/>
<path d="M440.1 677.1 L440.1 676.2 L462.1 676.2 L462.1 677.1 Z" fill="#8a8a8a"/>
<path d="M440.1 677 Q449.1 676.4 451.1 675.9 Q453.1 676.4 462.1 677 Z" fill="#333"/>
<line x1="451.1" y1="676.7" x2="451.1" y2="655.1" stroke="#222" stroke-width="0.7"/>
<path d="M464.8 676.7 L467.3 676.16 L470.8 675.26 L473.5 674.18 L475 673.1 L475 671.3 L474.5 668.78 L474.1 665.9 L474 663.74 L474.3 661.22 L475 658.7 L475.7 656.9 L476.3 655.82 L476.3 655.82 L476.9 656.9 L477.6 658.7 L478.3 661.22 L478.6 663.74 L478.5 665.9 L478.1 668.78 L477.6 671.3 L477.6 673.1 L479.1 674.18 L481.8 675.26 L485.3 676.16 L487.8 676.7 Z" fill="#dc6a4c" stroke="#1a1a1a" stroke-width="0.5" stroke-linejoin="round"/>
<line x1="410.9" y1="653.4" x2="410.9" y2="677.9" stroke="#333" stroke-width="0.55"/>
<line x1="410.9" y1="677.9" x2="491" y2="677.9" stroke="#333" stroke-width="0.55"/>
<line x1="409.1" y1="676.7" x2="410.9" y2="676.7" stroke="#333" stroke-width="0.45"/>
<line x1="409.7" y1="669.5" x2="410.9" y2="669.5" stroke="#333" stroke-width="0.45"/>
<line x1="409.1" y1="662.3" x2="410.9" y2="662.3" stroke="#333" stroke-width="0.45"/>
<line x1="409.7" y1="655.1" x2="410.9" y2="655.1" stroke="#333" stroke-width="0.45"/>
<text x="407" y="664.4" font-size="6" text-anchor="end">4</text>
<text x="407" y="678.8" font-size="6" text-anchor="end">0</text>
<text x="397.8" y="658" font-size="6.6" text-anchor="end">CCR10</text>
<line x1="425.8" y1="677.9" x2="425.8" y2="679.6" stroke="#333" stroke-width="0.45"/>
<text x="428.8" y="686" font-size="7.9" text-anchor="end" transform="rotate(-45 428.8 686)">Cycling</text>
<line x1="451.1" y1="677.9" x2="451.1" y2="679.6" stroke="#333" stroke-width="0.45"/>
<text x="454.7" y="686.6" font-size="7.9" text-anchor="end" transform="rotate(-45 454.7 686.6)">Transitional</text>
<line x1="476.3" y1="677.9" x2="476.3" y2="679.6" stroke="#333" stroke-width="0.45"/>
<text x="479.3" y="686" font-size="7.9" text-anchor="end" transform="rotate(-45 479.3 686)">Senescent</text>
<path d="M542.3 583.3 L591.2 583.3 L591.2 584.3 L605.51 584.3 L605.51 585.3 L636.2 585.3 L636.2 587.31 L671.98 587.31 L671.98 612.76 L636.2 612.76 L636.2 605.34 L605.51 605.34 L605.51 601.34 L598.39 601.34 L598.39 596.33 L591.2 596.33 L591.2 586.31 L548.36 586.31 L548.36 583.3 L542.3 583.3 Z" fill="#f6c9c7"/>
<path d="M542.3 583.3 L545.03 583.3 L545.03 584.34 L547.75 584.34 L547.75 585.39 L550.48 585.39 L550.48 586.43 L553.21 586.43 L553.21 587.47 L555.93 587.47 L555.93 588.56 L558.66 588.56 L558.66 589.79 L561.39 589.79 L561.39 591.02 L564.12 591.02 L564.12 592.25 L566.84 592.25 L566.84 593.49 L569.57 593.49 L569.57 594.72 L572.3 594.72 L572.3 595.97 L575.02 595.97 L575.02 597.22 L577.75 597.22 L577.75 598.47 L580.48 598.47 L580.48 599.72 L583.2 599.72 L583.2 600.97 L585.93 600.97 L585.93 602.13 L588.66 602.13 L588.66 603.24 L591.39 603.24 L591.39 604.35 L594.11 604.35 L594.11 605.46 L596.84 605.46 L596.84 606.53 L599.57 606.53 L599.57 607.45 L602.29 607.45 L602.29 608.36 L605.02 608.36 L605.02 609.28 L607.75 609.28 L607.75 610.2 L610.48 610.2 L610.48 611.11 L613.2 611.11 L613.2 611.99 L615.93 611.99 L615.93 612.68 L618.66 612.68 L618.66 613.38 L621.38 613.38 L621.38 614.07 L624.11 614.07 L624.11 614.76 L626.84 614.76 L626.84 615.08 L629.56 615.08 L629.56 615.25 L632.29 615.25 L632.29 615.42 L635.02 615.42 L635.02 615.58 L637.75 615.58 L637.75 615.75 L640.47 615.75 L640.47 615.92 L641.29 615.92 L641.29 615.97 L671.98 615.97 L671.98 634.4 L641.29 634.4 L641.29 634.1 L640.47 634.1 L640.47 633.1 L637.75 633.1 L637.75 632.1 L635.02 632.1 L635.02 631.1 L632.29 631.1 L632.29 630.1 L629.56 630.1 L629.56 629.1 L626.84 629.1 L626.84 628.26 L624.11 628.26 L624.11 627.79 L621.38 627.79 L621.38 627.33 L618.66 627.33 L618.66 626.47 L615.93 626.47 L615.93 625.42 L613.2 625.42 L613.2 624.37 L610.48 624.37 L610.48 623.32 L607.75 623.32 L607.75 622.28 L605.02 622.28 L605.02 621.2 L602.29 621.2 L602.29 620.11 L599.57 620.11 L599.57 619.02 L596.84 619.02 L596.84 617.93 L594.11 617.93 L594.11 616.85 L591.39 616.85 L591.39 615.65 L588.66 615.65 L588.66 613.96 L585.93 613.96 L585.93 612.27 L583.2 612.27 L583.2 610.58 L580.48 610.58 L580.48 608.89 L577.75 608.89 L577.75 607.18 L575.02 607.18 L575.02 605.42 L572.3 605.42 L572.3 603.67 L569.57 603.67 L569.57 601.91 L566.84 601.91 L566.84 600.15 L564.12 600.15 L564.12 598.34 L561.39 598.34 L561.39 595.9 L558.66 595.9 L558.66 593.46 L555.93 593.46 L555.93 591.02 L553.21 591.02 L553.21 588.77 L550.48 588.77 L550.48 586.94 L547.75 586.94 L547.75 585.12 L545.03 585.12 L545.03 583.3 L542.3 583.3 Z" fill="#aee2e2"/>
<path d="M542.3 583.3 L548.36 583.3 L548.36 584.3 L591.2 584.3 L591.2 589.31 L598.39 589.31 L598.39 592.32 L605.51 592.32 L605.51 595.42 L636.2 595.42 L636.2 600.53 L671.98 600.53" fill="none" stroke="#e6716b" stroke-width="1.1"/>
<path d="M542.3 583.3 L548.36 583.3 L548.36 583.8 L551.3 583.8 L551.3 586.31 L553.21 586.31 L553.21 588.81 L555.39 588.81 L555.39 591.32 L558.36 591.32 L558.36 593.32 L561.6 593.32 L561.6 595.42 L565.02 595.42 L565.02 597.13 L568.69 597.13 L568.69 598.53 L572.6 598.53 L572.6 600.73 L575.9 600.73 L575.9 602.64 L580.17 602.64 L580.17 604.74 L583.99 604.74 L583.99 606.75 L589.17 606.75 L589.17 609.75 L592.29 609.75 L592.29 610.86 L596.29 610.86 L596.29 611.86 L599.87 611.86 L599.87 613.36 L604.51 613.36 L604.51 614.96 L612.69 614.96 L612.69 615.97 L617.81 615.97 L617.81 619.07 L624.9 619.07 L624.9 620.47 L633.11 620.47 L633.11 622.08 L641.29 622.08 L641.29 625.38 L671.98 625.38" fill="none" stroke="#17a9a7" stroke-width="1.5"/>
<line x1="545.22" y1="581.8" x2="545.22" y2="584.8" stroke="#e6716b" stroke-width="0.6"/>
<line x1="556.75" y1="582.8" x2="556.75" y2="585.8" stroke="#e6716b" stroke-width="0.6"/>
<line x1="557.77" y1="582.8" x2="557.77" y2="585.8" stroke="#e6716b" stroke-width="0.6"/>
<line x1="567.86" y1="582.8" x2="567.86" y2="585.8" stroke="#e6716b" stroke-width="0.6"/>
<line x1="564.58" y1="582.8" x2="564.58" y2="585.8" stroke="#e6716b" stroke-width="0.6"/>
<line x1="585.39" y1="582.8" x2="585.39" y2="585.8" stroke="#e6716b" stroke-width="0.6"/>
<line x1="558.01" y1="582.8" x2="558.01" y2="585.8" stroke="#e6716b" stroke-width="0.6"/>
<line x1="550.73" y1="582.8" x2="550.73" y2="585.8" stroke="#e6716b" stroke-width="0.6"/>
<line x1="585.52" y1="582.8" x2="585.52" y2="585.8" stroke="#e6716b" stroke-width="0.6"/>
<line x1="584.65" y1="582.8" x2="584.65" y2="585.8" stroke="#e6716b" stroke-width="0.6"/>
<line x1="557.65" y1="582.8" x2="557.65" y2="585.8" stroke="#e6716b" stroke-width="0.6"/>
<line x1="597.79" y1="587.81" x2="597.79" y2="590.81" stroke="#e6716b" stroke-width="0.6"/>
<line x1="599.41" y1="590.82" x2="599.41" y2="593.82" stroke="#e6716b" stroke-width="0.6"/>
<line x1="623.99" y1="593.92" x2="623.99" y2="596.92" stroke="#e6716b" stroke-width="0.6"/>
<line x1="630.77" y1="593.92" x2="630.77" y2="596.92" stroke="#e6716b" stroke-width="0.6"/>
<line x1="629.33" y1="593.92" x2="629.33" y2="596.92" stroke="#e6716b" stroke-width="0.6"/>
<line x1="619.16" y1="593.92" x2="619.16" y2="596.92" stroke="#e6716b" stroke-width="0.6"/>
<line x1="619.62" y1="593.92" x2="619.62" y2="596.92" stroke="#e6716b" stroke-width="0.6"/>
<line x1="617.87" y1="593.92" x2="617.87" y2="596.92" stroke="#e6716b" stroke-width="0.6"/>
<line x1="634.01" y1="593.92" x2="634.01" y2="596.92" stroke="#e6716b" stroke-width="0.6"/>
<line x1="664.81" y1="599.03" x2="664.81" y2="602.03" stroke="#e6716b" stroke-width="0.6"/>
<line x1="662.71" y1="599.03" x2="662.71" y2="602.03" stroke="#e6716b" stroke-width="0.6"/>
<line x1="669.99" y1="599.03" x2="669.99" y2="602.03" stroke="#e6716b" stroke-width="0.6"/>
<line x1="640.96" y1="599.03" x2="640.96" y2="602.03" stroke="#e6716b" stroke-width="0.6"/>
<line x1="651.01" y1="599.03" x2="651.01" y2="602.03" stroke="#e6716b" stroke-width="0.6"/>
<line x1="647.44" y1="599.03" x2="647.44" y2="602.03" stroke="#e6716b" stroke-width="0.6"/>
<line x1="649.18" y1="599.03" x2="649.18" y2="602.03" stroke="#e6716b" stroke-width="0.6"/>
<line x1="645.31" y1="599.03" x2="645.31" y2="602.03" stroke="#e6716b" stroke-width="0.6"/>
<line x1="647.23" y1="599.03" x2="647.23" y2="602.03" stroke="#e6716b" stroke-width="0.6"/>
<line x1="547.36" y1="581.8" x2="547.36" y2="584.8" stroke="#17a9a7" stroke-width="0.6"/>
<line x1="576.68" y1="601.14" x2="576.68" y2="604.14" stroke="#17a9a7" stroke-width="0.6"/>
<line x1="584.47" y1="605.25" x2="584.47" y2="608.25" stroke="#17a9a7" stroke-width="0.6"/>
<line x1="595.69" y1="609.36" x2="595.69" y2="612.36" stroke="#17a9a7" stroke-width="0.6"/>
<line x1="602.15" y1="611.86" x2="602.15" y2="614.86" stroke="#17a9a7" stroke-width="0.6"/>
<line x1="606.39" y1="613.46" x2="606.39" y2="616.46" stroke="#17a9a7" stroke-width="0.6"/>
<line x1="606.75" y1="613.46" x2="606.75" y2="616.46" stroke="#17a9a7" stroke-width="0.6"/>
<line x1="617.16" y1="614.47" x2="617.16" y2="617.47" stroke="#17a9a7" stroke-width="0.6"/>
<line x1="620.84" y1="617.57" x2="620.84" y2="620.57" stroke="#17a9a7" stroke-width="0.6"/>
<line x1="629.9" y1="618.97" x2="629.9" y2="621.97" stroke="#17a9a7" stroke-width="0.6"/>
<line x1="626.22" y1="618.97" x2="626.22" y2="621.97" stroke="#17a9a7" stroke-width="0.6"/>
<line x1="638.52" y1="620.58" x2="638.52" y2="623.58" stroke="#17a9a7" stroke-width="0.6"/>
<line x1="637.96" y1="620.58" x2="637.96" y2="623.58" stroke="#17a9a7" stroke-width="0.6"/>
<line x1="644.3" y1="623.88" x2="644.3" y2="626.88" stroke="#17a9a7" stroke-width="0.6"/>
<line x1="649.82" y1="623.88" x2="649.82" y2="626.88" stroke="#17a9a7" stroke-width="0.6"/>
<line x1="670.19" y1="623.88" x2="670.19" y2="626.88" stroke="#17a9a7" stroke-width="0.6"/>
<line x1="646.53" y1="623.88" x2="646.53" y2="626.88" stroke="#17a9a7" stroke-width="0.6"/>
<line x1="666.43" y1="623.88" x2="666.43" y2="626.88" stroke="#17a9a7" stroke-width="0.6"/>
<line x1="666.59" y1="623.88" x2="666.59" y2="626.88" stroke="#17a9a7" stroke-width="0.6"/>
<line x1="647.38" y1="623.88" x2="647.38" y2="626.88" stroke="#17a9a7" stroke-width="0.6"/>
<line x1="536.6" y1="579.3" x2="536.6" y2="688.3" stroke="#333" stroke-width="0.6"/>
<line x1="536.6" y1="688.3" x2="671.98" y2="688.3" stroke="#333" stroke-width="0.6"/>
<line x1="534.6" y1="583.3" x2="536.6" y2="583.3" stroke="#333" stroke-width="0.55"/>
<text x="530.8" y="585.4" font-size="5.9" text-anchor="end">1.00</text>
<line x1="534.6" y1="608.35" x2="536.6" y2="608.35" stroke="#333" stroke-width="0.55"/>
<text x="530.8" y="610.45" font-size="5.9" text-anchor="end">0.75</text>
<line x1="534.6" y1="633.4" x2="536.6" y2="633.4" stroke="#333" stroke-width="0.55"/>
<text x="530.8" y="635.5" font-size="5.9" text-anchor="end">0.50</text>
<line x1="534.6" y1="658.45" x2="536.6" y2="658.45" stroke="#333" stroke-width="0.55"/>
<text x="530.8" y="660.55" font-size="5.9" text-anchor="end">0.25</text>
<line x1="534.6" y1="683.5" x2="536.6" y2="683.5" stroke="#333" stroke-width="0.55"/>
<text x="530.8" y="685.6" font-size="5.9" text-anchor="end">0</text>
<line x1="542.3" y1="688.3" x2="542.3" y2="690.3" stroke="#333" stroke-width="0.55"/>
<text x="542.3" y="696.9" font-size="5.9" text-anchor="middle">0</text>
<line x1="572.6" y1="688.3" x2="572.6" y2="690.3" stroke="#333" stroke-width="0.55"/>
<text x="572.6" y="696.9" font-size="5.9" text-anchor="middle">1,000</text>
<line x1="602.9" y1="688.3" x2="602.9" y2="690.3" stroke="#333" stroke-width="0.55"/>
<text x="602.9" y="696.9" font-size="5.9" text-anchor="middle">2,000</text>
<line x1="633.2" y1="688.3" x2="633.2" y2="690.3" stroke="#333" stroke-width="0.55"/>
<text x="633.2" y="696.9" font-size="5.9" text-anchor="middle">3,000</text>
<line x1="663.5" y1="688.3" x2="663.5" y2="690.3" stroke="#333" stroke-width="0.55"/>
<text x="663.5" y="696.9" font-size="5.9" text-anchor="middle">4,000</text>
<text x="602.9" y="707.5" font-size="7.5" text-anchor="middle">Time (days)</text>
<text x="511.8" y="633.4" font-size="7.9" text-anchor="middle" transform="rotate(-90 511.8 633.4)">Survival probability</text>
<text x="543.5" y="667" font-size="7"><tspan font-style="italic">P</tspan> = 0.00037</text>
<rect x="559.3" y="568.8" width="8.4" height="7.4" fill="#f6c9c7"/>
<line x1="559.3" y1="572.5" x2="567.7" y2="572.5" stroke="#e6716b" stroke-width="1"/>
<line x1="563.5" y1="571.1" x2="563.5" y2="573.9" stroke="#e6716b" stroke-width="0.6"/>
<text x="571.3" y="574.7" font-size="6.1">Score=high</text>
<rect x="612.6" y="568.8" width="8.4" height="7.4" fill="#aee2e2"/>
<line x1="612.6" y1="572.5" x2="621" y2="572.5" stroke="#17a9a7" stroke-width="1.25"/>
<line x1="616.8" y1="571.1" x2="616.8" y2="573.9" stroke="#17a9a7" stroke-width="0.6"/>
<text x="625.2" y="574.7" font-size="6.1">Score=low</text>
<text x="-0.6" y="390.5" font-size="14" fill="#000" font-weight="bold" stroke="#000" stroke-width="0.35">h</text>
<text x="269.2" y="390.4" font-size="14" fill="#000" font-weight="bold" stroke="#000" stroke-width="0.35">i</text>
<text x="477.7" y="390.3" font-size="14" fill="#000" font-weight="bold" stroke="#000" stroke-width="0.35">j</text>
<text x="-0.6" y="566.8" font-size="14" fill="#000" font-weight="bold" stroke="#000" stroke-width="0.35">k</text>
<text x="239.2" y="572.9" font-size="14" fill="#000" font-weight="bold" stroke="#000" stroke-width="0.35">l</text>
<text x="372.2" y="570.5" font-size="14" fill="#000" font-weight="bold" stroke="#000" stroke-width="0.35">m</text>
<text x="506.6" y="569.6" font-size="14" fill="#000" font-weight="bold" stroke="#000" stroke-width="0.35">n</text>
</g>
</svg></body></html>
